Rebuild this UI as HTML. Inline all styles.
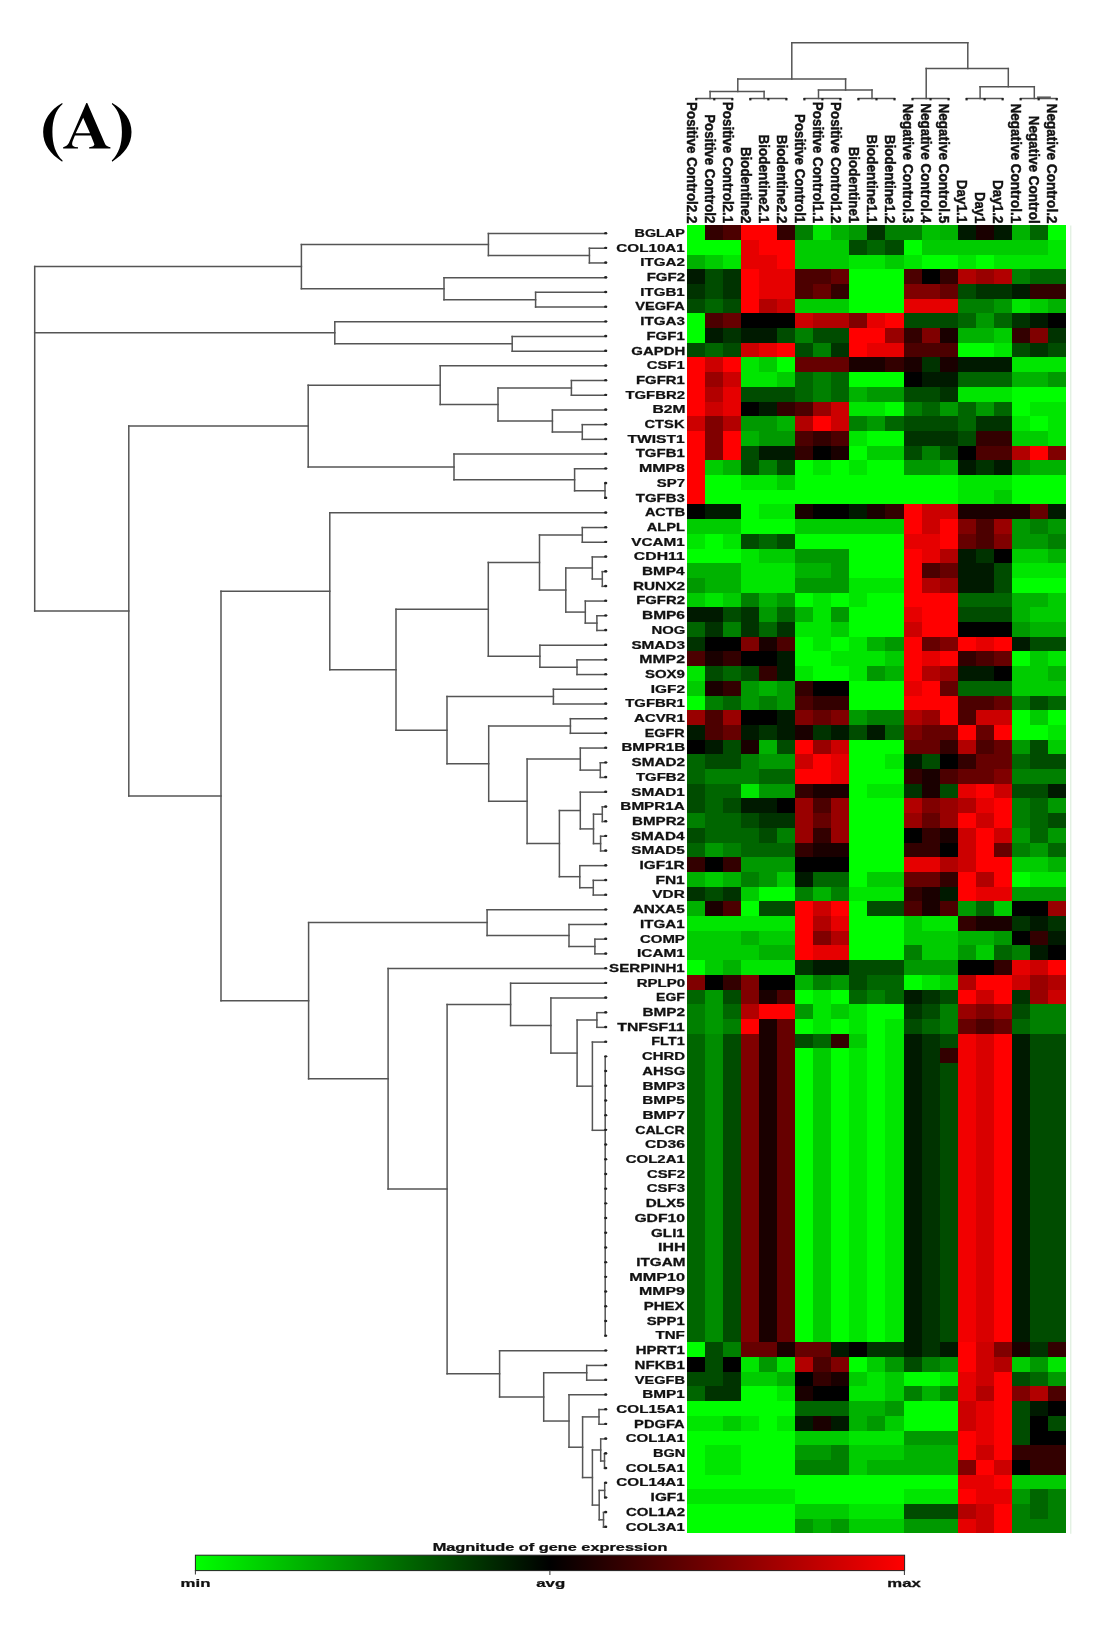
<!DOCTYPE html>
<html><head><meta charset="utf-8"><style>
html,body{margin:0;padding:0;background:#fff;}
body{width:1104px;height:1632px;overflow:hidden;position:relative;}
svg{position:absolute;left:0;top:0;will-change:transform;}
</style></head><body>
<svg width="1104" height="1632" viewBox="0 0 1104 1632">
<rect x="0" y="0" width="1104" height="1632" fill="#ffffff"/>
<g font-family="Liberation Serif" font-weight="bold" fill="#000"></g><path transform="translate(60,98) scale(0.049826)" fill="#000" fill-rule="evenodd" d="M547 98 L905 925 Q930 978 1012 987 L1012 1012 L585 1012 L585 987 Q692 978 690 930 L620 752 L300 752 L255 862 Q228 935 262 962 Q292 986 362 987 L362 1012 L63 1012 L63 987 Q140 975 178 905 L528 98 Z M465 398 L603 705 L316 705 Z"/><path fill="#000" d="M62.2 102.9 C50 110 43.15 120 43.15 132.1 C43.15 144.2 50 154 62.2 161.7 L62.6 160.6 C55.6 154 52.4 144.5 52.4 132.1 C52.4 119.7 55.6 110.2 62.6 104.0 Z"/><path fill="#000" d="M112.2 102.9 C124.5 110 131.5 120 131.5 132.1 C131.5 144.2 124.5 154 112.2 161.7 L111.8 160.6 C118.7 154 121.9 144.5 121.9 132.1 C121.9 119.7 118.7 110.2 111.8 104.0 Z"/>
<g shape-rendering="crispEdges"><rect x="687.25" y="225.10" width="18.62" height="15.30" fill="rgb(0,255,0)"/>
<rect x="705.27" y="225.10" width="18.62" height="15.30" fill="rgb(51,0,0)"/>
<rect x="723.29" y="225.10" width="18.62" height="15.30" fill="rgb(76,0,0)"/>
<rect x="741.31" y="225.10" width="18.62" height="15.30" fill="rgb(255,0,0)"/>
<rect x="759.34" y="225.10" width="18.62" height="15.30" fill="rgb(255,0,0)"/>
<rect x="777.36" y="225.10" width="18.62" height="15.30" fill="rgb(51,0,0)"/>
<rect x="795.38" y="225.10" width="18.62" height="15.30" fill="rgb(0,128,0)"/>
<rect x="813.40" y="225.10" width="18.62" height="15.30" fill="rgb(0,230,0)"/>
<rect x="831.42" y="225.10" width="18.62" height="15.30" fill="rgb(0,178,0)"/>
<rect x="849.44" y="225.10" width="18.62" height="15.30" fill="rgb(0,153,0)"/>
<rect x="867.46" y="225.10" width="18.62" height="15.30" fill="rgb(0,51,0)"/>
<rect x="885.49" y="225.10" width="18.62" height="15.30" fill="rgb(0,128,0)"/>
<rect x="903.51" y="225.10" width="18.62" height="15.30" fill="rgb(0,128,0)"/>
<rect x="921.53" y="225.10" width="18.62" height="15.30" fill="rgb(0,191,0)"/>
<rect x="939.55" y="225.10" width="18.62" height="15.30" fill="rgb(0,178,0)"/>
<rect x="957.57" y="225.10" width="18.62" height="15.30" fill="rgb(0,26,0)"/>
<rect x="975.59" y="225.10" width="18.62" height="15.30" fill="rgb(26,0,0)"/>
<rect x="993.61" y="225.10" width="18.62" height="15.30" fill="rgb(0,26,0)"/>
<rect x="1011.64" y="225.10" width="18.62" height="15.30" fill="rgb(0,178,0)"/>
<rect x="1029.66" y="225.10" width="18.62" height="15.30" fill="rgb(0,102,0)"/>
<rect x="1047.68" y="225.10" width="18.02" height="15.30" fill="rgb(0,255,0)"/>
<rect x="687.25" y="239.80" width="18.62" height="15.30" fill="rgb(0,255,0)"/>
<rect x="705.27" y="239.80" width="18.62" height="15.30" fill="rgb(0,255,0)"/>
<rect x="723.29" y="239.80" width="18.62" height="15.30" fill="rgb(0,255,0)"/>
<rect x="741.31" y="239.80" width="18.62" height="15.30" fill="rgb(230,0,0)"/>
<rect x="759.34" y="239.80" width="18.62" height="15.30" fill="rgb(255,0,0)"/>
<rect x="777.36" y="239.80" width="18.62" height="15.30" fill="rgb(255,0,0)"/>
<rect x="795.38" y="239.80" width="18.62" height="15.30" fill="rgb(0,204,0)"/>
<rect x="813.40" y="239.80" width="18.62" height="15.30" fill="rgb(0,204,0)"/>
<rect x="831.42" y="239.80" width="18.62" height="15.30" fill="rgb(0,204,0)"/>
<rect x="849.44" y="239.80" width="18.62" height="15.30" fill="rgb(0,76,0)"/>
<rect x="867.46" y="239.80" width="18.62" height="15.30" fill="rgb(0,102,0)"/>
<rect x="885.49" y="239.80" width="18.62" height="15.30" fill="rgb(0,76,0)"/>
<rect x="903.51" y="239.80" width="18.62" height="15.30" fill="rgb(0,255,0)"/>
<rect x="921.53" y="239.80" width="18.62" height="15.30" fill="rgb(0,204,0)"/>
<rect x="939.55" y="239.80" width="18.62" height="15.30" fill="rgb(0,204,0)"/>
<rect x="957.57" y="239.80" width="18.62" height="15.30" fill="rgb(0,204,0)"/>
<rect x="975.59" y="239.80" width="18.62" height="15.30" fill="rgb(0,204,0)"/>
<rect x="993.61" y="239.80" width="18.62" height="15.30" fill="rgb(0,204,0)"/>
<rect x="1011.64" y="239.80" width="18.62" height="15.30" fill="rgb(0,204,0)"/>
<rect x="1029.66" y="239.80" width="18.62" height="15.30" fill="rgb(0,204,0)"/>
<rect x="1047.68" y="239.80" width="18.02" height="15.30" fill="rgb(0,230,0)"/>
<rect x="687.25" y="254.50" width="18.62" height="15.30" fill="rgb(0,178,0)"/>
<rect x="705.27" y="254.50" width="18.62" height="15.30" fill="rgb(0,204,0)"/>
<rect x="723.29" y="254.50" width="18.62" height="15.30" fill="rgb(0,230,0)"/>
<rect x="741.31" y="254.50" width="18.62" height="15.30" fill="rgb(230,0,0)"/>
<rect x="759.34" y="254.50" width="18.62" height="15.30" fill="rgb(230,0,0)"/>
<rect x="777.36" y="254.50" width="18.62" height="15.30" fill="rgb(255,0,0)"/>
<rect x="795.38" y="254.50" width="18.62" height="15.30" fill="rgb(0,204,0)"/>
<rect x="813.40" y="254.50" width="18.62" height="15.30" fill="rgb(0,204,0)"/>
<rect x="831.42" y="254.50" width="18.62" height="15.30" fill="rgb(0,204,0)"/>
<rect x="849.44" y="254.50" width="18.62" height="15.30" fill="rgb(0,230,0)"/>
<rect x="867.46" y="254.50" width="18.62" height="15.30" fill="rgb(0,230,0)"/>
<rect x="885.49" y="254.50" width="18.62" height="15.30" fill="rgb(0,204,0)"/>
<rect x="903.51" y="254.50" width="18.62" height="15.30" fill="rgb(0,230,0)"/>
<rect x="921.53" y="254.50" width="18.62" height="15.30" fill="rgb(0,255,0)"/>
<rect x="939.55" y="254.50" width="18.62" height="15.30" fill="rgb(0,255,0)"/>
<rect x="957.57" y="254.50" width="18.62" height="15.30" fill="rgb(0,230,0)"/>
<rect x="975.59" y="254.50" width="18.62" height="15.30" fill="rgb(0,255,0)"/>
<rect x="993.61" y="254.50" width="18.62" height="15.30" fill="rgb(0,230,0)"/>
<rect x="1011.64" y="254.50" width="18.62" height="15.30" fill="rgb(0,230,0)"/>
<rect x="1029.66" y="254.50" width="18.62" height="15.30" fill="rgb(0,230,0)"/>
<rect x="1047.68" y="254.50" width="18.02" height="15.30" fill="rgb(0,230,0)"/>
<rect x="687.25" y="269.20" width="18.62" height="15.30" fill="rgb(0,26,0)"/>
<rect x="705.27" y="269.20" width="18.62" height="15.30" fill="rgb(0,76,0)"/>
<rect x="723.29" y="269.20" width="18.62" height="15.30" fill="rgb(0,51,0)"/>
<rect x="741.31" y="269.20" width="18.62" height="15.30" fill="rgb(255,0,0)"/>
<rect x="759.34" y="269.20" width="18.62" height="15.30" fill="rgb(230,0,0)"/>
<rect x="777.36" y="269.20" width="18.62" height="15.30" fill="rgb(230,0,0)"/>
<rect x="795.38" y="269.20" width="18.62" height="15.30" fill="rgb(76,0,0)"/>
<rect x="813.40" y="269.20" width="18.62" height="15.30" fill="rgb(76,0,0)"/>
<rect x="831.42" y="269.20" width="18.62" height="15.30" fill="rgb(102,0,0)"/>
<rect x="849.44" y="269.20" width="18.62" height="15.30" fill="rgb(0,255,0)"/>
<rect x="867.46" y="269.20" width="18.62" height="15.30" fill="rgb(0,255,0)"/>
<rect x="885.49" y="269.20" width="18.62" height="15.30" fill="rgb(0,255,0)"/>
<rect x="903.51" y="269.20" width="18.62" height="15.30" fill="rgb(76,0,0)"/>
<rect x="921.53" y="269.20" width="18.62" height="15.30" fill="rgb(0,0,0)"/>
<rect x="939.55" y="269.20" width="18.62" height="15.30" fill="rgb(51,0,0)"/>
<rect x="957.57" y="269.20" width="18.62" height="15.30" fill="rgb(178,0,0)"/>
<rect x="975.59" y="269.20" width="18.62" height="15.30" fill="rgb(153,0,0)"/>
<rect x="993.61" y="269.20" width="18.62" height="15.30" fill="rgb(178,0,0)"/>
<rect x="1011.64" y="269.20" width="18.62" height="15.30" fill="rgb(0,128,0)"/>
<rect x="1029.66" y="269.20" width="18.62" height="15.30" fill="rgb(0,102,0)"/>
<rect x="1047.68" y="269.20" width="18.02" height="15.30" fill="rgb(0,102,0)"/>
<rect x="687.25" y="283.90" width="18.62" height="15.30" fill="rgb(0,51,0)"/>
<rect x="705.27" y="283.90" width="18.62" height="15.30" fill="rgb(0,76,0)"/>
<rect x="723.29" y="283.90" width="18.62" height="15.30" fill="rgb(0,51,0)"/>
<rect x="741.31" y="283.90" width="18.62" height="15.30" fill="rgb(255,0,0)"/>
<rect x="759.34" y="283.90" width="18.62" height="15.30" fill="rgb(230,0,0)"/>
<rect x="777.36" y="283.90" width="18.62" height="15.30" fill="rgb(230,0,0)"/>
<rect x="795.38" y="283.90" width="18.62" height="15.30" fill="rgb(76,0,0)"/>
<rect x="813.40" y="283.90" width="18.62" height="15.30" fill="rgb(102,0,0)"/>
<rect x="831.42" y="283.90" width="18.62" height="15.30" fill="rgb(51,0,0)"/>
<rect x="849.44" y="283.90" width="18.62" height="15.30" fill="rgb(0,255,0)"/>
<rect x="867.46" y="283.90" width="18.62" height="15.30" fill="rgb(0,255,0)"/>
<rect x="885.49" y="283.90" width="18.62" height="15.30" fill="rgb(0,255,0)"/>
<rect x="903.51" y="283.90" width="18.62" height="15.30" fill="rgb(128,0,0)"/>
<rect x="921.53" y="283.90" width="18.62" height="15.30" fill="rgb(128,0,0)"/>
<rect x="939.55" y="283.90" width="18.62" height="15.30" fill="rgb(102,0,0)"/>
<rect x="957.57" y="283.90" width="18.62" height="15.30" fill="rgb(0,76,0)"/>
<rect x="975.59" y="283.90" width="18.62" height="15.30" fill="rgb(0,51,0)"/>
<rect x="993.61" y="283.90" width="18.62" height="15.30" fill="rgb(0,51,0)"/>
<rect x="1011.64" y="283.90" width="18.62" height="15.30" fill="rgb(0,26,0)"/>
<rect x="1029.66" y="283.90" width="18.62" height="15.30" fill="rgb(51,0,0)"/>
<rect x="1047.68" y="283.90" width="18.02" height="15.30" fill="rgb(51,0,0)"/>
<rect x="687.25" y="298.60" width="18.62" height="15.30" fill="rgb(0,76,0)"/>
<rect x="705.27" y="298.60" width="18.62" height="15.30" fill="rgb(0,102,0)"/>
<rect x="723.29" y="298.60" width="18.62" height="15.30" fill="rgb(0,76,0)"/>
<rect x="741.31" y="298.60" width="18.62" height="15.30" fill="rgb(255,0,0)"/>
<rect x="759.34" y="298.60" width="18.62" height="15.30" fill="rgb(178,0,0)"/>
<rect x="777.36" y="298.60" width="18.62" height="15.30" fill="rgb(204,0,0)"/>
<rect x="795.38" y="298.60" width="18.62" height="15.30" fill="rgb(0,204,0)"/>
<rect x="813.40" y="298.60" width="18.62" height="15.30" fill="rgb(0,204,0)"/>
<rect x="831.42" y="298.60" width="18.62" height="15.30" fill="rgb(0,204,0)"/>
<rect x="849.44" y="298.60" width="18.62" height="15.30" fill="rgb(0,255,0)"/>
<rect x="867.46" y="298.60" width="18.62" height="15.30" fill="rgb(0,255,0)"/>
<rect x="885.49" y="298.60" width="18.62" height="15.30" fill="rgb(0,255,0)"/>
<rect x="903.51" y="298.60" width="18.62" height="15.30" fill="rgb(230,0,0)"/>
<rect x="921.53" y="298.60" width="18.62" height="15.30" fill="rgb(230,0,0)"/>
<rect x="939.55" y="298.60" width="18.62" height="15.30" fill="rgb(230,0,0)"/>
<rect x="957.57" y="298.60" width="18.62" height="15.30" fill="rgb(0,128,0)"/>
<rect x="975.59" y="298.60" width="18.62" height="15.30" fill="rgb(0,128,0)"/>
<rect x="993.61" y="298.60" width="18.62" height="15.30" fill="rgb(0,153,0)"/>
<rect x="1011.64" y="298.60" width="18.62" height="15.30" fill="rgb(0,230,0)"/>
<rect x="1029.66" y="298.60" width="18.62" height="15.30" fill="rgb(0,204,0)"/>
<rect x="1047.68" y="298.60" width="18.02" height="15.30" fill="rgb(0,178,0)"/>
<rect x="687.25" y="313.30" width="18.62" height="15.30" fill="rgb(0,255,0)"/>
<rect x="705.27" y="313.30" width="18.62" height="15.30" fill="rgb(76,0,0)"/>
<rect x="723.29" y="313.30" width="18.62" height="15.30" fill="rgb(102,0,0)"/>
<rect x="741.31" y="313.30" width="18.62" height="15.30" fill="rgb(0,0,0)"/>
<rect x="759.34" y="313.30" width="18.62" height="15.30" fill="rgb(0,0,0)"/>
<rect x="777.36" y="313.30" width="18.62" height="15.30" fill="rgb(0,0,0)"/>
<rect x="795.38" y="313.30" width="18.62" height="15.30" fill="rgb(204,0,0)"/>
<rect x="813.40" y="313.30" width="18.62" height="15.30" fill="rgb(178,0,0)"/>
<rect x="831.42" y="313.30" width="18.62" height="15.30" fill="rgb(178,0,0)"/>
<rect x="849.44" y="313.30" width="18.62" height="15.30" fill="rgb(128,0,0)"/>
<rect x="867.46" y="313.30" width="18.62" height="15.30" fill="rgb(230,0,0)"/>
<rect x="885.49" y="313.30" width="18.62" height="15.30" fill="rgb(255,0,0)"/>
<rect x="903.51" y="313.30" width="18.62" height="15.30" fill="rgb(0,76,0)"/>
<rect x="921.53" y="313.30" width="18.62" height="15.30" fill="rgb(0,76,0)"/>
<rect x="939.55" y="313.30" width="18.62" height="15.30" fill="rgb(0,76,0)"/>
<rect x="957.57" y="313.30" width="18.62" height="15.30" fill="rgb(0,102,0)"/>
<rect x="975.59" y="313.30" width="18.62" height="15.30" fill="rgb(0,153,0)"/>
<rect x="993.61" y="313.30" width="18.62" height="15.30" fill="rgb(0,102,0)"/>
<rect x="1011.64" y="313.30" width="18.62" height="15.30" fill="rgb(0,51,0)"/>
<rect x="1029.66" y="313.30" width="18.62" height="15.30" fill="rgb(0,26,0)"/>
<rect x="1047.68" y="313.30" width="18.02" height="15.30" fill="rgb(0,0,0)"/>
<rect x="687.25" y="328.00" width="18.62" height="15.30" fill="rgb(0,255,0)"/>
<rect x="705.27" y="328.00" width="18.62" height="15.30" fill="rgb(0,26,0)"/>
<rect x="723.29" y="328.00" width="18.62" height="15.30" fill="rgb(0,51,0)"/>
<rect x="741.31" y="328.00" width="18.62" height="15.30" fill="rgb(0,26,0)"/>
<rect x="759.34" y="328.00" width="18.62" height="15.30" fill="rgb(0,26,0)"/>
<rect x="777.36" y="328.00" width="18.62" height="15.30" fill="rgb(0,76,0)"/>
<rect x="795.38" y="328.00" width="18.62" height="15.30" fill="rgb(0,128,0)"/>
<rect x="813.40" y="328.00" width="18.62" height="15.30" fill="rgb(0,76,0)"/>
<rect x="831.42" y="328.00" width="18.62" height="15.30" fill="rgb(0,76,0)"/>
<rect x="849.44" y="328.00" width="18.62" height="15.30" fill="rgb(255,0,0)"/>
<rect x="867.46" y="328.00" width="18.62" height="15.30" fill="rgb(255,0,0)"/>
<rect x="885.49" y="328.00" width="18.62" height="15.30" fill="rgb(153,0,0)"/>
<rect x="903.51" y="328.00" width="18.62" height="15.30" fill="rgb(51,0,0)"/>
<rect x="921.53" y="328.00" width="18.62" height="15.30" fill="rgb(128,0,0)"/>
<rect x="939.55" y="328.00" width="18.62" height="15.30" fill="rgb(26,0,0)"/>
<rect x="957.57" y="328.00" width="18.62" height="15.30" fill="rgb(0,178,0)"/>
<rect x="975.59" y="328.00" width="18.62" height="15.30" fill="rgb(0,178,0)"/>
<rect x="993.61" y="328.00" width="18.62" height="15.30" fill="rgb(0,204,0)"/>
<rect x="1011.64" y="328.00" width="18.62" height="15.30" fill="rgb(51,0,0)"/>
<rect x="1029.66" y="328.00" width="18.62" height="15.30" fill="rgb(128,0,0)"/>
<rect x="1047.68" y="328.00" width="18.02" height="15.30" fill="rgb(0,51,0)"/>
<rect x="687.25" y="342.70" width="18.62" height="15.30" fill="rgb(0,76,0)"/>
<rect x="705.27" y="342.70" width="18.62" height="15.30" fill="rgb(0,102,0)"/>
<rect x="723.29" y="342.70" width="18.62" height="15.30" fill="rgb(0,76,0)"/>
<rect x="741.31" y="342.70" width="18.62" height="15.30" fill="rgb(204,0,0)"/>
<rect x="759.34" y="342.70" width="18.62" height="15.30" fill="rgb(230,0,0)"/>
<rect x="777.36" y="342.70" width="18.62" height="15.30" fill="rgb(255,0,0)"/>
<rect x="795.38" y="342.70" width="18.62" height="15.30" fill="rgb(0,76,0)"/>
<rect x="813.40" y="342.70" width="18.62" height="15.30" fill="rgb(0,128,0)"/>
<rect x="831.42" y="342.70" width="18.62" height="15.30" fill="rgb(0,51,0)"/>
<rect x="849.44" y="342.70" width="18.62" height="15.30" fill="rgb(255,0,0)"/>
<rect x="867.46" y="342.70" width="18.62" height="15.30" fill="rgb(230,0,0)"/>
<rect x="885.49" y="342.70" width="18.62" height="15.30" fill="rgb(230,0,0)"/>
<rect x="903.51" y="342.70" width="18.62" height="15.30" fill="rgb(76,0,0)"/>
<rect x="921.53" y="342.70" width="18.62" height="15.30" fill="rgb(76,0,0)"/>
<rect x="939.55" y="342.70" width="18.62" height="15.30" fill="rgb(76,0,0)"/>
<rect x="957.57" y="342.70" width="18.62" height="15.30" fill="rgb(0,255,0)"/>
<rect x="975.59" y="342.70" width="18.62" height="15.30" fill="rgb(0,255,0)"/>
<rect x="993.61" y="342.70" width="18.62" height="15.30" fill="rgb(0,230,0)"/>
<rect x="1011.64" y="342.70" width="18.62" height="15.30" fill="rgb(0,76,0)"/>
<rect x="1029.66" y="342.70" width="18.62" height="15.30" fill="rgb(0,51,0)"/>
<rect x="1047.68" y="342.70" width="18.02" height="15.30" fill="rgb(0,76,0)"/>
<rect x="687.25" y="357.40" width="18.62" height="15.30" fill="rgb(255,0,0)"/>
<rect x="705.27" y="357.40" width="18.62" height="15.30" fill="rgb(204,0,0)"/>
<rect x="723.29" y="357.40" width="18.62" height="15.30" fill="rgb(255,0,0)"/>
<rect x="741.31" y="357.40" width="18.62" height="15.30" fill="rgb(0,230,0)"/>
<rect x="759.34" y="357.40" width="18.62" height="15.30" fill="rgb(0,204,0)"/>
<rect x="777.36" y="357.40" width="18.62" height="15.30" fill="rgb(0,255,0)"/>
<rect x="795.38" y="357.40" width="18.62" height="15.30" fill="rgb(102,0,0)"/>
<rect x="813.40" y="357.40" width="18.62" height="15.30" fill="rgb(102,0,0)"/>
<rect x="831.42" y="357.40" width="18.62" height="15.30" fill="rgb(102,0,0)"/>
<rect x="849.44" y="357.40" width="18.62" height="15.30" fill="rgb(26,0,0)"/>
<rect x="867.46" y="357.40" width="18.62" height="15.30" fill="rgb(26,0,0)"/>
<rect x="885.49" y="357.40" width="18.62" height="15.30" fill="rgb(51,0,0)"/>
<rect x="903.51" y="357.40" width="18.62" height="15.30" fill="rgb(26,0,0)"/>
<rect x="921.53" y="357.40" width="18.62" height="15.30" fill="rgb(0,51,0)"/>
<rect x="939.55" y="357.40" width="18.62" height="15.30" fill="rgb(26,0,0)"/>
<rect x="957.57" y="357.40" width="18.62" height="15.30" fill="rgb(0,26,0)"/>
<rect x="975.59" y="357.40" width="18.62" height="15.30" fill="rgb(0,26,0)"/>
<rect x="993.61" y="357.40" width="18.62" height="15.30" fill="rgb(0,26,0)"/>
<rect x="1011.64" y="357.40" width="18.62" height="15.30" fill="rgb(0,230,0)"/>
<rect x="1029.66" y="357.40" width="18.62" height="15.30" fill="rgb(0,230,0)"/>
<rect x="1047.68" y="357.40" width="18.02" height="15.30" fill="rgb(0,230,0)"/>
<rect x="687.25" y="372.10" width="18.62" height="15.30" fill="rgb(255,0,0)"/>
<rect x="705.27" y="372.10" width="18.62" height="15.30" fill="rgb(153,0,0)"/>
<rect x="723.29" y="372.10" width="18.62" height="15.30" fill="rgb(204,0,0)"/>
<rect x="741.31" y="372.10" width="18.62" height="15.30" fill="rgb(0,230,0)"/>
<rect x="759.34" y="372.10" width="18.62" height="15.30" fill="rgb(0,230,0)"/>
<rect x="777.36" y="372.10" width="18.62" height="15.30" fill="rgb(0,204,0)"/>
<rect x="795.38" y="372.10" width="18.62" height="15.30" fill="rgb(0,102,0)"/>
<rect x="813.40" y="372.10" width="18.62" height="15.30" fill="rgb(0,128,0)"/>
<rect x="831.42" y="372.10" width="18.62" height="15.30" fill="rgb(0,102,0)"/>
<rect x="849.44" y="372.10" width="18.62" height="15.30" fill="rgb(0,255,0)"/>
<rect x="867.46" y="372.10" width="18.62" height="15.30" fill="rgb(0,255,0)"/>
<rect x="885.49" y="372.10" width="18.62" height="15.30" fill="rgb(0,255,0)"/>
<rect x="903.51" y="372.10" width="18.62" height="15.30" fill="rgb(0,0,0)"/>
<rect x="921.53" y="372.10" width="18.62" height="15.30" fill="rgb(0,26,0)"/>
<rect x="939.55" y="372.10" width="18.62" height="15.30" fill="rgb(0,26,0)"/>
<rect x="957.57" y="372.10" width="18.62" height="15.30" fill="rgb(0,102,0)"/>
<rect x="975.59" y="372.10" width="18.62" height="15.30" fill="rgb(0,102,0)"/>
<rect x="993.61" y="372.10" width="18.62" height="15.30" fill="rgb(0,102,0)"/>
<rect x="1011.64" y="372.10" width="18.62" height="15.30" fill="rgb(0,178,0)"/>
<rect x="1029.66" y="372.10" width="18.62" height="15.30" fill="rgb(0,178,0)"/>
<rect x="1047.68" y="372.10" width="18.02" height="15.30" fill="rgb(0,153,0)"/>
<rect x="687.25" y="386.80" width="18.62" height="15.30" fill="rgb(255,0,0)"/>
<rect x="705.27" y="386.80" width="18.62" height="15.30" fill="rgb(178,0,0)"/>
<rect x="723.29" y="386.80" width="18.62" height="15.30" fill="rgb(230,0,0)"/>
<rect x="741.31" y="386.80" width="18.62" height="15.30" fill="rgb(0,76,0)"/>
<rect x="759.34" y="386.80" width="18.62" height="15.30" fill="rgb(0,76,0)"/>
<rect x="777.36" y="386.80" width="18.62" height="15.30" fill="rgb(0,76,0)"/>
<rect x="795.38" y="386.80" width="18.62" height="15.30" fill="rgb(0,102,0)"/>
<rect x="813.40" y="386.80" width="18.62" height="15.30" fill="rgb(0,128,0)"/>
<rect x="831.42" y="386.80" width="18.62" height="15.30" fill="rgb(0,102,0)"/>
<rect x="849.44" y="386.80" width="18.62" height="15.30" fill="rgb(0,178,0)"/>
<rect x="867.46" y="386.80" width="18.62" height="15.30" fill="rgb(0,153,0)"/>
<rect x="885.49" y="386.80" width="18.62" height="15.30" fill="rgb(0,153,0)"/>
<rect x="903.51" y="386.80" width="18.62" height="15.30" fill="rgb(0,76,0)"/>
<rect x="921.53" y="386.80" width="18.62" height="15.30" fill="rgb(0,76,0)"/>
<rect x="939.55" y="386.80" width="18.62" height="15.30" fill="rgb(0,51,0)"/>
<rect x="957.57" y="386.80" width="18.62" height="15.30" fill="rgb(0,230,0)"/>
<rect x="975.59" y="386.80" width="18.62" height="15.30" fill="rgb(0,230,0)"/>
<rect x="993.61" y="386.80" width="18.62" height="15.30" fill="rgb(0,230,0)"/>
<rect x="1011.64" y="386.80" width="18.62" height="15.30" fill="rgb(0,255,0)"/>
<rect x="1029.66" y="386.80" width="18.62" height="15.30" fill="rgb(0,255,0)"/>
<rect x="1047.68" y="386.80" width="18.02" height="15.30" fill="rgb(0,255,0)"/>
<rect x="687.25" y="401.50" width="18.62" height="15.30" fill="rgb(255,0,0)"/>
<rect x="705.27" y="401.50" width="18.62" height="15.30" fill="rgb(204,0,0)"/>
<rect x="723.29" y="401.50" width="18.62" height="15.30" fill="rgb(230,0,0)"/>
<rect x="741.31" y="401.50" width="18.62" height="15.30" fill="rgb(0,0,0)"/>
<rect x="759.34" y="401.50" width="18.62" height="15.30" fill="rgb(0,26,0)"/>
<rect x="777.36" y="401.50" width="18.62" height="15.30" fill="rgb(51,0,0)"/>
<rect x="795.38" y="401.50" width="18.62" height="15.30" fill="rgb(76,0,0)"/>
<rect x="813.40" y="401.50" width="18.62" height="15.30" fill="rgb(153,0,0)"/>
<rect x="831.42" y="401.50" width="18.62" height="15.30" fill="rgb(204,0,0)"/>
<rect x="849.44" y="401.50" width="18.62" height="15.30" fill="rgb(0,230,0)"/>
<rect x="867.46" y="401.50" width="18.62" height="15.30" fill="rgb(0,230,0)"/>
<rect x="885.49" y="401.50" width="18.62" height="15.30" fill="rgb(0,255,0)"/>
<rect x="903.51" y="401.50" width="18.62" height="15.30" fill="rgb(0,128,0)"/>
<rect x="921.53" y="401.50" width="18.62" height="15.30" fill="rgb(0,102,0)"/>
<rect x="939.55" y="401.50" width="18.62" height="15.30" fill="rgb(0,153,0)"/>
<rect x="957.57" y="401.50" width="18.62" height="15.30" fill="rgb(0,102,0)"/>
<rect x="975.59" y="401.50" width="18.62" height="15.30" fill="rgb(0,153,0)"/>
<rect x="993.61" y="401.50" width="18.62" height="15.30" fill="rgb(0,102,0)"/>
<rect x="1011.64" y="401.50" width="18.62" height="15.30" fill="rgb(0,255,0)"/>
<rect x="1029.66" y="401.50" width="18.62" height="15.30" fill="rgb(0,230,0)"/>
<rect x="1047.68" y="401.50" width="18.02" height="15.30" fill="rgb(0,230,0)"/>
<rect x="687.25" y="416.20" width="18.62" height="15.30" fill="rgb(204,0,0)"/>
<rect x="705.27" y="416.20" width="18.62" height="15.30" fill="rgb(128,0,0)"/>
<rect x="723.29" y="416.20" width="18.62" height="15.30" fill="rgb(178,0,0)"/>
<rect x="741.31" y="416.20" width="18.62" height="15.30" fill="rgb(0,153,0)"/>
<rect x="759.34" y="416.20" width="18.62" height="15.30" fill="rgb(0,153,0)"/>
<rect x="777.36" y="416.20" width="18.62" height="15.30" fill="rgb(0,178,0)"/>
<rect x="795.38" y="416.20" width="18.62" height="15.30" fill="rgb(178,0,0)"/>
<rect x="813.40" y="416.20" width="18.62" height="15.30" fill="rgb(255,0,0)"/>
<rect x="831.42" y="416.20" width="18.62" height="15.30" fill="rgb(204,0,0)"/>
<rect x="849.44" y="416.20" width="18.62" height="15.30" fill="rgb(0,128,0)"/>
<rect x="867.46" y="416.20" width="18.62" height="15.30" fill="rgb(0,153,0)"/>
<rect x="885.49" y="416.20" width="18.62" height="15.30" fill="rgb(0,102,0)"/>
<rect x="903.51" y="416.20" width="18.62" height="15.30" fill="rgb(0,76,0)"/>
<rect x="921.53" y="416.20" width="18.62" height="15.30" fill="rgb(0,76,0)"/>
<rect x="939.55" y="416.20" width="18.62" height="15.30" fill="rgb(0,76,0)"/>
<rect x="957.57" y="416.20" width="18.62" height="15.30" fill="rgb(0,102,0)"/>
<rect x="975.59" y="416.20" width="18.62" height="15.30" fill="rgb(0,51,0)"/>
<rect x="993.61" y="416.20" width="18.62" height="15.30" fill="rgb(0,51,0)"/>
<rect x="1011.64" y="416.20" width="18.62" height="15.30" fill="rgb(0,230,0)"/>
<rect x="1029.66" y="416.20" width="18.62" height="15.30" fill="rgb(0,255,0)"/>
<rect x="1047.68" y="416.20" width="18.02" height="15.30" fill="rgb(0,230,0)"/>
<rect x="687.25" y="430.90" width="18.62" height="15.30" fill="rgb(255,0,0)"/>
<rect x="705.27" y="430.90" width="18.62" height="15.30" fill="rgb(128,0,0)"/>
<rect x="723.29" y="430.90" width="18.62" height="15.30" fill="rgb(255,0,0)"/>
<rect x="741.31" y="430.90" width="18.62" height="15.30" fill="rgb(0,178,0)"/>
<rect x="759.34" y="430.90" width="18.62" height="15.30" fill="rgb(0,153,0)"/>
<rect x="777.36" y="430.90" width="18.62" height="15.30" fill="rgb(0,153,0)"/>
<rect x="795.38" y="430.90" width="18.62" height="15.30" fill="rgb(76,0,0)"/>
<rect x="813.40" y="430.90" width="18.62" height="15.30" fill="rgb(51,0,0)"/>
<rect x="831.42" y="430.90" width="18.62" height="15.30" fill="rgb(76,0,0)"/>
<rect x="849.44" y="430.90" width="18.62" height="15.30" fill="rgb(0,230,0)"/>
<rect x="867.46" y="430.90" width="18.62" height="15.30" fill="rgb(0,255,0)"/>
<rect x="885.49" y="430.90" width="18.62" height="15.30" fill="rgb(0,255,0)"/>
<rect x="903.51" y="430.90" width="18.62" height="15.30" fill="rgb(0,51,0)"/>
<rect x="921.53" y="430.90" width="18.62" height="15.30" fill="rgb(0,51,0)"/>
<rect x="939.55" y="430.90" width="18.62" height="15.30" fill="rgb(0,51,0)"/>
<rect x="957.57" y="430.90" width="18.62" height="15.30" fill="rgb(0,76,0)"/>
<rect x="975.59" y="430.90" width="18.62" height="15.30" fill="rgb(51,0,0)"/>
<rect x="993.61" y="430.90" width="18.62" height="15.30" fill="rgb(51,0,0)"/>
<rect x="1011.64" y="430.90" width="18.62" height="15.30" fill="rgb(0,204,0)"/>
<rect x="1029.66" y="430.90" width="18.62" height="15.30" fill="rgb(0,204,0)"/>
<rect x="1047.68" y="430.90" width="18.02" height="15.30" fill="rgb(0,230,0)"/>
<rect x="687.25" y="445.60" width="18.62" height="15.30" fill="rgb(255,0,0)"/>
<rect x="705.27" y="445.60" width="18.62" height="15.30" fill="rgb(128,0,0)"/>
<rect x="723.29" y="445.60" width="18.62" height="15.30" fill="rgb(255,0,0)"/>
<rect x="741.31" y="445.60" width="18.62" height="15.30" fill="rgb(0,76,0)"/>
<rect x="759.34" y="445.60" width="18.62" height="15.30" fill="rgb(0,26,0)"/>
<rect x="777.36" y="445.60" width="18.62" height="15.30" fill="rgb(0,26,0)"/>
<rect x="795.38" y="445.60" width="18.62" height="15.30" fill="rgb(51,0,0)"/>
<rect x="813.40" y="445.60" width="18.62" height="15.30" fill="rgb(0,0,0)"/>
<rect x="831.42" y="445.60" width="18.62" height="15.30" fill="rgb(26,0,0)"/>
<rect x="849.44" y="445.60" width="18.62" height="15.30" fill="rgb(0,255,0)"/>
<rect x="867.46" y="445.60" width="18.62" height="15.30" fill="rgb(0,204,0)"/>
<rect x="885.49" y="445.60" width="18.62" height="15.30" fill="rgb(0,204,0)"/>
<rect x="903.51" y="445.60" width="18.62" height="15.30" fill="rgb(0,76,0)"/>
<rect x="921.53" y="445.60" width="18.62" height="15.30" fill="rgb(0,128,0)"/>
<rect x="939.55" y="445.60" width="18.62" height="15.30" fill="rgb(0,76,0)"/>
<rect x="957.57" y="445.60" width="18.62" height="15.30" fill="rgb(0,0,0)"/>
<rect x="975.59" y="445.60" width="18.62" height="15.30" fill="rgb(76,0,0)"/>
<rect x="993.61" y="445.60" width="18.62" height="15.30" fill="rgb(76,0,0)"/>
<rect x="1011.64" y="445.60" width="18.62" height="15.30" fill="rgb(178,0,0)"/>
<rect x="1029.66" y="445.60" width="18.62" height="15.30" fill="rgb(255,0,0)"/>
<rect x="1047.68" y="445.60" width="18.02" height="15.30" fill="rgb(128,0,0)"/>
<rect x="687.25" y="460.30" width="18.62" height="15.30" fill="rgb(255,0,0)"/>
<rect x="705.27" y="460.30" width="18.62" height="15.30" fill="rgb(0,204,0)"/>
<rect x="723.29" y="460.30" width="18.62" height="15.30" fill="rgb(0,178,0)"/>
<rect x="741.31" y="460.30" width="18.62" height="15.30" fill="rgb(0,76,0)"/>
<rect x="759.34" y="460.30" width="18.62" height="15.30" fill="rgb(0,128,0)"/>
<rect x="777.36" y="460.30" width="18.62" height="15.30" fill="rgb(0,76,0)"/>
<rect x="795.38" y="460.30" width="18.62" height="15.30" fill="rgb(0,255,0)"/>
<rect x="813.40" y="460.30" width="18.62" height="15.30" fill="rgb(0,230,0)"/>
<rect x="831.42" y="460.30" width="18.62" height="15.30" fill="rgb(0,255,0)"/>
<rect x="849.44" y="460.30" width="18.62" height="15.30" fill="rgb(0,230,0)"/>
<rect x="867.46" y="460.30" width="18.62" height="15.30" fill="rgb(0,255,0)"/>
<rect x="885.49" y="460.30" width="18.62" height="15.30" fill="rgb(0,255,0)"/>
<rect x="903.51" y="460.30" width="18.62" height="15.30" fill="rgb(0,153,0)"/>
<rect x="921.53" y="460.30" width="18.62" height="15.30" fill="rgb(0,153,0)"/>
<rect x="939.55" y="460.30" width="18.62" height="15.30" fill="rgb(0,178,0)"/>
<rect x="957.57" y="460.30" width="18.62" height="15.30" fill="rgb(0,26,0)"/>
<rect x="975.59" y="460.30" width="18.62" height="15.30" fill="rgb(0,51,0)"/>
<rect x="993.61" y="460.30" width="18.62" height="15.30" fill="rgb(0,26,0)"/>
<rect x="1011.64" y="460.30" width="18.62" height="15.30" fill="rgb(0,153,0)"/>
<rect x="1029.66" y="460.30" width="18.62" height="15.30" fill="rgb(0,178,0)"/>
<rect x="1047.68" y="460.30" width="18.02" height="15.30" fill="rgb(0,178,0)"/>
<rect x="687.25" y="475.00" width="18.62" height="15.30" fill="rgb(255,0,0)"/>
<rect x="705.27" y="475.00" width="18.62" height="15.30" fill="rgb(0,255,0)"/>
<rect x="723.29" y="475.00" width="18.62" height="15.30" fill="rgb(0,255,0)"/>
<rect x="741.31" y="475.00" width="18.62" height="15.30" fill="rgb(0,230,0)"/>
<rect x="759.34" y="475.00" width="18.62" height="15.30" fill="rgb(0,230,0)"/>
<rect x="777.36" y="475.00" width="18.62" height="15.30" fill="rgb(0,204,0)"/>
<rect x="795.38" y="475.00" width="18.62" height="15.30" fill="rgb(0,255,0)"/>
<rect x="813.40" y="475.00" width="18.62" height="15.30" fill="rgb(0,255,0)"/>
<rect x="831.42" y="475.00" width="18.62" height="15.30" fill="rgb(0,255,0)"/>
<rect x="849.44" y="475.00" width="18.62" height="15.30" fill="rgb(0,255,0)"/>
<rect x="867.46" y="475.00" width="18.62" height="15.30" fill="rgb(0,255,0)"/>
<rect x="885.49" y="475.00" width="18.62" height="15.30" fill="rgb(0,255,0)"/>
<rect x="903.51" y="475.00" width="18.62" height="15.30" fill="rgb(0,255,0)"/>
<rect x="921.53" y="475.00" width="18.62" height="15.30" fill="rgb(0,255,0)"/>
<rect x="939.55" y="475.00" width="18.62" height="15.30" fill="rgb(0,255,0)"/>
<rect x="957.57" y="475.00" width="18.62" height="15.30" fill="rgb(0,230,0)"/>
<rect x="975.59" y="475.00" width="18.62" height="15.30" fill="rgb(0,230,0)"/>
<rect x="993.61" y="475.00" width="18.62" height="15.30" fill="rgb(0,230,0)"/>
<rect x="1011.64" y="475.00" width="18.62" height="15.30" fill="rgb(0,255,0)"/>
<rect x="1029.66" y="475.00" width="18.62" height="15.30" fill="rgb(0,255,0)"/>
<rect x="1047.68" y="475.00" width="18.02" height="15.30" fill="rgb(0,255,0)"/>
<rect x="687.25" y="489.70" width="18.62" height="15.30" fill="rgb(255,0,0)"/>
<rect x="705.27" y="489.70" width="18.62" height="15.30" fill="rgb(0,255,0)"/>
<rect x="723.29" y="489.70" width="18.62" height="15.30" fill="rgb(0,255,0)"/>
<rect x="741.31" y="489.70" width="18.62" height="15.30" fill="rgb(0,255,0)"/>
<rect x="759.34" y="489.70" width="18.62" height="15.30" fill="rgb(0,255,0)"/>
<rect x="777.36" y="489.70" width="18.62" height="15.30" fill="rgb(0,255,0)"/>
<rect x="795.38" y="489.70" width="18.62" height="15.30" fill="rgb(0,255,0)"/>
<rect x="813.40" y="489.70" width="18.62" height="15.30" fill="rgb(0,255,0)"/>
<rect x="831.42" y="489.70" width="18.62" height="15.30" fill="rgb(0,255,0)"/>
<rect x="849.44" y="489.70" width="18.62" height="15.30" fill="rgb(0,255,0)"/>
<rect x="867.46" y="489.70" width="18.62" height="15.30" fill="rgb(0,255,0)"/>
<rect x="885.49" y="489.70" width="18.62" height="15.30" fill="rgb(0,255,0)"/>
<rect x="903.51" y="489.70" width="18.62" height="15.30" fill="rgb(0,255,0)"/>
<rect x="921.53" y="489.70" width="18.62" height="15.30" fill="rgb(0,255,0)"/>
<rect x="939.55" y="489.70" width="18.62" height="15.30" fill="rgb(0,255,0)"/>
<rect x="957.57" y="489.70" width="18.62" height="15.30" fill="rgb(0,230,0)"/>
<rect x="975.59" y="489.70" width="18.62" height="15.30" fill="rgb(0,230,0)"/>
<rect x="993.61" y="489.70" width="18.62" height="15.30" fill="rgb(0,204,0)"/>
<rect x="1011.64" y="489.70" width="18.62" height="15.30" fill="rgb(0,255,0)"/>
<rect x="1029.66" y="489.70" width="18.62" height="15.30" fill="rgb(0,255,0)"/>
<rect x="1047.68" y="489.70" width="18.02" height="15.30" fill="rgb(0,255,0)"/>
<rect x="687.25" y="504.40" width="18.62" height="15.30" fill="rgb(0,0,0)"/>
<rect x="705.27" y="504.40" width="18.62" height="15.30" fill="rgb(0,26,0)"/>
<rect x="723.29" y="504.40" width="18.62" height="15.30" fill="rgb(0,26,0)"/>
<rect x="741.31" y="504.40" width="18.62" height="15.30" fill="rgb(0,255,0)"/>
<rect x="759.34" y="504.40" width="18.62" height="15.30" fill="rgb(0,230,0)"/>
<rect x="777.36" y="504.40" width="18.62" height="15.30" fill="rgb(0,230,0)"/>
<rect x="795.38" y="504.40" width="18.62" height="15.30" fill="rgb(26,0,0)"/>
<rect x="813.40" y="504.40" width="18.62" height="15.30" fill="rgb(0,0,0)"/>
<rect x="831.42" y="504.40" width="18.62" height="15.30" fill="rgb(0,0,0)"/>
<rect x="849.44" y="504.40" width="18.62" height="15.30" fill="rgb(0,26,0)"/>
<rect x="867.46" y="504.40" width="18.62" height="15.30" fill="rgb(26,0,0)"/>
<rect x="885.49" y="504.40" width="18.62" height="15.30" fill="rgb(51,0,0)"/>
<rect x="903.51" y="504.40" width="18.62" height="15.30" fill="rgb(255,0,0)"/>
<rect x="921.53" y="504.40" width="18.62" height="15.30" fill="rgb(204,0,0)"/>
<rect x="939.55" y="504.40" width="18.62" height="15.30" fill="rgb(204,0,0)"/>
<rect x="957.57" y="504.40" width="18.62" height="15.30" fill="rgb(26,0,0)"/>
<rect x="975.59" y="504.40" width="18.62" height="15.30" fill="rgb(26,0,0)"/>
<rect x="993.61" y="504.40" width="18.62" height="15.30" fill="rgb(26,0,0)"/>
<rect x="1011.64" y="504.40" width="18.62" height="15.30" fill="rgb(26,0,0)"/>
<rect x="1029.66" y="504.40" width="18.62" height="15.30" fill="rgb(102,0,0)"/>
<rect x="1047.68" y="504.40" width="18.02" height="15.30" fill="rgb(0,26,0)"/>
<rect x="687.25" y="519.10" width="18.62" height="15.30" fill="rgb(0,204,0)"/>
<rect x="705.27" y="519.10" width="18.62" height="15.30" fill="rgb(0,204,0)"/>
<rect x="723.29" y="519.10" width="18.62" height="15.30" fill="rgb(0,204,0)"/>
<rect x="741.31" y="519.10" width="18.62" height="15.30" fill="rgb(0,255,0)"/>
<rect x="759.34" y="519.10" width="18.62" height="15.30" fill="rgb(0,255,0)"/>
<rect x="777.36" y="519.10" width="18.62" height="15.30" fill="rgb(0,255,0)"/>
<rect x="795.38" y="519.10" width="18.62" height="15.30" fill="rgb(0,204,0)"/>
<rect x="813.40" y="519.10" width="18.62" height="15.30" fill="rgb(0,204,0)"/>
<rect x="831.42" y="519.10" width="18.62" height="15.30" fill="rgb(0,204,0)"/>
<rect x="849.44" y="519.10" width="18.62" height="15.30" fill="rgb(0,204,0)"/>
<rect x="867.46" y="519.10" width="18.62" height="15.30" fill="rgb(0,204,0)"/>
<rect x="885.49" y="519.10" width="18.62" height="15.30" fill="rgb(0,204,0)"/>
<rect x="903.51" y="519.10" width="18.62" height="15.30" fill="rgb(255,0,0)"/>
<rect x="921.53" y="519.10" width="18.62" height="15.30" fill="rgb(204,0,0)"/>
<rect x="939.55" y="519.10" width="18.62" height="15.30" fill="rgb(255,0,0)"/>
<rect x="957.57" y="519.10" width="18.62" height="15.30" fill="rgb(128,0,0)"/>
<rect x="975.59" y="519.10" width="18.62" height="15.30" fill="rgb(76,0,0)"/>
<rect x="993.61" y="519.10" width="18.62" height="15.30" fill="rgb(153,0,0)"/>
<rect x="1011.64" y="519.10" width="18.62" height="15.30" fill="rgb(0,153,0)"/>
<rect x="1029.66" y="519.10" width="18.62" height="15.30" fill="rgb(0,128,0)"/>
<rect x="1047.68" y="519.10" width="18.02" height="15.30" fill="rgb(0,153,0)"/>
<rect x="687.25" y="533.80" width="18.62" height="15.30" fill="rgb(0,230,0)"/>
<rect x="705.27" y="533.80" width="18.62" height="15.30" fill="rgb(0,255,0)"/>
<rect x="723.29" y="533.80" width="18.62" height="15.30" fill="rgb(0,230,0)"/>
<rect x="741.31" y="533.80" width="18.62" height="15.30" fill="rgb(0,76,0)"/>
<rect x="759.34" y="533.80" width="18.62" height="15.30" fill="rgb(0,102,0)"/>
<rect x="777.36" y="533.80" width="18.62" height="15.30" fill="rgb(0,76,0)"/>
<rect x="795.38" y="533.80" width="18.62" height="15.30" fill="rgb(0,255,0)"/>
<rect x="813.40" y="533.80" width="18.62" height="15.30" fill="rgb(0,255,0)"/>
<rect x="831.42" y="533.80" width="18.62" height="15.30" fill="rgb(0,255,0)"/>
<rect x="849.44" y="533.80" width="18.62" height="15.30" fill="rgb(0,255,0)"/>
<rect x="867.46" y="533.80" width="18.62" height="15.30" fill="rgb(0,255,0)"/>
<rect x="885.49" y="533.80" width="18.62" height="15.30" fill="rgb(0,255,0)"/>
<rect x="903.51" y="533.80" width="18.62" height="15.30" fill="rgb(230,0,0)"/>
<rect x="921.53" y="533.80" width="18.62" height="15.30" fill="rgb(230,0,0)"/>
<rect x="939.55" y="533.80" width="18.62" height="15.30" fill="rgb(255,0,0)"/>
<rect x="957.57" y="533.80" width="18.62" height="15.30" fill="rgb(102,0,0)"/>
<rect x="975.59" y="533.80" width="18.62" height="15.30" fill="rgb(76,0,0)"/>
<rect x="993.61" y="533.80" width="18.62" height="15.30" fill="rgb(128,0,0)"/>
<rect x="1011.64" y="533.80" width="18.62" height="15.30" fill="rgb(0,153,0)"/>
<rect x="1029.66" y="533.80" width="18.62" height="15.30" fill="rgb(0,153,0)"/>
<rect x="1047.68" y="533.80" width="18.02" height="15.30" fill="rgb(0,128,0)"/>
<rect x="687.25" y="548.50" width="18.62" height="15.30" fill="rgb(0,255,0)"/>
<rect x="705.27" y="548.50" width="18.62" height="15.30" fill="rgb(0,255,0)"/>
<rect x="723.29" y="548.50" width="18.62" height="15.30" fill="rgb(0,255,0)"/>
<rect x="741.31" y="548.50" width="18.62" height="15.30" fill="rgb(0,230,0)"/>
<rect x="759.34" y="548.50" width="18.62" height="15.30" fill="rgb(0,204,0)"/>
<rect x="777.36" y="548.50" width="18.62" height="15.30" fill="rgb(0,204,0)"/>
<rect x="795.38" y="548.50" width="18.62" height="15.30" fill="rgb(0,153,0)"/>
<rect x="813.40" y="548.50" width="18.62" height="15.30" fill="rgb(0,153,0)"/>
<rect x="831.42" y="548.50" width="18.62" height="15.30" fill="rgb(0,153,0)"/>
<rect x="849.44" y="548.50" width="18.62" height="15.30" fill="rgb(0,255,0)"/>
<rect x="867.46" y="548.50" width="18.62" height="15.30" fill="rgb(0,255,0)"/>
<rect x="885.49" y="548.50" width="18.62" height="15.30" fill="rgb(0,255,0)"/>
<rect x="903.51" y="548.50" width="18.62" height="15.30" fill="rgb(255,0,0)"/>
<rect x="921.53" y="548.50" width="18.62" height="15.30" fill="rgb(230,0,0)"/>
<rect x="939.55" y="548.50" width="18.62" height="15.30" fill="rgb(178,0,0)"/>
<rect x="957.57" y="548.50" width="18.62" height="15.30" fill="rgb(0,26,0)"/>
<rect x="975.59" y="548.50" width="18.62" height="15.30" fill="rgb(0,51,0)"/>
<rect x="993.61" y="548.50" width="18.62" height="15.30" fill="rgb(0,0,0)"/>
<rect x="1011.64" y="548.50" width="18.62" height="15.30" fill="rgb(0,204,0)"/>
<rect x="1029.66" y="548.50" width="18.62" height="15.30" fill="rgb(0,204,0)"/>
<rect x="1047.68" y="548.50" width="18.02" height="15.30" fill="rgb(0,178,0)"/>
<rect x="687.25" y="563.20" width="18.62" height="15.30" fill="rgb(0,178,0)"/>
<rect x="705.27" y="563.20" width="18.62" height="15.30" fill="rgb(0,178,0)"/>
<rect x="723.29" y="563.20" width="18.62" height="15.30" fill="rgb(0,178,0)"/>
<rect x="741.31" y="563.20" width="18.62" height="15.30" fill="rgb(0,230,0)"/>
<rect x="759.34" y="563.20" width="18.62" height="15.30" fill="rgb(0,230,0)"/>
<rect x="777.36" y="563.20" width="18.62" height="15.30" fill="rgb(0,230,0)"/>
<rect x="795.38" y="563.20" width="18.62" height="15.30" fill="rgb(0,178,0)"/>
<rect x="813.40" y="563.20" width="18.62" height="15.30" fill="rgb(0,178,0)"/>
<rect x="831.42" y="563.20" width="18.62" height="15.30" fill="rgb(0,153,0)"/>
<rect x="849.44" y="563.20" width="18.62" height="15.30" fill="rgb(0,255,0)"/>
<rect x="867.46" y="563.20" width="18.62" height="15.30" fill="rgb(0,255,0)"/>
<rect x="885.49" y="563.20" width="18.62" height="15.30" fill="rgb(0,255,0)"/>
<rect x="903.51" y="563.20" width="18.62" height="15.30" fill="rgb(255,0,0)"/>
<rect x="921.53" y="563.20" width="18.62" height="15.30" fill="rgb(76,0,0)"/>
<rect x="939.55" y="563.20" width="18.62" height="15.30" fill="rgb(102,0,0)"/>
<rect x="957.57" y="563.20" width="18.62" height="15.30" fill="rgb(0,26,0)"/>
<rect x="975.59" y="563.20" width="18.62" height="15.30" fill="rgb(0,26,0)"/>
<rect x="993.61" y="563.20" width="18.62" height="15.30" fill="rgb(0,76,0)"/>
<rect x="1011.64" y="563.20" width="18.62" height="15.30" fill="rgb(0,230,0)"/>
<rect x="1029.66" y="563.20" width="18.62" height="15.30" fill="rgb(0,230,0)"/>
<rect x="1047.68" y="563.20" width="18.02" height="15.30" fill="rgb(0,230,0)"/>
<rect x="687.25" y="577.90" width="18.62" height="15.30" fill="rgb(0,153,0)"/>
<rect x="705.27" y="577.90" width="18.62" height="15.30" fill="rgb(0,178,0)"/>
<rect x="723.29" y="577.90" width="18.62" height="15.30" fill="rgb(0,178,0)"/>
<rect x="741.31" y="577.90" width="18.62" height="15.30" fill="rgb(0,230,0)"/>
<rect x="759.34" y="577.90" width="18.62" height="15.30" fill="rgb(0,230,0)"/>
<rect x="777.36" y="577.90" width="18.62" height="15.30" fill="rgb(0,230,0)"/>
<rect x="795.38" y="577.90" width="18.62" height="15.30" fill="rgb(0,153,0)"/>
<rect x="813.40" y="577.90" width="18.62" height="15.30" fill="rgb(0,153,0)"/>
<rect x="831.42" y="577.90" width="18.62" height="15.30" fill="rgb(0,153,0)"/>
<rect x="849.44" y="577.90" width="18.62" height="15.30" fill="rgb(0,230,0)"/>
<rect x="867.46" y="577.90" width="18.62" height="15.30" fill="rgb(0,230,0)"/>
<rect x="885.49" y="577.90" width="18.62" height="15.30" fill="rgb(0,230,0)"/>
<rect x="903.51" y="577.90" width="18.62" height="15.30" fill="rgb(255,0,0)"/>
<rect x="921.53" y="577.90" width="18.62" height="15.30" fill="rgb(178,0,0)"/>
<rect x="939.55" y="577.90" width="18.62" height="15.30" fill="rgb(153,0,0)"/>
<rect x="957.57" y="577.90" width="18.62" height="15.30" fill="rgb(0,26,0)"/>
<rect x="975.59" y="577.90" width="18.62" height="15.30" fill="rgb(0,26,0)"/>
<rect x="993.61" y="577.90" width="18.62" height="15.30" fill="rgb(0,76,0)"/>
<rect x="1011.64" y="577.90" width="18.62" height="15.30" fill="rgb(0,255,0)"/>
<rect x="1029.66" y="577.90" width="18.62" height="15.30" fill="rgb(0,255,0)"/>
<rect x="1047.68" y="577.90" width="18.02" height="15.30" fill="rgb(0,255,0)"/>
<rect x="687.25" y="592.60" width="18.62" height="15.30" fill="rgb(0,204,0)"/>
<rect x="705.27" y="592.60" width="18.62" height="15.30" fill="rgb(0,230,0)"/>
<rect x="723.29" y="592.60" width="18.62" height="15.30" fill="rgb(0,204,0)"/>
<rect x="741.31" y="592.60" width="18.62" height="15.30" fill="rgb(0,128,0)"/>
<rect x="759.34" y="592.60" width="18.62" height="15.30" fill="rgb(0,178,0)"/>
<rect x="777.36" y="592.60" width="18.62" height="15.30" fill="rgb(0,153,0)"/>
<rect x="795.38" y="592.60" width="18.62" height="15.30" fill="rgb(0,255,0)"/>
<rect x="813.40" y="592.60" width="18.62" height="15.30" fill="rgb(0,230,0)"/>
<rect x="831.42" y="592.60" width="18.62" height="15.30" fill="rgb(0,255,0)"/>
<rect x="849.44" y="592.60" width="18.62" height="15.30" fill="rgb(0,230,0)"/>
<rect x="867.46" y="592.60" width="18.62" height="15.30" fill="rgb(0,255,0)"/>
<rect x="885.49" y="592.60" width="18.62" height="15.30" fill="rgb(0,255,0)"/>
<rect x="903.51" y="592.60" width="18.62" height="15.30" fill="rgb(255,0,0)"/>
<rect x="921.53" y="592.60" width="18.62" height="15.30" fill="rgb(255,0,0)"/>
<rect x="939.55" y="592.60" width="18.62" height="15.30" fill="rgb(255,0,0)"/>
<rect x="957.57" y="592.60" width="18.62" height="15.30" fill="rgb(0,102,0)"/>
<rect x="975.59" y="592.60" width="18.62" height="15.30" fill="rgb(0,102,0)"/>
<rect x="993.61" y="592.60" width="18.62" height="15.30" fill="rgb(0,102,0)"/>
<rect x="1011.64" y="592.60" width="18.62" height="15.30" fill="rgb(0,178,0)"/>
<rect x="1029.66" y="592.60" width="18.62" height="15.30" fill="rgb(0,178,0)"/>
<rect x="1047.68" y="592.60" width="18.02" height="15.30" fill="rgb(0,204,0)"/>
<rect x="687.25" y="607.30" width="18.62" height="15.30" fill="rgb(0,26,0)"/>
<rect x="705.27" y="607.30" width="18.62" height="15.30" fill="rgb(0,26,0)"/>
<rect x="723.29" y="607.30" width="18.62" height="15.30" fill="rgb(0,76,0)"/>
<rect x="741.31" y="607.30" width="18.62" height="15.30" fill="rgb(0,51,0)"/>
<rect x="759.34" y="607.30" width="18.62" height="15.30" fill="rgb(0,153,0)"/>
<rect x="777.36" y="607.30" width="18.62" height="15.30" fill="rgb(0,102,0)"/>
<rect x="795.38" y="607.30" width="18.62" height="15.30" fill="rgb(0,178,0)"/>
<rect x="813.40" y="607.30" width="18.62" height="15.30" fill="rgb(0,230,0)"/>
<rect x="831.42" y="607.30" width="18.62" height="15.30" fill="rgb(0,153,0)"/>
<rect x="849.44" y="607.30" width="18.62" height="15.30" fill="rgb(0,255,0)"/>
<rect x="867.46" y="607.30" width="18.62" height="15.30" fill="rgb(0,255,0)"/>
<rect x="885.49" y="607.30" width="18.62" height="15.30" fill="rgb(0,255,0)"/>
<rect x="903.51" y="607.30" width="18.62" height="15.30" fill="rgb(230,0,0)"/>
<rect x="921.53" y="607.30" width="18.62" height="15.30" fill="rgb(255,0,0)"/>
<rect x="939.55" y="607.30" width="18.62" height="15.30" fill="rgb(255,0,0)"/>
<rect x="957.57" y="607.30" width="18.62" height="15.30" fill="rgb(0,76,0)"/>
<rect x="975.59" y="607.30" width="18.62" height="15.30" fill="rgb(0,76,0)"/>
<rect x="993.61" y="607.30" width="18.62" height="15.30" fill="rgb(0,76,0)"/>
<rect x="1011.64" y="607.30" width="18.62" height="15.30" fill="rgb(0,178,0)"/>
<rect x="1029.66" y="607.30" width="18.62" height="15.30" fill="rgb(0,204,0)"/>
<rect x="1047.68" y="607.30" width="18.02" height="15.30" fill="rgb(0,204,0)"/>
<rect x="687.25" y="622.00" width="18.62" height="15.30" fill="rgb(0,102,0)"/>
<rect x="705.27" y="622.00" width="18.62" height="15.30" fill="rgb(0,51,0)"/>
<rect x="723.29" y="622.00" width="18.62" height="15.30" fill="rgb(0,128,0)"/>
<rect x="741.31" y="622.00" width="18.62" height="15.30" fill="rgb(0,51,0)"/>
<rect x="759.34" y="622.00" width="18.62" height="15.30" fill="rgb(0,102,0)"/>
<rect x="777.36" y="622.00" width="18.62" height="15.30" fill="rgb(0,51,0)"/>
<rect x="795.38" y="622.00" width="18.62" height="15.30" fill="rgb(0,230,0)"/>
<rect x="813.40" y="622.00" width="18.62" height="15.30" fill="rgb(0,230,0)"/>
<rect x="831.42" y="622.00" width="18.62" height="15.30" fill="rgb(0,204,0)"/>
<rect x="849.44" y="622.00" width="18.62" height="15.30" fill="rgb(0,255,0)"/>
<rect x="867.46" y="622.00" width="18.62" height="15.30" fill="rgb(0,255,0)"/>
<rect x="885.49" y="622.00" width="18.62" height="15.30" fill="rgb(0,255,0)"/>
<rect x="903.51" y="622.00" width="18.62" height="15.30" fill="rgb(204,0,0)"/>
<rect x="921.53" y="622.00" width="18.62" height="15.30" fill="rgb(255,0,0)"/>
<rect x="939.55" y="622.00" width="18.62" height="15.30" fill="rgb(255,0,0)"/>
<rect x="957.57" y="622.00" width="18.62" height="15.30" fill="rgb(0,0,0)"/>
<rect x="975.59" y="622.00" width="18.62" height="15.30" fill="rgb(0,0,0)"/>
<rect x="993.61" y="622.00" width="18.62" height="15.30" fill="rgb(0,0,0)"/>
<rect x="1011.64" y="622.00" width="18.62" height="15.30" fill="rgb(0,153,0)"/>
<rect x="1029.66" y="622.00" width="18.62" height="15.30" fill="rgb(0,178,0)"/>
<rect x="1047.68" y="622.00" width="18.02" height="15.30" fill="rgb(0,178,0)"/>
<rect x="687.25" y="636.70" width="18.62" height="15.30" fill="rgb(0,51,0)"/>
<rect x="705.27" y="636.70" width="18.62" height="15.30" fill="rgb(0,0,0)"/>
<rect x="723.29" y="636.70" width="18.62" height="15.30" fill="rgb(0,0,0)"/>
<rect x="741.31" y="636.70" width="18.62" height="15.30" fill="rgb(128,0,0)"/>
<rect x="759.34" y="636.70" width="18.62" height="15.30" fill="rgb(26,0,0)"/>
<rect x="777.36" y="636.70" width="18.62" height="15.30" fill="rgb(76,0,0)"/>
<rect x="795.38" y="636.70" width="18.62" height="15.30" fill="rgb(0,255,0)"/>
<rect x="813.40" y="636.70" width="18.62" height="15.30" fill="rgb(0,230,0)"/>
<rect x="831.42" y="636.70" width="18.62" height="15.30" fill="rgb(0,255,0)"/>
<rect x="849.44" y="636.70" width="18.62" height="15.30" fill="rgb(0,230,0)"/>
<rect x="867.46" y="636.70" width="18.62" height="15.30" fill="rgb(0,178,0)"/>
<rect x="885.49" y="636.70" width="18.62" height="15.30" fill="rgb(0,153,0)"/>
<rect x="903.51" y="636.70" width="18.62" height="15.30" fill="rgb(255,0,0)"/>
<rect x="921.53" y="636.70" width="18.62" height="15.30" fill="rgb(102,0,0)"/>
<rect x="939.55" y="636.70" width="18.62" height="15.30" fill="rgb(128,0,0)"/>
<rect x="957.57" y="636.70" width="18.62" height="15.30" fill="rgb(255,0,0)"/>
<rect x="975.59" y="636.70" width="18.62" height="15.30" fill="rgb(230,0,0)"/>
<rect x="993.61" y="636.70" width="18.62" height="15.30" fill="rgb(255,0,0)"/>
<rect x="1011.64" y="636.70" width="18.62" height="15.30" fill="rgb(0,26,0)"/>
<rect x="1029.66" y="636.70" width="18.62" height="15.30" fill="rgb(0,76,0)"/>
<rect x="1047.68" y="636.70" width="18.02" height="15.30" fill="rgb(0,76,0)"/>
<rect x="687.25" y="651.40" width="18.62" height="15.30" fill="rgb(76,0,0)"/>
<rect x="705.27" y="651.40" width="18.62" height="15.30" fill="rgb(26,0,0)"/>
<rect x="723.29" y="651.40" width="18.62" height="15.30" fill="rgb(51,0,0)"/>
<rect x="741.31" y="651.40" width="18.62" height="15.30" fill="rgb(0,0,0)"/>
<rect x="759.34" y="651.40" width="18.62" height="15.30" fill="rgb(0,0,0)"/>
<rect x="777.36" y="651.40" width="18.62" height="15.30" fill="rgb(0,26,0)"/>
<rect x="795.38" y="651.40" width="18.62" height="15.30" fill="rgb(0,255,0)"/>
<rect x="813.40" y="651.40" width="18.62" height="15.30" fill="rgb(0,255,0)"/>
<rect x="831.42" y="651.40" width="18.62" height="15.30" fill="rgb(0,230,0)"/>
<rect x="849.44" y="651.40" width="18.62" height="15.30" fill="rgb(0,230,0)"/>
<rect x="867.46" y="651.40" width="18.62" height="15.30" fill="rgb(0,230,0)"/>
<rect x="885.49" y="651.40" width="18.62" height="15.30" fill="rgb(0,204,0)"/>
<rect x="903.51" y="651.40" width="18.62" height="15.30" fill="rgb(255,0,0)"/>
<rect x="921.53" y="651.40" width="18.62" height="15.30" fill="rgb(230,0,0)"/>
<rect x="939.55" y="651.40" width="18.62" height="15.30" fill="rgb(255,0,0)"/>
<rect x="957.57" y="651.40" width="18.62" height="15.30" fill="rgb(51,0,0)"/>
<rect x="975.59" y="651.40" width="18.62" height="15.30" fill="rgb(76,0,0)"/>
<rect x="993.61" y="651.40" width="18.62" height="15.30" fill="rgb(102,0,0)"/>
<rect x="1011.64" y="651.40" width="18.62" height="15.30" fill="rgb(0,255,0)"/>
<rect x="1029.66" y="651.40" width="18.62" height="15.30" fill="rgb(0,204,0)"/>
<rect x="1047.68" y="651.40" width="18.02" height="15.30" fill="rgb(0,230,0)"/>
<rect x="687.25" y="666.10" width="18.62" height="15.30" fill="rgb(0,230,0)"/>
<rect x="705.27" y="666.10" width="18.62" height="15.30" fill="rgb(0,76,0)"/>
<rect x="723.29" y="666.10" width="18.62" height="15.30" fill="rgb(0,102,0)"/>
<rect x="741.31" y="666.10" width="18.62" height="15.30" fill="rgb(0,76,0)"/>
<rect x="759.34" y="666.10" width="18.62" height="15.30" fill="rgb(51,0,0)"/>
<rect x="777.36" y="666.10" width="18.62" height="15.30" fill="rgb(0,26,0)"/>
<rect x="795.38" y="666.10" width="18.62" height="15.30" fill="rgb(0,230,0)"/>
<rect x="813.40" y="666.10" width="18.62" height="15.30" fill="rgb(0,255,0)"/>
<rect x="831.42" y="666.10" width="18.62" height="15.30" fill="rgb(0,255,0)"/>
<rect x="849.44" y="666.10" width="18.62" height="15.30" fill="rgb(0,230,0)"/>
<rect x="867.46" y="666.10" width="18.62" height="15.30" fill="rgb(0,153,0)"/>
<rect x="885.49" y="666.10" width="18.62" height="15.30" fill="rgb(0,178,0)"/>
<rect x="903.51" y="666.10" width="18.62" height="15.30" fill="rgb(255,0,0)"/>
<rect x="921.53" y="666.10" width="18.62" height="15.30" fill="rgb(178,0,0)"/>
<rect x="939.55" y="666.10" width="18.62" height="15.30" fill="rgb(153,0,0)"/>
<rect x="957.57" y="666.10" width="18.62" height="15.30" fill="rgb(0,26,0)"/>
<rect x="975.59" y="666.10" width="18.62" height="15.30" fill="rgb(0,26,0)"/>
<rect x="993.61" y="666.10" width="18.62" height="15.30" fill="rgb(0,0,0)"/>
<rect x="1011.64" y="666.10" width="18.62" height="15.30" fill="rgb(0,204,0)"/>
<rect x="1029.66" y="666.10" width="18.62" height="15.30" fill="rgb(0,204,0)"/>
<rect x="1047.68" y="666.10" width="18.02" height="15.30" fill="rgb(0,178,0)"/>
<rect x="687.25" y="680.80" width="18.62" height="15.30" fill="rgb(0,204,0)"/>
<rect x="705.27" y="680.80" width="18.62" height="15.30" fill="rgb(26,0,0)"/>
<rect x="723.29" y="680.80" width="18.62" height="15.30" fill="rgb(51,0,0)"/>
<rect x="741.31" y="680.80" width="18.62" height="15.30" fill="rgb(0,153,0)"/>
<rect x="759.34" y="680.80" width="18.62" height="15.30" fill="rgb(0,178,0)"/>
<rect x="777.36" y="680.80" width="18.62" height="15.30" fill="rgb(0,153,0)"/>
<rect x="795.38" y="680.80" width="18.62" height="15.30" fill="rgb(51,0,0)"/>
<rect x="813.40" y="680.80" width="18.62" height="15.30" fill="rgb(0,0,0)"/>
<rect x="831.42" y="680.80" width="18.62" height="15.30" fill="rgb(0,0,0)"/>
<rect x="849.44" y="680.80" width="18.62" height="15.30" fill="rgb(0,255,0)"/>
<rect x="867.46" y="680.80" width="18.62" height="15.30" fill="rgb(0,255,0)"/>
<rect x="885.49" y="680.80" width="18.62" height="15.30" fill="rgb(0,255,0)"/>
<rect x="903.51" y="680.80" width="18.62" height="15.30" fill="rgb(230,0,0)"/>
<rect x="921.53" y="680.80" width="18.62" height="15.30" fill="rgb(255,0,0)"/>
<rect x="939.55" y="680.80" width="18.62" height="15.30" fill="rgb(102,0,0)"/>
<rect x="957.57" y="680.80" width="18.62" height="15.30" fill="rgb(0,102,0)"/>
<rect x="975.59" y="680.80" width="18.62" height="15.30" fill="rgb(0,102,0)"/>
<rect x="993.61" y="680.80" width="18.62" height="15.30" fill="rgb(0,102,0)"/>
<rect x="1011.64" y="680.80" width="18.62" height="15.30" fill="rgb(0,204,0)"/>
<rect x="1029.66" y="680.80" width="18.62" height="15.30" fill="rgb(0,204,0)"/>
<rect x="1047.68" y="680.80" width="18.02" height="15.30" fill="rgb(0,204,0)"/>
<rect x="687.25" y="695.50" width="18.62" height="15.30" fill="rgb(0,255,0)"/>
<rect x="705.27" y="695.50" width="18.62" height="15.30" fill="rgb(0,128,0)"/>
<rect x="723.29" y="695.50" width="18.62" height="15.30" fill="rgb(0,102,0)"/>
<rect x="741.31" y="695.50" width="18.62" height="15.30" fill="rgb(0,153,0)"/>
<rect x="759.34" y="695.50" width="18.62" height="15.30" fill="rgb(0,128,0)"/>
<rect x="777.36" y="695.50" width="18.62" height="15.30" fill="rgb(0,153,0)"/>
<rect x="795.38" y="695.50" width="18.62" height="15.30" fill="rgb(76,0,0)"/>
<rect x="813.40" y="695.50" width="18.62" height="15.30" fill="rgb(51,0,0)"/>
<rect x="831.42" y="695.50" width="18.62" height="15.30" fill="rgb(51,0,0)"/>
<rect x="849.44" y="695.50" width="18.62" height="15.30" fill="rgb(0,255,0)"/>
<rect x="867.46" y="695.50" width="18.62" height="15.30" fill="rgb(0,255,0)"/>
<rect x="885.49" y="695.50" width="18.62" height="15.30" fill="rgb(0,255,0)"/>
<rect x="903.51" y="695.50" width="18.62" height="15.30" fill="rgb(255,0,0)"/>
<rect x="921.53" y="695.50" width="18.62" height="15.30" fill="rgb(255,0,0)"/>
<rect x="939.55" y="695.50" width="18.62" height="15.30" fill="rgb(255,0,0)"/>
<rect x="957.57" y="695.50" width="18.62" height="15.30" fill="rgb(76,0,0)"/>
<rect x="975.59" y="695.50" width="18.62" height="15.30" fill="rgb(76,0,0)"/>
<rect x="993.61" y="695.50" width="18.62" height="15.30" fill="rgb(102,0,0)"/>
<rect x="1011.64" y="695.50" width="18.62" height="15.30" fill="rgb(0,128,0)"/>
<rect x="1029.66" y="695.50" width="18.62" height="15.30" fill="rgb(0,76,0)"/>
<rect x="1047.68" y="695.50" width="18.02" height="15.30" fill="rgb(0,102,0)"/>
<rect x="687.25" y="710.20" width="18.62" height="15.30" fill="rgb(153,0,0)"/>
<rect x="705.27" y="710.20" width="18.62" height="15.30" fill="rgb(76,0,0)"/>
<rect x="723.29" y="710.20" width="18.62" height="15.30" fill="rgb(153,0,0)"/>
<rect x="741.31" y="710.20" width="18.62" height="15.30" fill="rgb(0,0,0)"/>
<rect x="759.34" y="710.20" width="18.62" height="15.30" fill="rgb(0,0,0)"/>
<rect x="777.36" y="710.20" width="18.62" height="15.30" fill="rgb(0,26,0)"/>
<rect x="795.38" y="710.20" width="18.62" height="15.30" fill="rgb(128,0,0)"/>
<rect x="813.40" y="710.20" width="18.62" height="15.30" fill="rgb(102,0,0)"/>
<rect x="831.42" y="710.20" width="18.62" height="15.30" fill="rgb(128,0,0)"/>
<rect x="849.44" y="710.20" width="18.62" height="15.30" fill="rgb(0,153,0)"/>
<rect x="867.46" y="710.20" width="18.62" height="15.30" fill="rgb(0,128,0)"/>
<rect x="885.49" y="710.20" width="18.62" height="15.30" fill="rgb(0,128,0)"/>
<rect x="903.51" y="710.20" width="18.62" height="15.30" fill="rgb(178,0,0)"/>
<rect x="921.53" y="710.20" width="18.62" height="15.30" fill="rgb(153,0,0)"/>
<rect x="939.55" y="710.20" width="18.62" height="15.30" fill="rgb(255,0,0)"/>
<rect x="957.57" y="710.20" width="18.62" height="15.30" fill="rgb(76,0,0)"/>
<rect x="975.59" y="710.20" width="18.62" height="15.30" fill="rgb(204,0,0)"/>
<rect x="993.61" y="710.20" width="18.62" height="15.30" fill="rgb(204,0,0)"/>
<rect x="1011.64" y="710.20" width="18.62" height="15.30" fill="rgb(0,255,0)"/>
<rect x="1029.66" y="710.20" width="18.62" height="15.30" fill="rgb(0,204,0)"/>
<rect x="1047.68" y="710.20" width="18.02" height="15.30" fill="rgb(0,255,0)"/>
<rect x="687.25" y="724.90" width="18.62" height="15.30" fill="rgb(0,26,0)"/>
<rect x="705.27" y="724.90" width="18.62" height="15.30" fill="rgb(76,0,0)"/>
<rect x="723.29" y="724.90" width="18.62" height="15.30" fill="rgb(102,0,0)"/>
<rect x="741.31" y="724.90" width="18.62" height="15.30" fill="rgb(0,26,0)"/>
<rect x="759.34" y="724.90" width="18.62" height="15.30" fill="rgb(0,51,0)"/>
<rect x="777.36" y="724.90" width="18.62" height="15.30" fill="rgb(0,26,0)"/>
<rect x="795.38" y="724.90" width="18.62" height="15.30" fill="rgb(26,0,0)"/>
<rect x="813.40" y="724.90" width="18.62" height="15.30" fill="rgb(0,51,0)"/>
<rect x="831.42" y="724.90" width="18.62" height="15.30" fill="rgb(0,26,0)"/>
<rect x="849.44" y="724.90" width="18.62" height="15.30" fill="rgb(0,76,0)"/>
<rect x="867.46" y="724.90" width="18.62" height="15.30" fill="rgb(0,26,0)"/>
<rect x="885.49" y="724.90" width="18.62" height="15.30" fill="rgb(0,102,0)"/>
<rect x="903.51" y="724.90" width="18.62" height="15.30" fill="rgb(128,0,0)"/>
<rect x="921.53" y="724.90" width="18.62" height="15.30" fill="rgb(102,0,0)"/>
<rect x="939.55" y="724.90" width="18.62" height="15.30" fill="rgb(102,0,0)"/>
<rect x="957.57" y="724.90" width="18.62" height="15.30" fill="rgb(255,0,0)"/>
<rect x="975.59" y="724.90" width="18.62" height="15.30" fill="rgb(102,0,0)"/>
<rect x="993.61" y="724.90" width="18.62" height="15.30" fill="rgb(255,0,0)"/>
<rect x="1011.64" y="724.90" width="18.62" height="15.30" fill="rgb(0,255,0)"/>
<rect x="1029.66" y="724.90" width="18.62" height="15.30" fill="rgb(0,255,0)"/>
<rect x="1047.68" y="724.90" width="18.02" height="15.30" fill="rgb(0,230,0)"/>
<rect x="687.25" y="739.60" width="18.62" height="15.30" fill="rgb(0,0,0)"/>
<rect x="705.27" y="739.60" width="18.62" height="15.30" fill="rgb(0,26,0)"/>
<rect x="723.29" y="739.60" width="18.62" height="15.30" fill="rgb(0,76,0)"/>
<rect x="741.31" y="739.60" width="18.62" height="15.30" fill="rgb(26,0,0)"/>
<rect x="759.34" y="739.60" width="18.62" height="15.30" fill="rgb(0,178,0)"/>
<rect x="777.36" y="739.60" width="18.62" height="15.30" fill="rgb(0,76,0)"/>
<rect x="795.38" y="739.60" width="18.62" height="15.30" fill="rgb(255,0,0)"/>
<rect x="813.40" y="739.60" width="18.62" height="15.30" fill="rgb(153,0,0)"/>
<rect x="831.42" y="739.60" width="18.62" height="15.30" fill="rgb(204,0,0)"/>
<rect x="849.44" y="739.60" width="18.62" height="15.30" fill="rgb(0,255,0)"/>
<rect x="867.46" y="739.60" width="18.62" height="15.30" fill="rgb(0,255,0)"/>
<rect x="885.49" y="739.60" width="18.62" height="15.30" fill="rgb(0,255,0)"/>
<rect x="903.51" y="739.60" width="18.62" height="15.30" fill="rgb(102,0,0)"/>
<rect x="921.53" y="739.60" width="18.62" height="15.30" fill="rgb(102,0,0)"/>
<rect x="939.55" y="739.60" width="18.62" height="15.30" fill="rgb(51,0,0)"/>
<rect x="957.57" y="739.60" width="18.62" height="15.30" fill="rgb(178,0,0)"/>
<rect x="975.59" y="739.60" width="18.62" height="15.30" fill="rgb(76,0,0)"/>
<rect x="993.61" y="739.60" width="18.62" height="15.30" fill="rgb(102,0,0)"/>
<rect x="1011.64" y="739.60" width="18.62" height="15.30" fill="rgb(0,153,0)"/>
<rect x="1029.66" y="739.60" width="18.62" height="15.30" fill="rgb(0,76,0)"/>
<rect x="1047.68" y="739.60" width="18.02" height="15.30" fill="rgb(0,204,0)"/>
<rect x="687.25" y="754.30" width="18.62" height="15.30" fill="rgb(0,102,0)"/>
<rect x="705.27" y="754.30" width="18.62" height="15.30" fill="rgb(0,76,0)"/>
<rect x="723.29" y="754.30" width="18.62" height="15.30" fill="rgb(0,76,0)"/>
<rect x="741.31" y="754.30" width="18.62" height="15.30" fill="rgb(0,128,0)"/>
<rect x="759.34" y="754.30" width="18.62" height="15.30" fill="rgb(0,153,0)"/>
<rect x="777.36" y="754.30" width="18.62" height="15.30" fill="rgb(0,153,0)"/>
<rect x="795.38" y="754.30" width="18.62" height="15.30" fill="rgb(204,0,0)"/>
<rect x="813.40" y="754.30" width="18.62" height="15.30" fill="rgb(255,0,0)"/>
<rect x="831.42" y="754.30" width="18.62" height="15.30" fill="rgb(230,0,0)"/>
<rect x="849.44" y="754.30" width="18.62" height="15.30" fill="rgb(0,255,0)"/>
<rect x="867.46" y="754.30" width="18.62" height="15.30" fill="rgb(0,255,0)"/>
<rect x="885.49" y="754.30" width="18.62" height="15.30" fill="rgb(0,230,0)"/>
<rect x="903.51" y="754.30" width="18.62" height="15.30" fill="rgb(0,26,0)"/>
<rect x="921.53" y="754.30" width="18.62" height="15.30" fill="rgb(0,76,0)"/>
<rect x="939.55" y="754.30" width="18.62" height="15.30" fill="rgb(0,0,0)"/>
<rect x="957.57" y="754.30" width="18.62" height="15.30" fill="rgb(51,0,0)"/>
<rect x="975.59" y="754.30" width="18.62" height="15.30" fill="rgb(102,0,0)"/>
<rect x="993.61" y="754.30" width="18.62" height="15.30" fill="rgb(102,0,0)"/>
<rect x="1011.64" y="754.30" width="18.62" height="15.30" fill="rgb(0,102,0)"/>
<rect x="1029.66" y="754.30" width="18.62" height="15.30" fill="rgb(0,76,0)"/>
<rect x="1047.68" y="754.30" width="18.02" height="15.30" fill="rgb(0,76,0)"/>
<rect x="687.25" y="769.00" width="18.62" height="15.30" fill="rgb(0,102,0)"/>
<rect x="705.27" y="769.00" width="18.62" height="15.30" fill="rgb(0,128,0)"/>
<rect x="723.29" y="769.00" width="18.62" height="15.30" fill="rgb(0,128,0)"/>
<rect x="741.31" y="769.00" width="18.62" height="15.30" fill="rgb(0,128,0)"/>
<rect x="759.34" y="769.00" width="18.62" height="15.30" fill="rgb(0,102,0)"/>
<rect x="777.36" y="769.00" width="18.62" height="15.30" fill="rgb(0,102,0)"/>
<rect x="795.38" y="769.00" width="18.62" height="15.30" fill="rgb(255,0,0)"/>
<rect x="813.40" y="769.00" width="18.62" height="15.30" fill="rgb(255,0,0)"/>
<rect x="831.42" y="769.00" width="18.62" height="15.30" fill="rgb(230,0,0)"/>
<rect x="849.44" y="769.00" width="18.62" height="15.30" fill="rgb(0,255,0)"/>
<rect x="867.46" y="769.00" width="18.62" height="15.30" fill="rgb(0,255,0)"/>
<rect x="885.49" y="769.00" width="18.62" height="15.30" fill="rgb(0,255,0)"/>
<rect x="903.51" y="769.00" width="18.62" height="15.30" fill="rgb(51,0,0)"/>
<rect x="921.53" y="769.00" width="18.62" height="15.30" fill="rgb(26,0,0)"/>
<rect x="939.55" y="769.00" width="18.62" height="15.30" fill="rgb(76,0,0)"/>
<rect x="957.57" y="769.00" width="18.62" height="15.30" fill="rgb(102,0,0)"/>
<rect x="975.59" y="769.00" width="18.62" height="15.30" fill="rgb(102,0,0)"/>
<rect x="993.61" y="769.00" width="18.62" height="15.30" fill="rgb(128,0,0)"/>
<rect x="1011.64" y="769.00" width="18.62" height="15.30" fill="rgb(0,128,0)"/>
<rect x="1029.66" y="769.00" width="18.62" height="15.30" fill="rgb(0,128,0)"/>
<rect x="1047.68" y="769.00" width="18.02" height="15.30" fill="rgb(0,128,0)"/>
<rect x="687.25" y="783.70" width="18.62" height="15.30" fill="rgb(0,76,0)"/>
<rect x="705.27" y="783.70" width="18.62" height="15.30" fill="rgb(0,102,0)"/>
<rect x="723.29" y="783.70" width="18.62" height="15.30" fill="rgb(0,102,0)"/>
<rect x="741.31" y="783.70" width="18.62" height="15.30" fill="rgb(0,230,0)"/>
<rect x="759.34" y="783.70" width="18.62" height="15.30" fill="rgb(0,153,0)"/>
<rect x="777.36" y="783.70" width="18.62" height="15.30" fill="rgb(0,153,0)"/>
<rect x="795.38" y="783.70" width="18.62" height="15.30" fill="rgb(51,0,0)"/>
<rect x="813.40" y="783.70" width="18.62" height="15.30" fill="rgb(26,0,0)"/>
<rect x="831.42" y="783.70" width="18.62" height="15.30" fill="rgb(26,0,0)"/>
<rect x="849.44" y="783.70" width="18.62" height="15.30" fill="rgb(0,255,0)"/>
<rect x="867.46" y="783.70" width="18.62" height="15.30" fill="rgb(0,230,0)"/>
<rect x="885.49" y="783.70" width="18.62" height="15.30" fill="rgb(0,230,0)"/>
<rect x="903.51" y="783.70" width="18.62" height="15.30" fill="rgb(0,51,0)"/>
<rect x="921.53" y="783.70" width="18.62" height="15.30" fill="rgb(26,0,0)"/>
<rect x="939.55" y="783.70" width="18.62" height="15.30" fill="rgb(0,76,0)"/>
<rect x="957.57" y="783.70" width="18.62" height="15.30" fill="rgb(230,0,0)"/>
<rect x="975.59" y="783.70" width="18.62" height="15.30" fill="rgb(255,0,0)"/>
<rect x="993.61" y="783.70" width="18.62" height="15.30" fill="rgb(204,0,0)"/>
<rect x="1011.64" y="783.70" width="18.62" height="15.30" fill="rgb(0,76,0)"/>
<rect x="1029.66" y="783.70" width="18.62" height="15.30" fill="rgb(0,76,0)"/>
<rect x="1047.68" y="783.70" width="18.02" height="15.30" fill="rgb(0,26,0)"/>
<rect x="687.25" y="798.40" width="18.62" height="15.30" fill="rgb(0,76,0)"/>
<rect x="705.27" y="798.40" width="18.62" height="15.30" fill="rgb(0,102,0)"/>
<rect x="723.29" y="798.40" width="18.62" height="15.30" fill="rgb(0,76,0)"/>
<rect x="741.31" y="798.40" width="18.62" height="15.30" fill="rgb(0,26,0)"/>
<rect x="759.34" y="798.40" width="18.62" height="15.30" fill="rgb(0,26,0)"/>
<rect x="777.36" y="798.40" width="18.62" height="15.30" fill="rgb(0,0,0)"/>
<rect x="795.38" y="798.40" width="18.62" height="15.30" fill="rgb(153,0,0)"/>
<rect x="813.40" y="798.40" width="18.62" height="15.30" fill="rgb(76,0,0)"/>
<rect x="831.42" y="798.40" width="18.62" height="15.30" fill="rgb(153,0,0)"/>
<rect x="849.44" y="798.40" width="18.62" height="15.30" fill="rgb(0,255,0)"/>
<rect x="867.46" y="798.40" width="18.62" height="15.30" fill="rgb(0,255,0)"/>
<rect x="885.49" y="798.40" width="18.62" height="15.30" fill="rgb(0,255,0)"/>
<rect x="903.51" y="798.40" width="18.62" height="15.30" fill="rgb(178,0,0)"/>
<rect x="921.53" y="798.40" width="18.62" height="15.30" fill="rgb(128,0,0)"/>
<rect x="939.55" y="798.40" width="18.62" height="15.30" fill="rgb(153,0,0)"/>
<rect x="957.57" y="798.40" width="18.62" height="15.30" fill="rgb(178,0,0)"/>
<rect x="975.59" y="798.40" width="18.62" height="15.30" fill="rgb(230,0,0)"/>
<rect x="993.61" y="798.40" width="18.62" height="15.30" fill="rgb(255,0,0)"/>
<rect x="1011.64" y="798.40" width="18.62" height="15.30" fill="rgb(0,128,0)"/>
<rect x="1029.66" y="798.40" width="18.62" height="15.30" fill="rgb(0,102,0)"/>
<rect x="1047.68" y="798.40" width="18.02" height="15.30" fill="rgb(0,153,0)"/>
<rect x="687.25" y="813.10" width="18.62" height="15.30" fill="rgb(0,128,0)"/>
<rect x="705.27" y="813.10" width="18.62" height="15.30" fill="rgb(0,102,0)"/>
<rect x="723.29" y="813.10" width="18.62" height="15.30" fill="rgb(0,102,0)"/>
<rect x="741.31" y="813.10" width="18.62" height="15.30" fill="rgb(0,76,0)"/>
<rect x="759.34" y="813.10" width="18.62" height="15.30" fill="rgb(0,51,0)"/>
<rect x="777.36" y="813.10" width="18.62" height="15.30" fill="rgb(0,51,0)"/>
<rect x="795.38" y="813.10" width="18.62" height="15.30" fill="rgb(153,0,0)"/>
<rect x="813.40" y="813.10" width="18.62" height="15.30" fill="rgb(102,0,0)"/>
<rect x="831.42" y="813.10" width="18.62" height="15.30" fill="rgb(153,0,0)"/>
<rect x="849.44" y="813.10" width="18.62" height="15.30" fill="rgb(0,255,0)"/>
<rect x="867.46" y="813.10" width="18.62" height="15.30" fill="rgb(0,255,0)"/>
<rect x="885.49" y="813.10" width="18.62" height="15.30" fill="rgb(0,255,0)"/>
<rect x="903.51" y="813.10" width="18.62" height="15.30" fill="rgb(153,0,0)"/>
<rect x="921.53" y="813.10" width="18.62" height="15.30" fill="rgb(102,0,0)"/>
<rect x="939.55" y="813.10" width="18.62" height="15.30" fill="rgb(153,0,0)"/>
<rect x="957.57" y="813.10" width="18.62" height="15.30" fill="rgb(255,0,0)"/>
<rect x="975.59" y="813.10" width="18.62" height="15.30" fill="rgb(204,0,0)"/>
<rect x="993.61" y="813.10" width="18.62" height="15.30" fill="rgb(255,0,0)"/>
<rect x="1011.64" y="813.10" width="18.62" height="15.30" fill="rgb(0,128,0)"/>
<rect x="1029.66" y="813.10" width="18.62" height="15.30" fill="rgb(0,102,0)"/>
<rect x="1047.68" y="813.10" width="18.02" height="15.30" fill="rgb(0,76,0)"/>
<rect x="687.25" y="827.80" width="18.62" height="15.30" fill="rgb(0,76,0)"/>
<rect x="705.27" y="827.80" width="18.62" height="15.30" fill="rgb(0,102,0)"/>
<rect x="723.29" y="827.80" width="18.62" height="15.30" fill="rgb(0,102,0)"/>
<rect x="741.31" y="827.80" width="18.62" height="15.30" fill="rgb(0,102,0)"/>
<rect x="759.34" y="827.80" width="18.62" height="15.30" fill="rgb(0,76,0)"/>
<rect x="777.36" y="827.80" width="18.62" height="15.30" fill="rgb(0,128,0)"/>
<rect x="795.38" y="827.80" width="18.62" height="15.30" fill="rgb(153,0,0)"/>
<rect x="813.40" y="827.80" width="18.62" height="15.30" fill="rgb(51,0,0)"/>
<rect x="831.42" y="827.80" width="18.62" height="15.30" fill="rgb(153,0,0)"/>
<rect x="849.44" y="827.80" width="18.62" height="15.30" fill="rgb(0,255,0)"/>
<rect x="867.46" y="827.80" width="18.62" height="15.30" fill="rgb(0,255,0)"/>
<rect x="885.49" y="827.80" width="18.62" height="15.30" fill="rgb(0,255,0)"/>
<rect x="903.51" y="827.80" width="18.62" height="15.30" fill="rgb(0,0,0)"/>
<rect x="921.53" y="827.80" width="18.62" height="15.30" fill="rgb(51,0,0)"/>
<rect x="939.55" y="827.80" width="18.62" height="15.30" fill="rgb(26,0,0)"/>
<rect x="957.57" y="827.80" width="18.62" height="15.30" fill="rgb(204,0,0)"/>
<rect x="975.59" y="827.80" width="18.62" height="15.30" fill="rgb(255,0,0)"/>
<rect x="993.61" y="827.80" width="18.62" height="15.30" fill="rgb(204,0,0)"/>
<rect x="1011.64" y="827.80" width="18.62" height="15.30" fill="rgb(0,153,0)"/>
<rect x="1029.66" y="827.80" width="18.62" height="15.30" fill="rgb(0,102,0)"/>
<rect x="1047.68" y="827.80" width="18.02" height="15.30" fill="rgb(0,153,0)"/>
<rect x="687.25" y="842.50" width="18.62" height="15.30" fill="rgb(0,102,0)"/>
<rect x="705.27" y="842.50" width="18.62" height="15.30" fill="rgb(0,153,0)"/>
<rect x="723.29" y="842.50" width="18.62" height="15.30" fill="rgb(0,128,0)"/>
<rect x="741.31" y="842.50" width="18.62" height="15.30" fill="rgb(0,102,0)"/>
<rect x="759.34" y="842.50" width="18.62" height="15.30" fill="rgb(0,102,0)"/>
<rect x="777.36" y="842.50" width="18.62" height="15.30" fill="rgb(0,102,0)"/>
<rect x="795.38" y="842.50" width="18.62" height="15.30" fill="rgb(51,0,0)"/>
<rect x="813.40" y="842.50" width="18.62" height="15.30" fill="rgb(26,0,0)"/>
<rect x="831.42" y="842.50" width="18.62" height="15.30" fill="rgb(26,0,0)"/>
<rect x="849.44" y="842.50" width="18.62" height="15.30" fill="rgb(0,255,0)"/>
<rect x="867.46" y="842.50" width="18.62" height="15.30" fill="rgb(0,255,0)"/>
<rect x="885.49" y="842.50" width="18.62" height="15.30" fill="rgb(0,255,0)"/>
<rect x="903.51" y="842.50" width="18.62" height="15.30" fill="rgb(51,0,0)"/>
<rect x="921.53" y="842.50" width="18.62" height="15.30" fill="rgb(51,0,0)"/>
<rect x="939.55" y="842.50" width="18.62" height="15.30" fill="rgb(0,0,0)"/>
<rect x="957.57" y="842.50" width="18.62" height="15.30" fill="rgb(204,0,0)"/>
<rect x="975.59" y="842.50" width="18.62" height="15.30" fill="rgb(255,0,0)"/>
<rect x="993.61" y="842.50" width="18.62" height="15.30" fill="rgb(102,0,0)"/>
<rect x="1011.64" y="842.50" width="18.62" height="15.30" fill="rgb(0,128,0)"/>
<rect x="1029.66" y="842.50" width="18.62" height="15.30" fill="rgb(0,153,0)"/>
<rect x="1047.68" y="842.50" width="18.02" height="15.30" fill="rgb(0,102,0)"/>
<rect x="687.25" y="857.20" width="18.62" height="15.30" fill="rgb(51,0,0)"/>
<rect x="705.27" y="857.20" width="18.62" height="15.30" fill="rgb(0,0,0)"/>
<rect x="723.29" y="857.20" width="18.62" height="15.30" fill="rgb(51,0,0)"/>
<rect x="741.31" y="857.20" width="18.62" height="15.30" fill="rgb(0,153,0)"/>
<rect x="759.34" y="857.20" width="18.62" height="15.30" fill="rgb(0,153,0)"/>
<rect x="777.36" y="857.20" width="18.62" height="15.30" fill="rgb(0,153,0)"/>
<rect x="795.38" y="857.20" width="18.62" height="15.30" fill="rgb(0,0,0)"/>
<rect x="813.40" y="857.20" width="18.62" height="15.30" fill="rgb(0,0,0)"/>
<rect x="831.42" y="857.20" width="18.62" height="15.30" fill="rgb(0,0,0)"/>
<rect x="849.44" y="857.20" width="18.62" height="15.30" fill="rgb(0,255,0)"/>
<rect x="867.46" y="857.20" width="18.62" height="15.30" fill="rgb(0,255,0)"/>
<rect x="885.49" y="857.20" width="18.62" height="15.30" fill="rgb(0,255,0)"/>
<rect x="903.51" y="857.20" width="18.62" height="15.30" fill="rgb(230,0,0)"/>
<rect x="921.53" y="857.20" width="18.62" height="15.30" fill="rgb(230,0,0)"/>
<rect x="939.55" y="857.20" width="18.62" height="15.30" fill="rgb(178,0,0)"/>
<rect x="957.57" y="857.20" width="18.62" height="15.30" fill="rgb(204,0,0)"/>
<rect x="975.59" y="857.20" width="18.62" height="15.30" fill="rgb(255,0,0)"/>
<rect x="993.61" y="857.20" width="18.62" height="15.30" fill="rgb(255,0,0)"/>
<rect x="1011.64" y="857.20" width="18.62" height="15.30" fill="rgb(0,204,0)"/>
<rect x="1029.66" y="857.20" width="18.62" height="15.30" fill="rgb(0,204,0)"/>
<rect x="1047.68" y="857.20" width="18.02" height="15.30" fill="rgb(0,178,0)"/>
<rect x="687.25" y="871.90" width="18.62" height="15.30" fill="rgb(0,178,0)"/>
<rect x="705.27" y="871.90" width="18.62" height="15.30" fill="rgb(0,204,0)"/>
<rect x="723.29" y="871.90" width="18.62" height="15.30" fill="rgb(0,178,0)"/>
<rect x="741.31" y="871.90" width="18.62" height="15.30" fill="rgb(0,128,0)"/>
<rect x="759.34" y="871.90" width="18.62" height="15.30" fill="rgb(0,153,0)"/>
<rect x="777.36" y="871.90" width="18.62" height="15.30" fill="rgb(0,204,0)"/>
<rect x="795.38" y="871.90" width="18.62" height="15.30" fill="rgb(0,26,0)"/>
<rect x="813.40" y="871.90" width="18.62" height="15.30" fill="rgb(0,102,0)"/>
<rect x="831.42" y="871.90" width="18.62" height="15.30" fill="rgb(0,102,0)"/>
<rect x="849.44" y="871.90" width="18.62" height="15.30" fill="rgb(0,255,0)"/>
<rect x="867.46" y="871.90" width="18.62" height="15.30" fill="rgb(0,204,0)"/>
<rect x="885.49" y="871.90" width="18.62" height="15.30" fill="rgb(0,204,0)"/>
<rect x="903.51" y="871.90" width="18.62" height="15.30" fill="rgb(102,0,0)"/>
<rect x="921.53" y="871.90" width="18.62" height="15.30" fill="rgb(102,0,0)"/>
<rect x="939.55" y="871.90" width="18.62" height="15.30" fill="rgb(51,0,0)"/>
<rect x="957.57" y="871.90" width="18.62" height="15.30" fill="rgb(255,0,0)"/>
<rect x="975.59" y="871.90" width="18.62" height="15.30" fill="rgb(178,0,0)"/>
<rect x="993.61" y="871.90" width="18.62" height="15.30" fill="rgb(255,0,0)"/>
<rect x="1011.64" y="871.90" width="18.62" height="15.30" fill="rgb(0,255,0)"/>
<rect x="1029.66" y="871.90" width="18.62" height="15.30" fill="rgb(0,230,0)"/>
<rect x="1047.68" y="871.90" width="18.02" height="15.30" fill="rgb(0,230,0)"/>
<rect x="687.25" y="886.60" width="18.62" height="15.30" fill="rgb(0,51,0)"/>
<rect x="705.27" y="886.60" width="18.62" height="15.30" fill="rgb(0,76,0)"/>
<rect x="723.29" y="886.60" width="18.62" height="15.30" fill="rgb(0,51,0)"/>
<rect x="741.31" y="886.60" width="18.62" height="15.30" fill="rgb(0,204,0)"/>
<rect x="759.34" y="886.60" width="18.62" height="15.30" fill="rgb(0,255,0)"/>
<rect x="777.36" y="886.60" width="18.62" height="15.30" fill="rgb(0,255,0)"/>
<rect x="795.38" y="886.60" width="18.62" height="15.30" fill="rgb(0,128,0)"/>
<rect x="813.40" y="886.60" width="18.62" height="15.30" fill="rgb(0,178,0)"/>
<rect x="831.42" y="886.60" width="18.62" height="15.30" fill="rgb(0,128,0)"/>
<rect x="849.44" y="886.60" width="18.62" height="15.30" fill="rgb(0,230,0)"/>
<rect x="867.46" y="886.60" width="18.62" height="15.30" fill="rgb(0,230,0)"/>
<rect x="885.49" y="886.60" width="18.62" height="15.30" fill="rgb(0,230,0)"/>
<rect x="903.51" y="886.60" width="18.62" height="15.30" fill="rgb(51,0,0)"/>
<rect x="921.53" y="886.60" width="18.62" height="15.30" fill="rgb(26,0,0)"/>
<rect x="939.55" y="886.60" width="18.62" height="15.30" fill="rgb(0,26,0)"/>
<rect x="957.57" y="886.60" width="18.62" height="15.30" fill="rgb(255,0,0)"/>
<rect x="975.59" y="886.60" width="18.62" height="15.30" fill="rgb(230,0,0)"/>
<rect x="993.61" y="886.60" width="18.62" height="15.30" fill="rgb(230,0,0)"/>
<rect x="1011.64" y="886.60" width="18.62" height="15.30" fill="rgb(0,153,0)"/>
<rect x="1029.66" y="886.60" width="18.62" height="15.30" fill="rgb(0,153,0)"/>
<rect x="1047.68" y="886.60" width="18.02" height="15.30" fill="rgb(0,153,0)"/>
<rect x="687.25" y="901.30" width="18.62" height="15.30" fill="rgb(0,178,0)"/>
<rect x="705.27" y="901.30" width="18.62" height="15.30" fill="rgb(26,0,0)"/>
<rect x="723.29" y="901.30" width="18.62" height="15.30" fill="rgb(76,0,0)"/>
<rect x="741.31" y="901.30" width="18.62" height="15.30" fill="rgb(0,255,0)"/>
<rect x="759.34" y="901.30" width="18.62" height="15.30" fill="rgb(0,76,0)"/>
<rect x="777.36" y="901.30" width="18.62" height="15.30" fill="rgb(0,76,0)"/>
<rect x="795.38" y="901.30" width="18.62" height="15.30" fill="rgb(255,0,0)"/>
<rect x="813.40" y="901.30" width="18.62" height="15.30" fill="rgb(204,0,0)"/>
<rect x="831.42" y="901.30" width="18.62" height="15.30" fill="rgb(255,0,0)"/>
<rect x="849.44" y="901.30" width="18.62" height="15.30" fill="rgb(0,255,0)"/>
<rect x="867.46" y="901.30" width="18.62" height="15.30" fill="rgb(0,76,0)"/>
<rect x="885.49" y="901.30" width="18.62" height="15.30" fill="rgb(0,76,0)"/>
<rect x="903.51" y="901.30" width="18.62" height="15.30" fill="rgb(76,0,0)"/>
<rect x="921.53" y="901.30" width="18.62" height="15.30" fill="rgb(26,0,0)"/>
<rect x="939.55" y="901.30" width="18.62" height="15.30" fill="rgb(76,0,0)"/>
<rect x="957.57" y="901.30" width="18.62" height="15.30" fill="rgb(0,153,0)"/>
<rect x="975.59" y="901.30" width="18.62" height="15.30" fill="rgb(0,102,0)"/>
<rect x="993.61" y="901.30" width="18.62" height="15.30" fill="rgb(0,204,0)"/>
<rect x="1011.64" y="901.30" width="18.62" height="15.30" fill="rgb(0,0,0)"/>
<rect x="1029.66" y="901.30" width="18.62" height="15.30" fill="rgb(0,0,0)"/>
<rect x="1047.68" y="901.30" width="18.02" height="15.30" fill="rgb(153,0,0)"/>
<rect x="687.25" y="916.00" width="18.62" height="15.30" fill="rgb(0,230,0)"/>
<rect x="705.27" y="916.00" width="18.62" height="15.30" fill="rgb(0,230,0)"/>
<rect x="723.29" y="916.00" width="18.62" height="15.30" fill="rgb(0,230,0)"/>
<rect x="741.31" y="916.00" width="18.62" height="15.30" fill="rgb(0,230,0)"/>
<rect x="759.34" y="916.00" width="18.62" height="15.30" fill="rgb(0,230,0)"/>
<rect x="777.36" y="916.00" width="18.62" height="15.30" fill="rgb(0,230,0)"/>
<rect x="795.38" y="916.00" width="18.62" height="15.30" fill="rgb(255,0,0)"/>
<rect x="813.40" y="916.00" width="18.62" height="15.30" fill="rgb(178,0,0)"/>
<rect x="831.42" y="916.00" width="18.62" height="15.30" fill="rgb(230,0,0)"/>
<rect x="849.44" y="916.00" width="18.62" height="15.30" fill="rgb(0,255,0)"/>
<rect x="867.46" y="916.00" width="18.62" height="15.30" fill="rgb(0,255,0)"/>
<rect x="885.49" y="916.00" width="18.62" height="15.30" fill="rgb(0,255,0)"/>
<rect x="903.51" y="916.00" width="18.62" height="15.30" fill="rgb(0,204,0)"/>
<rect x="921.53" y="916.00" width="18.62" height="15.30" fill="rgb(0,230,0)"/>
<rect x="939.55" y="916.00" width="18.62" height="15.30" fill="rgb(0,230,0)"/>
<rect x="957.57" y="916.00" width="18.62" height="15.30" fill="rgb(51,0,0)"/>
<rect x="975.59" y="916.00" width="18.62" height="15.30" fill="rgb(26,0,0)"/>
<rect x="993.61" y="916.00" width="18.62" height="15.30" fill="rgb(26,0,0)"/>
<rect x="1011.64" y="916.00" width="18.62" height="15.30" fill="rgb(0,51,0)"/>
<rect x="1029.66" y="916.00" width="18.62" height="15.30" fill="rgb(0,26,0)"/>
<rect x="1047.68" y="916.00" width="18.02" height="15.30" fill="rgb(0,51,0)"/>
<rect x="687.25" y="930.70" width="18.62" height="15.30" fill="rgb(0,204,0)"/>
<rect x="705.27" y="930.70" width="18.62" height="15.30" fill="rgb(0,204,0)"/>
<rect x="723.29" y="930.70" width="18.62" height="15.30" fill="rgb(0,204,0)"/>
<rect x="741.31" y="930.70" width="18.62" height="15.30" fill="rgb(0,178,0)"/>
<rect x="759.34" y="930.70" width="18.62" height="15.30" fill="rgb(0,204,0)"/>
<rect x="777.36" y="930.70" width="18.62" height="15.30" fill="rgb(0,204,0)"/>
<rect x="795.38" y="930.70" width="18.62" height="15.30" fill="rgb(255,0,0)"/>
<rect x="813.40" y="930.70" width="18.62" height="15.30" fill="rgb(128,0,0)"/>
<rect x="831.42" y="930.70" width="18.62" height="15.30" fill="rgb(178,0,0)"/>
<rect x="849.44" y="930.70" width="18.62" height="15.30" fill="rgb(0,255,0)"/>
<rect x="867.46" y="930.70" width="18.62" height="15.30" fill="rgb(0,255,0)"/>
<rect x="885.49" y="930.70" width="18.62" height="15.30" fill="rgb(0,255,0)"/>
<rect x="903.51" y="930.70" width="18.62" height="15.30" fill="rgb(0,204,0)"/>
<rect x="921.53" y="930.70" width="18.62" height="15.30" fill="rgb(0,204,0)"/>
<rect x="939.55" y="930.70" width="18.62" height="15.30" fill="rgb(0,204,0)"/>
<rect x="957.57" y="930.70" width="18.62" height="15.30" fill="rgb(0,178,0)"/>
<rect x="975.59" y="930.70" width="18.62" height="15.30" fill="rgb(0,178,0)"/>
<rect x="993.61" y="930.70" width="18.62" height="15.30" fill="rgb(0,153,0)"/>
<rect x="1011.64" y="930.70" width="18.62" height="15.30" fill="rgb(0,0,0)"/>
<rect x="1029.66" y="930.70" width="18.62" height="15.30" fill="rgb(51,0,0)"/>
<rect x="1047.68" y="930.70" width="18.02" height="15.30" fill="rgb(0,26,0)"/>
<rect x="687.25" y="945.40" width="18.62" height="15.30" fill="rgb(0,204,0)"/>
<rect x="705.27" y="945.40" width="18.62" height="15.30" fill="rgb(0,204,0)"/>
<rect x="723.29" y="945.40" width="18.62" height="15.30" fill="rgb(0,204,0)"/>
<rect x="741.31" y="945.40" width="18.62" height="15.30" fill="rgb(0,204,0)"/>
<rect x="759.34" y="945.40" width="18.62" height="15.30" fill="rgb(0,178,0)"/>
<rect x="777.36" y="945.40" width="18.62" height="15.30" fill="rgb(0,178,0)"/>
<rect x="795.38" y="945.40" width="18.62" height="15.30" fill="rgb(255,0,0)"/>
<rect x="813.40" y="945.40" width="18.62" height="15.30" fill="rgb(230,0,0)"/>
<rect x="831.42" y="945.40" width="18.62" height="15.30" fill="rgb(230,0,0)"/>
<rect x="849.44" y="945.40" width="18.62" height="15.30" fill="rgb(0,255,0)"/>
<rect x="867.46" y="945.40" width="18.62" height="15.30" fill="rgb(0,255,0)"/>
<rect x="885.49" y="945.40" width="18.62" height="15.30" fill="rgb(0,255,0)"/>
<rect x="903.51" y="945.40" width="18.62" height="15.30" fill="rgb(0,128,0)"/>
<rect x="921.53" y="945.40" width="18.62" height="15.30" fill="rgb(0,204,0)"/>
<rect x="939.55" y="945.40" width="18.62" height="15.30" fill="rgb(0,204,0)"/>
<rect x="957.57" y="945.40" width="18.62" height="15.30" fill="rgb(0,153,0)"/>
<rect x="975.59" y="945.40" width="18.62" height="15.30" fill="rgb(0,204,0)"/>
<rect x="993.61" y="945.40" width="18.62" height="15.30" fill="rgb(0,102,0)"/>
<rect x="1011.64" y="945.40" width="18.62" height="15.30" fill="rgb(0,128,0)"/>
<rect x="1029.66" y="945.40" width="18.62" height="15.30" fill="rgb(0,26,0)"/>
<rect x="1047.68" y="945.40" width="18.02" height="15.30" fill="rgb(0,0,0)"/>
<rect x="687.25" y="960.10" width="18.62" height="15.30" fill="rgb(0,255,0)"/>
<rect x="705.27" y="960.10" width="18.62" height="15.30" fill="rgb(0,204,0)"/>
<rect x="723.29" y="960.10" width="18.62" height="15.30" fill="rgb(0,178,0)"/>
<rect x="741.31" y="960.10" width="18.62" height="15.30" fill="rgb(0,230,0)"/>
<rect x="759.34" y="960.10" width="18.62" height="15.30" fill="rgb(0,230,0)"/>
<rect x="777.36" y="960.10" width="18.62" height="15.30" fill="rgb(0,230,0)"/>
<rect x="795.38" y="960.10" width="18.62" height="15.30" fill="rgb(0,51,0)"/>
<rect x="813.40" y="960.10" width="18.62" height="15.30" fill="rgb(0,26,0)"/>
<rect x="831.42" y="960.10" width="18.62" height="15.30" fill="rgb(0,26,0)"/>
<rect x="849.44" y="960.10" width="18.62" height="15.30" fill="rgb(0,76,0)"/>
<rect x="867.46" y="960.10" width="18.62" height="15.30" fill="rgb(0,76,0)"/>
<rect x="885.49" y="960.10" width="18.62" height="15.30" fill="rgb(0,76,0)"/>
<rect x="903.51" y="960.10" width="18.62" height="15.30" fill="rgb(0,153,0)"/>
<rect x="921.53" y="960.10" width="18.62" height="15.30" fill="rgb(0,153,0)"/>
<rect x="939.55" y="960.10" width="18.62" height="15.30" fill="rgb(0,153,0)"/>
<rect x="957.57" y="960.10" width="18.62" height="15.30" fill="rgb(0,0,0)"/>
<rect x="975.59" y="960.10" width="18.62" height="15.30" fill="rgb(0,0,0)"/>
<rect x="993.61" y="960.10" width="18.62" height="15.30" fill="rgb(51,0,0)"/>
<rect x="1011.64" y="960.10" width="18.62" height="15.30" fill="rgb(230,0,0)"/>
<rect x="1029.66" y="960.10" width="18.62" height="15.30" fill="rgb(204,0,0)"/>
<rect x="1047.68" y="960.10" width="18.02" height="15.30" fill="rgb(255,0,0)"/>
<rect x="687.25" y="974.80" width="18.62" height="15.30" fill="rgb(128,0,0)"/>
<rect x="705.27" y="974.80" width="18.62" height="15.30" fill="rgb(0,0,0)"/>
<rect x="723.29" y="974.80" width="18.62" height="15.30" fill="rgb(51,0,0)"/>
<rect x="741.31" y="974.80" width="18.62" height="15.30" fill="rgb(128,0,0)"/>
<rect x="759.34" y="974.80" width="18.62" height="15.30" fill="rgb(0,0,0)"/>
<rect x="777.36" y="974.80" width="18.62" height="15.30" fill="rgb(0,0,0)"/>
<rect x="795.38" y="974.80" width="18.62" height="15.30" fill="rgb(0,178,0)"/>
<rect x="813.40" y="974.80" width="18.62" height="15.30" fill="rgb(0,128,0)"/>
<rect x="831.42" y="974.80" width="18.62" height="15.30" fill="rgb(0,153,0)"/>
<rect x="849.44" y="974.80" width="18.62" height="15.30" fill="rgb(0,76,0)"/>
<rect x="867.46" y="974.80" width="18.62" height="15.30" fill="rgb(0,102,0)"/>
<rect x="885.49" y="974.80" width="18.62" height="15.30" fill="rgb(0,102,0)"/>
<rect x="903.51" y="974.80" width="18.62" height="15.30" fill="rgb(0,255,0)"/>
<rect x="921.53" y="974.80" width="18.62" height="15.30" fill="rgb(0,230,0)"/>
<rect x="939.55" y="974.80" width="18.62" height="15.30" fill="rgb(0,204,0)"/>
<rect x="957.57" y="974.80" width="18.62" height="15.30" fill="rgb(178,0,0)"/>
<rect x="975.59" y="974.80" width="18.62" height="15.30" fill="rgb(255,0,0)"/>
<rect x="993.61" y="974.80" width="18.62" height="15.30" fill="rgb(255,0,0)"/>
<rect x="1011.64" y="974.80" width="18.62" height="15.30" fill="rgb(204,0,0)"/>
<rect x="1029.66" y="974.80" width="18.62" height="15.30" fill="rgb(153,0,0)"/>
<rect x="1047.68" y="974.80" width="18.02" height="15.30" fill="rgb(178,0,0)"/>
<rect x="687.25" y="989.50" width="18.62" height="15.30" fill="rgb(0,102,0)"/>
<rect x="705.27" y="989.50" width="18.62" height="15.30" fill="rgb(0,153,0)"/>
<rect x="723.29" y="989.50" width="18.62" height="15.30" fill="rgb(0,76,0)"/>
<rect x="741.31" y="989.50" width="18.62" height="15.30" fill="rgb(128,0,0)"/>
<rect x="759.34" y="989.50" width="18.62" height="15.30" fill="rgb(26,0,0)"/>
<rect x="777.36" y="989.50" width="18.62" height="15.30" fill="rgb(76,0,0)"/>
<rect x="795.38" y="989.50" width="18.62" height="15.30" fill="rgb(0,255,0)"/>
<rect x="813.40" y="989.50" width="18.62" height="15.30" fill="rgb(0,230,0)"/>
<rect x="831.42" y="989.50" width="18.62" height="15.30" fill="rgb(0,255,0)"/>
<rect x="849.44" y="989.50" width="18.62" height="15.30" fill="rgb(0,102,0)"/>
<rect x="867.46" y="989.50" width="18.62" height="15.30" fill="rgb(0,128,0)"/>
<rect x="885.49" y="989.50" width="18.62" height="15.30" fill="rgb(0,102,0)"/>
<rect x="903.51" y="989.50" width="18.62" height="15.30" fill="rgb(0,26,0)"/>
<rect x="921.53" y="989.50" width="18.62" height="15.30" fill="rgb(0,51,0)"/>
<rect x="939.55" y="989.50" width="18.62" height="15.30" fill="rgb(0,76,0)"/>
<rect x="957.57" y="989.50" width="18.62" height="15.30" fill="rgb(255,0,0)"/>
<rect x="975.59" y="989.50" width="18.62" height="15.30" fill="rgb(204,0,0)"/>
<rect x="993.61" y="989.50" width="18.62" height="15.30" fill="rgb(255,0,0)"/>
<rect x="1011.64" y="989.50" width="18.62" height="15.30" fill="rgb(0,51,0)"/>
<rect x="1029.66" y="989.50" width="18.62" height="15.30" fill="rgb(153,0,0)"/>
<rect x="1047.68" y="989.50" width="18.02" height="15.30" fill="rgb(204,0,0)"/>
<rect x="687.25" y="1004.20" width="18.62" height="15.30" fill="rgb(0,128,0)"/>
<rect x="705.27" y="1004.20" width="18.62" height="15.30" fill="rgb(0,153,0)"/>
<rect x="723.29" y="1004.20" width="18.62" height="15.30" fill="rgb(0,102,0)"/>
<rect x="741.31" y="1004.20" width="18.62" height="15.30" fill="rgb(178,0,0)"/>
<rect x="759.34" y="1004.20" width="18.62" height="15.30" fill="rgb(255,0,0)"/>
<rect x="777.36" y="1004.20" width="18.62" height="15.30" fill="rgb(255,0,0)"/>
<rect x="795.38" y="1004.20" width="18.62" height="15.30" fill="rgb(0,153,0)"/>
<rect x="813.40" y="1004.20" width="18.62" height="15.30" fill="rgb(0,230,0)"/>
<rect x="831.42" y="1004.20" width="18.62" height="15.30" fill="rgb(0,204,0)"/>
<rect x="849.44" y="1004.20" width="18.62" height="15.30" fill="rgb(0,230,0)"/>
<rect x="867.46" y="1004.20" width="18.62" height="15.30" fill="rgb(0,255,0)"/>
<rect x="885.49" y="1004.20" width="18.62" height="15.30" fill="rgb(0,255,0)"/>
<rect x="903.51" y="1004.20" width="18.62" height="15.30" fill="rgb(0,51,0)"/>
<rect x="921.53" y="1004.20" width="18.62" height="15.30" fill="rgb(0,76,0)"/>
<rect x="939.55" y="1004.20" width="18.62" height="15.30" fill="rgb(0,128,0)"/>
<rect x="957.57" y="1004.20" width="18.62" height="15.30" fill="rgb(153,0,0)"/>
<rect x="975.59" y="1004.20" width="18.62" height="15.30" fill="rgb(128,0,0)"/>
<rect x="993.61" y="1004.20" width="18.62" height="15.30" fill="rgb(153,0,0)"/>
<rect x="1011.64" y="1004.20" width="18.62" height="15.30" fill="rgb(0,76,0)"/>
<rect x="1029.66" y="1004.20" width="18.62" height="15.30" fill="rgb(0,128,0)"/>
<rect x="1047.68" y="1004.20" width="18.02" height="15.30" fill="rgb(0,128,0)"/>
<rect x="687.25" y="1018.90" width="18.62" height="15.30" fill="rgb(0,128,0)"/>
<rect x="705.27" y="1018.90" width="18.62" height="15.30" fill="rgb(0,153,0)"/>
<rect x="723.29" y="1018.90" width="18.62" height="15.30" fill="rgb(0,128,0)"/>
<rect x="741.31" y="1018.90" width="18.62" height="15.30" fill="rgb(255,0,0)"/>
<rect x="759.34" y="1018.90" width="18.62" height="15.30" fill="rgb(26,0,0)"/>
<rect x="777.36" y="1018.90" width="18.62" height="15.30" fill="rgb(102,0,0)"/>
<rect x="795.38" y="1018.90" width="18.62" height="15.30" fill="rgb(0,255,0)"/>
<rect x="813.40" y="1018.90" width="18.62" height="15.30" fill="rgb(0,230,0)"/>
<rect x="831.42" y="1018.90" width="18.62" height="15.30" fill="rgb(0,255,0)"/>
<rect x="849.44" y="1018.90" width="18.62" height="15.30" fill="rgb(0,230,0)"/>
<rect x="867.46" y="1018.90" width="18.62" height="15.30" fill="rgb(0,255,0)"/>
<rect x="885.49" y="1018.90" width="18.62" height="15.30" fill="rgb(0,230,0)"/>
<rect x="903.51" y="1018.90" width="18.62" height="15.30" fill="rgb(0,76,0)"/>
<rect x="921.53" y="1018.90" width="18.62" height="15.30" fill="rgb(0,102,0)"/>
<rect x="939.55" y="1018.90" width="18.62" height="15.30" fill="rgb(0,128,0)"/>
<rect x="957.57" y="1018.90" width="18.62" height="15.30" fill="rgb(102,0,0)"/>
<rect x="975.59" y="1018.90" width="18.62" height="15.30" fill="rgb(76,0,0)"/>
<rect x="993.61" y="1018.90" width="18.62" height="15.30" fill="rgb(102,0,0)"/>
<rect x="1011.64" y="1018.90" width="18.62" height="15.30" fill="rgb(0,102,0)"/>
<rect x="1029.66" y="1018.90" width="18.62" height="15.30" fill="rgb(0,128,0)"/>
<rect x="1047.68" y="1018.90" width="18.02" height="15.30" fill="rgb(0,128,0)"/>
<rect x="687.25" y="1033.60" width="18.62" height="15.30" fill="rgb(0,102,0)"/>
<rect x="705.27" y="1033.60" width="18.62" height="15.30" fill="rgb(0,140,0)"/>
<rect x="723.29" y="1033.60" width="18.62" height="15.30" fill="rgb(0,76,0)"/>
<rect x="741.31" y="1033.60" width="18.62" height="15.30" fill="rgb(128,0,0)"/>
<rect x="759.34" y="1033.60" width="18.62" height="15.30" fill="rgb(26,0,0)"/>
<rect x="777.36" y="1033.60" width="18.62" height="15.30" fill="rgb(102,0,0)"/>
<rect x="795.38" y="1033.60" width="18.62" height="15.30" fill="rgb(0,76,0)"/>
<rect x="813.40" y="1033.60" width="18.62" height="15.30" fill="rgb(0,102,0)"/>
<rect x="831.42" y="1033.60" width="18.62" height="15.30" fill="rgb(51,0,0)"/>
<rect x="849.44" y="1033.60" width="18.62" height="15.30" fill="rgb(0,204,0)"/>
<rect x="867.46" y="1033.60" width="18.62" height="15.30" fill="rgb(0,255,0)"/>
<rect x="885.49" y="1033.60" width="18.62" height="15.30" fill="rgb(0,230,0)"/>
<rect x="903.51" y="1033.60" width="18.62" height="15.30" fill="rgb(0,26,0)"/>
<rect x="921.53" y="1033.60" width="18.62" height="15.30" fill="rgb(0,51,0)"/>
<rect x="939.55" y="1033.60" width="18.62" height="15.30" fill="rgb(0,76,0)"/>
<rect x="957.57" y="1033.60" width="18.62" height="15.30" fill="rgb(242,0,0)"/>
<rect x="975.59" y="1033.60" width="18.62" height="15.30" fill="rgb(217,0,0)"/>
<rect x="993.61" y="1033.60" width="18.62" height="15.30" fill="rgb(255,0,0)"/>
<rect x="1011.64" y="1033.60" width="18.62" height="15.30" fill="rgb(0,26,0)"/>
<rect x="1029.66" y="1033.60" width="18.62" height="15.30" fill="rgb(0,76,0)"/>
<rect x="1047.68" y="1033.60" width="18.02" height="15.30" fill="rgb(0,76,0)"/>
<rect x="687.25" y="1048.30" width="18.62" height="15.30" fill="rgb(0,102,0)"/>
<rect x="705.27" y="1048.30" width="18.62" height="15.30" fill="rgb(0,140,0)"/>
<rect x="723.29" y="1048.30" width="18.62" height="15.30" fill="rgb(0,76,0)"/>
<rect x="741.31" y="1048.30" width="18.62" height="15.30" fill="rgb(128,0,0)"/>
<rect x="759.34" y="1048.30" width="18.62" height="15.30" fill="rgb(26,0,0)"/>
<rect x="777.36" y="1048.30" width="18.62" height="15.30" fill="rgb(102,0,0)"/>
<rect x="795.38" y="1048.30" width="18.62" height="15.30" fill="rgb(0,255,0)"/>
<rect x="813.40" y="1048.30" width="18.62" height="15.30" fill="rgb(0,204,0)"/>
<rect x="831.42" y="1048.30" width="18.62" height="15.30" fill="rgb(0,255,0)"/>
<rect x="849.44" y="1048.30" width="18.62" height="15.30" fill="rgb(0,230,0)"/>
<rect x="867.46" y="1048.30" width="18.62" height="15.30" fill="rgb(0,255,0)"/>
<rect x="885.49" y="1048.30" width="18.62" height="15.30" fill="rgb(0,230,0)"/>
<rect x="903.51" y="1048.30" width="18.62" height="15.30" fill="rgb(0,26,0)"/>
<rect x="921.53" y="1048.30" width="18.62" height="15.30" fill="rgb(0,51,0)"/>
<rect x="939.55" y="1048.30" width="18.62" height="15.30" fill="rgb(51,0,0)"/>
<rect x="957.57" y="1048.30" width="18.62" height="15.30" fill="rgb(242,0,0)"/>
<rect x="975.59" y="1048.30" width="18.62" height="15.30" fill="rgb(217,0,0)"/>
<rect x="993.61" y="1048.30" width="18.62" height="15.30" fill="rgb(255,0,0)"/>
<rect x="1011.64" y="1048.30" width="18.62" height="15.30" fill="rgb(0,26,0)"/>
<rect x="1029.66" y="1048.30" width="18.62" height="15.30" fill="rgb(0,76,0)"/>
<rect x="1047.68" y="1048.30" width="18.02" height="15.30" fill="rgb(0,76,0)"/>
<rect x="687.25" y="1063.00" width="18.62" height="15.30" fill="rgb(0,102,0)"/>
<rect x="705.27" y="1063.00" width="18.62" height="15.30" fill="rgb(0,140,0)"/>
<rect x="723.29" y="1063.00" width="18.62" height="15.30" fill="rgb(0,76,0)"/>
<rect x="741.31" y="1063.00" width="18.62" height="15.30" fill="rgb(128,0,0)"/>
<rect x="759.34" y="1063.00" width="18.62" height="15.30" fill="rgb(26,0,0)"/>
<rect x="777.36" y="1063.00" width="18.62" height="15.30" fill="rgb(102,0,0)"/>
<rect x="795.38" y="1063.00" width="18.62" height="15.30" fill="rgb(0,255,0)"/>
<rect x="813.40" y="1063.00" width="18.62" height="15.30" fill="rgb(0,204,0)"/>
<rect x="831.42" y="1063.00" width="18.62" height="15.30" fill="rgb(0,255,0)"/>
<rect x="849.44" y="1063.00" width="18.62" height="15.30" fill="rgb(0,230,0)"/>
<rect x="867.46" y="1063.00" width="18.62" height="15.30" fill="rgb(0,255,0)"/>
<rect x="885.49" y="1063.00" width="18.62" height="15.30" fill="rgb(0,230,0)"/>
<rect x="903.51" y="1063.00" width="18.62" height="15.30" fill="rgb(0,26,0)"/>
<rect x="921.53" y="1063.00" width="18.62" height="15.30" fill="rgb(0,51,0)"/>
<rect x="939.55" y="1063.00" width="18.62" height="15.30" fill="rgb(0,76,0)"/>
<rect x="957.57" y="1063.00" width="18.62" height="15.30" fill="rgb(242,0,0)"/>
<rect x="975.59" y="1063.00" width="18.62" height="15.30" fill="rgb(217,0,0)"/>
<rect x="993.61" y="1063.00" width="18.62" height="15.30" fill="rgb(255,0,0)"/>
<rect x="1011.64" y="1063.00" width="18.62" height="15.30" fill="rgb(0,26,0)"/>
<rect x="1029.66" y="1063.00" width="18.62" height="15.30" fill="rgb(0,76,0)"/>
<rect x="1047.68" y="1063.00" width="18.02" height="15.30" fill="rgb(0,76,0)"/>
<rect x="687.25" y="1077.70" width="18.62" height="15.30" fill="rgb(0,102,0)"/>
<rect x="705.27" y="1077.70" width="18.62" height="15.30" fill="rgb(0,140,0)"/>
<rect x="723.29" y="1077.70" width="18.62" height="15.30" fill="rgb(0,76,0)"/>
<rect x="741.31" y="1077.70" width="18.62" height="15.30" fill="rgb(128,0,0)"/>
<rect x="759.34" y="1077.70" width="18.62" height="15.30" fill="rgb(26,0,0)"/>
<rect x="777.36" y="1077.70" width="18.62" height="15.30" fill="rgb(102,0,0)"/>
<rect x="795.38" y="1077.70" width="18.62" height="15.30" fill="rgb(0,255,0)"/>
<rect x="813.40" y="1077.70" width="18.62" height="15.30" fill="rgb(0,204,0)"/>
<rect x="831.42" y="1077.70" width="18.62" height="15.30" fill="rgb(0,255,0)"/>
<rect x="849.44" y="1077.70" width="18.62" height="15.30" fill="rgb(0,230,0)"/>
<rect x="867.46" y="1077.70" width="18.62" height="15.30" fill="rgb(0,255,0)"/>
<rect x="885.49" y="1077.70" width="18.62" height="15.30" fill="rgb(0,230,0)"/>
<rect x="903.51" y="1077.70" width="18.62" height="15.30" fill="rgb(0,26,0)"/>
<rect x="921.53" y="1077.70" width="18.62" height="15.30" fill="rgb(0,51,0)"/>
<rect x="939.55" y="1077.70" width="18.62" height="15.30" fill="rgb(0,76,0)"/>
<rect x="957.57" y="1077.70" width="18.62" height="15.30" fill="rgb(242,0,0)"/>
<rect x="975.59" y="1077.70" width="18.62" height="15.30" fill="rgb(217,0,0)"/>
<rect x="993.61" y="1077.70" width="18.62" height="15.30" fill="rgb(255,0,0)"/>
<rect x="1011.64" y="1077.70" width="18.62" height="15.30" fill="rgb(0,26,0)"/>
<rect x="1029.66" y="1077.70" width="18.62" height="15.30" fill="rgb(0,76,0)"/>
<rect x="1047.68" y="1077.70" width="18.02" height="15.30" fill="rgb(0,76,0)"/>
<rect x="687.25" y="1092.40" width="18.62" height="15.30" fill="rgb(0,102,0)"/>
<rect x="705.27" y="1092.40" width="18.62" height="15.30" fill="rgb(0,140,0)"/>
<rect x="723.29" y="1092.40" width="18.62" height="15.30" fill="rgb(0,76,0)"/>
<rect x="741.31" y="1092.40" width="18.62" height="15.30" fill="rgb(128,0,0)"/>
<rect x="759.34" y="1092.40" width="18.62" height="15.30" fill="rgb(26,0,0)"/>
<rect x="777.36" y="1092.40" width="18.62" height="15.30" fill="rgb(102,0,0)"/>
<rect x="795.38" y="1092.40" width="18.62" height="15.30" fill="rgb(0,255,0)"/>
<rect x="813.40" y="1092.40" width="18.62" height="15.30" fill="rgb(0,204,0)"/>
<rect x="831.42" y="1092.40" width="18.62" height="15.30" fill="rgb(0,255,0)"/>
<rect x="849.44" y="1092.40" width="18.62" height="15.30" fill="rgb(0,230,0)"/>
<rect x="867.46" y="1092.40" width="18.62" height="15.30" fill="rgb(0,255,0)"/>
<rect x="885.49" y="1092.40" width="18.62" height="15.30" fill="rgb(0,230,0)"/>
<rect x="903.51" y="1092.40" width="18.62" height="15.30" fill="rgb(0,26,0)"/>
<rect x="921.53" y="1092.40" width="18.62" height="15.30" fill="rgb(0,51,0)"/>
<rect x="939.55" y="1092.40" width="18.62" height="15.30" fill="rgb(0,76,0)"/>
<rect x="957.57" y="1092.40" width="18.62" height="15.30" fill="rgb(242,0,0)"/>
<rect x="975.59" y="1092.40" width="18.62" height="15.30" fill="rgb(217,0,0)"/>
<rect x="993.61" y="1092.40" width="18.62" height="15.30" fill="rgb(255,0,0)"/>
<rect x="1011.64" y="1092.40" width="18.62" height="15.30" fill="rgb(0,26,0)"/>
<rect x="1029.66" y="1092.40" width="18.62" height="15.30" fill="rgb(0,76,0)"/>
<rect x="1047.68" y="1092.40" width="18.02" height="15.30" fill="rgb(0,76,0)"/>
<rect x="687.25" y="1107.10" width="18.62" height="15.30" fill="rgb(0,102,0)"/>
<rect x="705.27" y="1107.10" width="18.62" height="15.30" fill="rgb(0,140,0)"/>
<rect x="723.29" y="1107.10" width="18.62" height="15.30" fill="rgb(0,76,0)"/>
<rect x="741.31" y="1107.10" width="18.62" height="15.30" fill="rgb(128,0,0)"/>
<rect x="759.34" y="1107.10" width="18.62" height="15.30" fill="rgb(26,0,0)"/>
<rect x="777.36" y="1107.10" width="18.62" height="15.30" fill="rgb(102,0,0)"/>
<rect x="795.38" y="1107.10" width="18.62" height="15.30" fill="rgb(0,255,0)"/>
<rect x="813.40" y="1107.10" width="18.62" height="15.30" fill="rgb(0,204,0)"/>
<rect x="831.42" y="1107.10" width="18.62" height="15.30" fill="rgb(0,255,0)"/>
<rect x="849.44" y="1107.10" width="18.62" height="15.30" fill="rgb(0,230,0)"/>
<rect x="867.46" y="1107.10" width="18.62" height="15.30" fill="rgb(0,255,0)"/>
<rect x="885.49" y="1107.10" width="18.62" height="15.30" fill="rgb(0,230,0)"/>
<rect x="903.51" y="1107.10" width="18.62" height="15.30" fill="rgb(0,26,0)"/>
<rect x="921.53" y="1107.10" width="18.62" height="15.30" fill="rgb(0,51,0)"/>
<rect x="939.55" y="1107.10" width="18.62" height="15.30" fill="rgb(0,76,0)"/>
<rect x="957.57" y="1107.10" width="18.62" height="15.30" fill="rgb(242,0,0)"/>
<rect x="975.59" y="1107.10" width="18.62" height="15.30" fill="rgb(217,0,0)"/>
<rect x="993.61" y="1107.10" width="18.62" height="15.30" fill="rgb(255,0,0)"/>
<rect x="1011.64" y="1107.10" width="18.62" height="15.30" fill="rgb(0,26,0)"/>
<rect x="1029.66" y="1107.10" width="18.62" height="15.30" fill="rgb(0,76,0)"/>
<rect x="1047.68" y="1107.10" width="18.02" height="15.30" fill="rgb(0,76,0)"/>
<rect x="687.25" y="1121.80" width="18.62" height="15.30" fill="rgb(0,102,0)"/>
<rect x="705.27" y="1121.80" width="18.62" height="15.30" fill="rgb(0,140,0)"/>
<rect x="723.29" y="1121.80" width="18.62" height="15.30" fill="rgb(0,76,0)"/>
<rect x="741.31" y="1121.80" width="18.62" height="15.30" fill="rgb(128,0,0)"/>
<rect x="759.34" y="1121.80" width="18.62" height="15.30" fill="rgb(26,0,0)"/>
<rect x="777.36" y="1121.80" width="18.62" height="15.30" fill="rgb(102,0,0)"/>
<rect x="795.38" y="1121.80" width="18.62" height="15.30" fill="rgb(0,255,0)"/>
<rect x="813.40" y="1121.80" width="18.62" height="15.30" fill="rgb(0,204,0)"/>
<rect x="831.42" y="1121.80" width="18.62" height="15.30" fill="rgb(0,255,0)"/>
<rect x="849.44" y="1121.80" width="18.62" height="15.30" fill="rgb(0,230,0)"/>
<rect x="867.46" y="1121.80" width="18.62" height="15.30" fill="rgb(0,255,0)"/>
<rect x="885.49" y="1121.80" width="18.62" height="15.30" fill="rgb(0,230,0)"/>
<rect x="903.51" y="1121.80" width="18.62" height="15.30" fill="rgb(0,26,0)"/>
<rect x="921.53" y="1121.80" width="18.62" height="15.30" fill="rgb(0,51,0)"/>
<rect x="939.55" y="1121.80" width="18.62" height="15.30" fill="rgb(0,76,0)"/>
<rect x="957.57" y="1121.80" width="18.62" height="15.30" fill="rgb(242,0,0)"/>
<rect x="975.59" y="1121.80" width="18.62" height="15.30" fill="rgb(217,0,0)"/>
<rect x="993.61" y="1121.80" width="18.62" height="15.30" fill="rgb(255,0,0)"/>
<rect x="1011.64" y="1121.80" width="18.62" height="15.30" fill="rgb(0,26,0)"/>
<rect x="1029.66" y="1121.80" width="18.62" height="15.30" fill="rgb(0,76,0)"/>
<rect x="1047.68" y="1121.80" width="18.02" height="15.30" fill="rgb(0,76,0)"/>
<rect x="687.25" y="1136.50" width="18.62" height="15.30" fill="rgb(0,102,0)"/>
<rect x="705.27" y="1136.50" width="18.62" height="15.30" fill="rgb(0,140,0)"/>
<rect x="723.29" y="1136.50" width="18.62" height="15.30" fill="rgb(0,76,0)"/>
<rect x="741.31" y="1136.50" width="18.62" height="15.30" fill="rgb(128,0,0)"/>
<rect x="759.34" y="1136.50" width="18.62" height="15.30" fill="rgb(26,0,0)"/>
<rect x="777.36" y="1136.50" width="18.62" height="15.30" fill="rgb(102,0,0)"/>
<rect x="795.38" y="1136.50" width="18.62" height="15.30" fill="rgb(0,255,0)"/>
<rect x="813.40" y="1136.50" width="18.62" height="15.30" fill="rgb(0,204,0)"/>
<rect x="831.42" y="1136.50" width="18.62" height="15.30" fill="rgb(0,255,0)"/>
<rect x="849.44" y="1136.50" width="18.62" height="15.30" fill="rgb(0,230,0)"/>
<rect x="867.46" y="1136.50" width="18.62" height="15.30" fill="rgb(0,255,0)"/>
<rect x="885.49" y="1136.50" width="18.62" height="15.30" fill="rgb(0,230,0)"/>
<rect x="903.51" y="1136.50" width="18.62" height="15.30" fill="rgb(0,26,0)"/>
<rect x="921.53" y="1136.50" width="18.62" height="15.30" fill="rgb(0,51,0)"/>
<rect x="939.55" y="1136.50" width="18.62" height="15.30" fill="rgb(0,76,0)"/>
<rect x="957.57" y="1136.50" width="18.62" height="15.30" fill="rgb(242,0,0)"/>
<rect x="975.59" y="1136.50" width="18.62" height="15.30" fill="rgb(217,0,0)"/>
<rect x="993.61" y="1136.50" width="18.62" height="15.30" fill="rgb(255,0,0)"/>
<rect x="1011.64" y="1136.50" width="18.62" height="15.30" fill="rgb(0,26,0)"/>
<rect x="1029.66" y="1136.50" width="18.62" height="15.30" fill="rgb(0,76,0)"/>
<rect x="1047.68" y="1136.50" width="18.02" height="15.30" fill="rgb(0,76,0)"/>
<rect x="687.25" y="1151.20" width="18.62" height="15.30" fill="rgb(0,102,0)"/>
<rect x="705.27" y="1151.20" width="18.62" height="15.30" fill="rgb(0,140,0)"/>
<rect x="723.29" y="1151.20" width="18.62" height="15.30" fill="rgb(0,76,0)"/>
<rect x="741.31" y="1151.20" width="18.62" height="15.30" fill="rgb(128,0,0)"/>
<rect x="759.34" y="1151.20" width="18.62" height="15.30" fill="rgb(26,0,0)"/>
<rect x="777.36" y="1151.20" width="18.62" height="15.30" fill="rgb(102,0,0)"/>
<rect x="795.38" y="1151.20" width="18.62" height="15.30" fill="rgb(0,255,0)"/>
<rect x="813.40" y="1151.20" width="18.62" height="15.30" fill="rgb(0,204,0)"/>
<rect x="831.42" y="1151.20" width="18.62" height="15.30" fill="rgb(0,255,0)"/>
<rect x="849.44" y="1151.20" width="18.62" height="15.30" fill="rgb(0,230,0)"/>
<rect x="867.46" y="1151.20" width="18.62" height="15.30" fill="rgb(0,255,0)"/>
<rect x="885.49" y="1151.20" width="18.62" height="15.30" fill="rgb(0,230,0)"/>
<rect x="903.51" y="1151.20" width="18.62" height="15.30" fill="rgb(0,26,0)"/>
<rect x="921.53" y="1151.20" width="18.62" height="15.30" fill="rgb(0,51,0)"/>
<rect x="939.55" y="1151.20" width="18.62" height="15.30" fill="rgb(0,76,0)"/>
<rect x="957.57" y="1151.20" width="18.62" height="15.30" fill="rgb(242,0,0)"/>
<rect x="975.59" y="1151.20" width="18.62" height="15.30" fill="rgb(217,0,0)"/>
<rect x="993.61" y="1151.20" width="18.62" height="15.30" fill="rgb(255,0,0)"/>
<rect x="1011.64" y="1151.20" width="18.62" height="15.30" fill="rgb(0,26,0)"/>
<rect x="1029.66" y="1151.20" width="18.62" height="15.30" fill="rgb(0,76,0)"/>
<rect x="1047.68" y="1151.20" width="18.02" height="15.30" fill="rgb(0,76,0)"/>
<rect x="687.25" y="1165.90" width="18.62" height="15.30" fill="rgb(0,102,0)"/>
<rect x="705.27" y="1165.90" width="18.62" height="15.30" fill="rgb(0,140,0)"/>
<rect x="723.29" y="1165.90" width="18.62" height="15.30" fill="rgb(0,76,0)"/>
<rect x="741.31" y="1165.90" width="18.62" height="15.30" fill="rgb(128,0,0)"/>
<rect x="759.34" y="1165.90" width="18.62" height="15.30" fill="rgb(26,0,0)"/>
<rect x="777.36" y="1165.90" width="18.62" height="15.30" fill="rgb(102,0,0)"/>
<rect x="795.38" y="1165.90" width="18.62" height="15.30" fill="rgb(0,255,0)"/>
<rect x="813.40" y="1165.90" width="18.62" height="15.30" fill="rgb(0,204,0)"/>
<rect x="831.42" y="1165.90" width="18.62" height="15.30" fill="rgb(0,255,0)"/>
<rect x="849.44" y="1165.90" width="18.62" height="15.30" fill="rgb(0,230,0)"/>
<rect x="867.46" y="1165.90" width="18.62" height="15.30" fill="rgb(0,255,0)"/>
<rect x="885.49" y="1165.90" width="18.62" height="15.30" fill="rgb(0,230,0)"/>
<rect x="903.51" y="1165.90" width="18.62" height="15.30" fill="rgb(0,26,0)"/>
<rect x="921.53" y="1165.90" width="18.62" height="15.30" fill="rgb(0,51,0)"/>
<rect x="939.55" y="1165.90" width="18.62" height="15.30" fill="rgb(0,76,0)"/>
<rect x="957.57" y="1165.90" width="18.62" height="15.30" fill="rgb(242,0,0)"/>
<rect x="975.59" y="1165.90" width="18.62" height="15.30" fill="rgb(217,0,0)"/>
<rect x="993.61" y="1165.90" width="18.62" height="15.30" fill="rgb(255,0,0)"/>
<rect x="1011.64" y="1165.90" width="18.62" height="15.30" fill="rgb(0,26,0)"/>
<rect x="1029.66" y="1165.90" width="18.62" height="15.30" fill="rgb(0,76,0)"/>
<rect x="1047.68" y="1165.90" width="18.02" height="15.30" fill="rgb(0,76,0)"/>
<rect x="687.25" y="1180.60" width="18.62" height="15.30" fill="rgb(0,102,0)"/>
<rect x="705.27" y="1180.60" width="18.62" height="15.30" fill="rgb(0,140,0)"/>
<rect x="723.29" y="1180.60" width="18.62" height="15.30" fill="rgb(0,76,0)"/>
<rect x="741.31" y="1180.60" width="18.62" height="15.30" fill="rgb(128,0,0)"/>
<rect x="759.34" y="1180.60" width="18.62" height="15.30" fill="rgb(26,0,0)"/>
<rect x="777.36" y="1180.60" width="18.62" height="15.30" fill="rgb(102,0,0)"/>
<rect x="795.38" y="1180.60" width="18.62" height="15.30" fill="rgb(0,255,0)"/>
<rect x="813.40" y="1180.60" width="18.62" height="15.30" fill="rgb(0,204,0)"/>
<rect x="831.42" y="1180.60" width="18.62" height="15.30" fill="rgb(0,255,0)"/>
<rect x="849.44" y="1180.60" width="18.62" height="15.30" fill="rgb(0,230,0)"/>
<rect x="867.46" y="1180.60" width="18.62" height="15.30" fill="rgb(0,255,0)"/>
<rect x="885.49" y="1180.60" width="18.62" height="15.30" fill="rgb(0,230,0)"/>
<rect x="903.51" y="1180.60" width="18.62" height="15.30" fill="rgb(0,26,0)"/>
<rect x="921.53" y="1180.60" width="18.62" height="15.30" fill="rgb(0,51,0)"/>
<rect x="939.55" y="1180.60" width="18.62" height="15.30" fill="rgb(0,76,0)"/>
<rect x="957.57" y="1180.60" width="18.62" height="15.30" fill="rgb(242,0,0)"/>
<rect x="975.59" y="1180.60" width="18.62" height="15.30" fill="rgb(217,0,0)"/>
<rect x="993.61" y="1180.60" width="18.62" height="15.30" fill="rgb(255,0,0)"/>
<rect x="1011.64" y="1180.60" width="18.62" height="15.30" fill="rgb(0,26,0)"/>
<rect x="1029.66" y="1180.60" width="18.62" height="15.30" fill="rgb(0,76,0)"/>
<rect x="1047.68" y="1180.60" width="18.02" height="15.30" fill="rgb(0,76,0)"/>
<rect x="687.25" y="1195.30" width="18.62" height="15.30" fill="rgb(0,102,0)"/>
<rect x="705.27" y="1195.30" width="18.62" height="15.30" fill="rgb(0,140,0)"/>
<rect x="723.29" y="1195.30" width="18.62" height="15.30" fill="rgb(0,76,0)"/>
<rect x="741.31" y="1195.30" width="18.62" height="15.30" fill="rgb(128,0,0)"/>
<rect x="759.34" y="1195.30" width="18.62" height="15.30" fill="rgb(26,0,0)"/>
<rect x="777.36" y="1195.30" width="18.62" height="15.30" fill="rgb(102,0,0)"/>
<rect x="795.38" y="1195.30" width="18.62" height="15.30" fill="rgb(0,255,0)"/>
<rect x="813.40" y="1195.30" width="18.62" height="15.30" fill="rgb(0,204,0)"/>
<rect x="831.42" y="1195.30" width="18.62" height="15.30" fill="rgb(0,255,0)"/>
<rect x="849.44" y="1195.30" width="18.62" height="15.30" fill="rgb(0,230,0)"/>
<rect x="867.46" y="1195.30" width="18.62" height="15.30" fill="rgb(0,255,0)"/>
<rect x="885.49" y="1195.30" width="18.62" height="15.30" fill="rgb(0,230,0)"/>
<rect x="903.51" y="1195.30" width="18.62" height="15.30" fill="rgb(0,26,0)"/>
<rect x="921.53" y="1195.30" width="18.62" height="15.30" fill="rgb(0,51,0)"/>
<rect x="939.55" y="1195.30" width="18.62" height="15.30" fill="rgb(0,76,0)"/>
<rect x="957.57" y="1195.30" width="18.62" height="15.30" fill="rgb(242,0,0)"/>
<rect x="975.59" y="1195.30" width="18.62" height="15.30" fill="rgb(217,0,0)"/>
<rect x="993.61" y="1195.30" width="18.62" height="15.30" fill="rgb(255,0,0)"/>
<rect x="1011.64" y="1195.30" width="18.62" height="15.30" fill="rgb(0,26,0)"/>
<rect x="1029.66" y="1195.30" width="18.62" height="15.30" fill="rgb(0,76,0)"/>
<rect x="1047.68" y="1195.30" width="18.02" height="15.30" fill="rgb(0,76,0)"/>
<rect x="687.25" y="1210.00" width="18.62" height="15.30" fill="rgb(0,102,0)"/>
<rect x="705.27" y="1210.00" width="18.62" height="15.30" fill="rgb(0,140,0)"/>
<rect x="723.29" y="1210.00" width="18.62" height="15.30" fill="rgb(0,76,0)"/>
<rect x="741.31" y="1210.00" width="18.62" height="15.30" fill="rgb(128,0,0)"/>
<rect x="759.34" y="1210.00" width="18.62" height="15.30" fill="rgb(26,0,0)"/>
<rect x="777.36" y="1210.00" width="18.62" height="15.30" fill="rgb(102,0,0)"/>
<rect x="795.38" y="1210.00" width="18.62" height="15.30" fill="rgb(0,255,0)"/>
<rect x="813.40" y="1210.00" width="18.62" height="15.30" fill="rgb(0,204,0)"/>
<rect x="831.42" y="1210.00" width="18.62" height="15.30" fill="rgb(0,255,0)"/>
<rect x="849.44" y="1210.00" width="18.62" height="15.30" fill="rgb(0,230,0)"/>
<rect x="867.46" y="1210.00" width="18.62" height="15.30" fill="rgb(0,255,0)"/>
<rect x="885.49" y="1210.00" width="18.62" height="15.30" fill="rgb(0,230,0)"/>
<rect x="903.51" y="1210.00" width="18.62" height="15.30" fill="rgb(0,26,0)"/>
<rect x="921.53" y="1210.00" width="18.62" height="15.30" fill="rgb(0,51,0)"/>
<rect x="939.55" y="1210.00" width="18.62" height="15.30" fill="rgb(0,76,0)"/>
<rect x="957.57" y="1210.00" width="18.62" height="15.30" fill="rgb(242,0,0)"/>
<rect x="975.59" y="1210.00" width="18.62" height="15.30" fill="rgb(217,0,0)"/>
<rect x="993.61" y="1210.00" width="18.62" height="15.30" fill="rgb(255,0,0)"/>
<rect x="1011.64" y="1210.00" width="18.62" height="15.30" fill="rgb(0,26,0)"/>
<rect x="1029.66" y="1210.00" width="18.62" height="15.30" fill="rgb(0,76,0)"/>
<rect x="1047.68" y="1210.00" width="18.02" height="15.30" fill="rgb(0,76,0)"/>
<rect x="687.25" y="1224.70" width="18.62" height="15.30" fill="rgb(0,102,0)"/>
<rect x="705.27" y="1224.70" width="18.62" height="15.30" fill="rgb(0,140,0)"/>
<rect x="723.29" y="1224.70" width="18.62" height="15.30" fill="rgb(0,76,0)"/>
<rect x="741.31" y="1224.70" width="18.62" height="15.30" fill="rgb(128,0,0)"/>
<rect x="759.34" y="1224.70" width="18.62" height="15.30" fill="rgb(26,0,0)"/>
<rect x="777.36" y="1224.70" width="18.62" height="15.30" fill="rgb(102,0,0)"/>
<rect x="795.38" y="1224.70" width="18.62" height="15.30" fill="rgb(0,255,0)"/>
<rect x="813.40" y="1224.70" width="18.62" height="15.30" fill="rgb(0,204,0)"/>
<rect x="831.42" y="1224.70" width="18.62" height="15.30" fill="rgb(0,255,0)"/>
<rect x="849.44" y="1224.70" width="18.62" height="15.30" fill="rgb(0,230,0)"/>
<rect x="867.46" y="1224.70" width="18.62" height="15.30" fill="rgb(0,255,0)"/>
<rect x="885.49" y="1224.70" width="18.62" height="15.30" fill="rgb(0,230,0)"/>
<rect x="903.51" y="1224.70" width="18.62" height="15.30" fill="rgb(0,26,0)"/>
<rect x="921.53" y="1224.70" width="18.62" height="15.30" fill="rgb(0,51,0)"/>
<rect x="939.55" y="1224.70" width="18.62" height="15.30" fill="rgb(0,76,0)"/>
<rect x="957.57" y="1224.70" width="18.62" height="15.30" fill="rgb(242,0,0)"/>
<rect x="975.59" y="1224.70" width="18.62" height="15.30" fill="rgb(217,0,0)"/>
<rect x="993.61" y="1224.70" width="18.62" height="15.30" fill="rgb(255,0,0)"/>
<rect x="1011.64" y="1224.70" width="18.62" height="15.30" fill="rgb(0,26,0)"/>
<rect x="1029.66" y="1224.70" width="18.62" height="15.30" fill="rgb(0,76,0)"/>
<rect x="1047.68" y="1224.70" width="18.02" height="15.30" fill="rgb(0,76,0)"/>
<rect x="687.25" y="1239.40" width="18.62" height="15.30" fill="rgb(0,102,0)"/>
<rect x="705.27" y="1239.40" width="18.62" height="15.30" fill="rgb(0,140,0)"/>
<rect x="723.29" y="1239.40" width="18.62" height="15.30" fill="rgb(0,76,0)"/>
<rect x="741.31" y="1239.40" width="18.62" height="15.30" fill="rgb(128,0,0)"/>
<rect x="759.34" y="1239.40" width="18.62" height="15.30" fill="rgb(26,0,0)"/>
<rect x="777.36" y="1239.40" width="18.62" height="15.30" fill="rgb(102,0,0)"/>
<rect x="795.38" y="1239.40" width="18.62" height="15.30" fill="rgb(0,255,0)"/>
<rect x="813.40" y="1239.40" width="18.62" height="15.30" fill="rgb(0,204,0)"/>
<rect x="831.42" y="1239.40" width="18.62" height="15.30" fill="rgb(0,255,0)"/>
<rect x="849.44" y="1239.40" width="18.62" height="15.30" fill="rgb(0,230,0)"/>
<rect x="867.46" y="1239.40" width="18.62" height="15.30" fill="rgb(0,255,0)"/>
<rect x="885.49" y="1239.40" width="18.62" height="15.30" fill="rgb(0,230,0)"/>
<rect x="903.51" y="1239.40" width="18.62" height="15.30" fill="rgb(0,26,0)"/>
<rect x="921.53" y="1239.40" width="18.62" height="15.30" fill="rgb(0,51,0)"/>
<rect x="939.55" y="1239.40" width="18.62" height="15.30" fill="rgb(0,76,0)"/>
<rect x="957.57" y="1239.40" width="18.62" height="15.30" fill="rgb(242,0,0)"/>
<rect x="975.59" y="1239.40" width="18.62" height="15.30" fill="rgb(217,0,0)"/>
<rect x="993.61" y="1239.40" width="18.62" height="15.30" fill="rgb(255,0,0)"/>
<rect x="1011.64" y="1239.40" width="18.62" height="15.30" fill="rgb(0,26,0)"/>
<rect x="1029.66" y="1239.40" width="18.62" height="15.30" fill="rgb(0,76,0)"/>
<rect x="1047.68" y="1239.40" width="18.02" height="15.30" fill="rgb(0,76,0)"/>
<rect x="687.25" y="1254.10" width="18.62" height="15.30" fill="rgb(0,102,0)"/>
<rect x="705.27" y="1254.10" width="18.62" height="15.30" fill="rgb(0,140,0)"/>
<rect x="723.29" y="1254.10" width="18.62" height="15.30" fill="rgb(0,76,0)"/>
<rect x="741.31" y="1254.10" width="18.62" height="15.30" fill="rgb(128,0,0)"/>
<rect x="759.34" y="1254.10" width="18.62" height="15.30" fill="rgb(26,0,0)"/>
<rect x="777.36" y="1254.10" width="18.62" height="15.30" fill="rgb(102,0,0)"/>
<rect x="795.38" y="1254.10" width="18.62" height="15.30" fill="rgb(0,255,0)"/>
<rect x="813.40" y="1254.10" width="18.62" height="15.30" fill="rgb(0,204,0)"/>
<rect x="831.42" y="1254.10" width="18.62" height="15.30" fill="rgb(0,255,0)"/>
<rect x="849.44" y="1254.10" width="18.62" height="15.30" fill="rgb(0,230,0)"/>
<rect x="867.46" y="1254.10" width="18.62" height="15.30" fill="rgb(0,255,0)"/>
<rect x="885.49" y="1254.10" width="18.62" height="15.30" fill="rgb(0,230,0)"/>
<rect x="903.51" y="1254.10" width="18.62" height="15.30" fill="rgb(0,26,0)"/>
<rect x="921.53" y="1254.10" width="18.62" height="15.30" fill="rgb(0,51,0)"/>
<rect x="939.55" y="1254.10" width="18.62" height="15.30" fill="rgb(0,76,0)"/>
<rect x="957.57" y="1254.10" width="18.62" height="15.30" fill="rgb(242,0,0)"/>
<rect x="975.59" y="1254.10" width="18.62" height="15.30" fill="rgb(217,0,0)"/>
<rect x="993.61" y="1254.10" width="18.62" height="15.30" fill="rgb(255,0,0)"/>
<rect x="1011.64" y="1254.10" width="18.62" height="15.30" fill="rgb(0,26,0)"/>
<rect x="1029.66" y="1254.10" width="18.62" height="15.30" fill="rgb(0,76,0)"/>
<rect x="1047.68" y="1254.10" width="18.02" height="15.30" fill="rgb(0,76,0)"/>
<rect x="687.25" y="1268.80" width="18.62" height="15.30" fill="rgb(0,102,0)"/>
<rect x="705.27" y="1268.80" width="18.62" height="15.30" fill="rgb(0,140,0)"/>
<rect x="723.29" y="1268.80" width="18.62" height="15.30" fill="rgb(0,76,0)"/>
<rect x="741.31" y="1268.80" width="18.62" height="15.30" fill="rgb(128,0,0)"/>
<rect x="759.34" y="1268.80" width="18.62" height="15.30" fill="rgb(26,0,0)"/>
<rect x="777.36" y="1268.80" width="18.62" height="15.30" fill="rgb(102,0,0)"/>
<rect x="795.38" y="1268.80" width="18.62" height="15.30" fill="rgb(0,255,0)"/>
<rect x="813.40" y="1268.80" width="18.62" height="15.30" fill="rgb(0,204,0)"/>
<rect x="831.42" y="1268.80" width="18.62" height="15.30" fill="rgb(0,255,0)"/>
<rect x="849.44" y="1268.80" width="18.62" height="15.30" fill="rgb(0,230,0)"/>
<rect x="867.46" y="1268.80" width="18.62" height="15.30" fill="rgb(0,255,0)"/>
<rect x="885.49" y="1268.80" width="18.62" height="15.30" fill="rgb(0,230,0)"/>
<rect x="903.51" y="1268.80" width="18.62" height="15.30" fill="rgb(0,26,0)"/>
<rect x="921.53" y="1268.80" width="18.62" height="15.30" fill="rgb(0,51,0)"/>
<rect x="939.55" y="1268.80" width="18.62" height="15.30" fill="rgb(0,76,0)"/>
<rect x="957.57" y="1268.80" width="18.62" height="15.30" fill="rgb(242,0,0)"/>
<rect x="975.59" y="1268.80" width="18.62" height="15.30" fill="rgb(217,0,0)"/>
<rect x="993.61" y="1268.80" width="18.62" height="15.30" fill="rgb(255,0,0)"/>
<rect x="1011.64" y="1268.80" width="18.62" height="15.30" fill="rgb(0,26,0)"/>
<rect x="1029.66" y="1268.80" width="18.62" height="15.30" fill="rgb(0,76,0)"/>
<rect x="1047.68" y="1268.80" width="18.02" height="15.30" fill="rgb(0,76,0)"/>
<rect x="687.25" y="1283.50" width="18.62" height="15.30" fill="rgb(0,102,0)"/>
<rect x="705.27" y="1283.50" width="18.62" height="15.30" fill="rgb(0,140,0)"/>
<rect x="723.29" y="1283.50" width="18.62" height="15.30" fill="rgb(0,76,0)"/>
<rect x="741.31" y="1283.50" width="18.62" height="15.30" fill="rgb(128,0,0)"/>
<rect x="759.34" y="1283.50" width="18.62" height="15.30" fill="rgb(26,0,0)"/>
<rect x="777.36" y="1283.50" width="18.62" height="15.30" fill="rgb(102,0,0)"/>
<rect x="795.38" y="1283.50" width="18.62" height="15.30" fill="rgb(0,255,0)"/>
<rect x="813.40" y="1283.50" width="18.62" height="15.30" fill="rgb(0,204,0)"/>
<rect x="831.42" y="1283.50" width="18.62" height="15.30" fill="rgb(0,255,0)"/>
<rect x="849.44" y="1283.50" width="18.62" height="15.30" fill="rgb(0,230,0)"/>
<rect x="867.46" y="1283.50" width="18.62" height="15.30" fill="rgb(0,255,0)"/>
<rect x="885.49" y="1283.50" width="18.62" height="15.30" fill="rgb(0,230,0)"/>
<rect x="903.51" y="1283.50" width="18.62" height="15.30" fill="rgb(0,26,0)"/>
<rect x="921.53" y="1283.50" width="18.62" height="15.30" fill="rgb(0,51,0)"/>
<rect x="939.55" y="1283.50" width="18.62" height="15.30" fill="rgb(0,76,0)"/>
<rect x="957.57" y="1283.50" width="18.62" height="15.30" fill="rgb(242,0,0)"/>
<rect x="975.59" y="1283.50" width="18.62" height="15.30" fill="rgb(217,0,0)"/>
<rect x="993.61" y="1283.50" width="18.62" height="15.30" fill="rgb(255,0,0)"/>
<rect x="1011.64" y="1283.50" width="18.62" height="15.30" fill="rgb(0,26,0)"/>
<rect x="1029.66" y="1283.50" width="18.62" height="15.30" fill="rgb(0,76,0)"/>
<rect x="1047.68" y="1283.50" width="18.02" height="15.30" fill="rgb(0,76,0)"/>
<rect x="687.25" y="1298.20" width="18.62" height="15.30" fill="rgb(0,102,0)"/>
<rect x="705.27" y="1298.20" width="18.62" height="15.30" fill="rgb(0,140,0)"/>
<rect x="723.29" y="1298.20" width="18.62" height="15.30" fill="rgb(0,76,0)"/>
<rect x="741.31" y="1298.20" width="18.62" height="15.30" fill="rgb(128,0,0)"/>
<rect x="759.34" y="1298.20" width="18.62" height="15.30" fill="rgb(26,0,0)"/>
<rect x="777.36" y="1298.20" width="18.62" height="15.30" fill="rgb(102,0,0)"/>
<rect x="795.38" y="1298.20" width="18.62" height="15.30" fill="rgb(0,255,0)"/>
<rect x="813.40" y="1298.20" width="18.62" height="15.30" fill="rgb(0,204,0)"/>
<rect x="831.42" y="1298.20" width="18.62" height="15.30" fill="rgb(0,255,0)"/>
<rect x="849.44" y="1298.20" width="18.62" height="15.30" fill="rgb(0,230,0)"/>
<rect x="867.46" y="1298.20" width="18.62" height="15.30" fill="rgb(0,255,0)"/>
<rect x="885.49" y="1298.20" width="18.62" height="15.30" fill="rgb(0,230,0)"/>
<rect x="903.51" y="1298.20" width="18.62" height="15.30" fill="rgb(0,26,0)"/>
<rect x="921.53" y="1298.20" width="18.62" height="15.30" fill="rgb(0,51,0)"/>
<rect x="939.55" y="1298.20" width="18.62" height="15.30" fill="rgb(0,76,0)"/>
<rect x="957.57" y="1298.20" width="18.62" height="15.30" fill="rgb(242,0,0)"/>
<rect x="975.59" y="1298.20" width="18.62" height="15.30" fill="rgb(217,0,0)"/>
<rect x="993.61" y="1298.20" width="18.62" height="15.30" fill="rgb(255,0,0)"/>
<rect x="1011.64" y="1298.20" width="18.62" height="15.30" fill="rgb(0,26,0)"/>
<rect x="1029.66" y="1298.20" width="18.62" height="15.30" fill="rgb(0,76,0)"/>
<rect x="1047.68" y="1298.20" width="18.02" height="15.30" fill="rgb(0,76,0)"/>
<rect x="687.25" y="1312.90" width="18.62" height="15.30" fill="rgb(0,102,0)"/>
<rect x="705.27" y="1312.90" width="18.62" height="15.30" fill="rgb(0,140,0)"/>
<rect x="723.29" y="1312.90" width="18.62" height="15.30" fill="rgb(0,76,0)"/>
<rect x="741.31" y="1312.90" width="18.62" height="15.30" fill="rgb(128,0,0)"/>
<rect x="759.34" y="1312.90" width="18.62" height="15.30" fill="rgb(26,0,0)"/>
<rect x="777.36" y="1312.90" width="18.62" height="15.30" fill="rgb(102,0,0)"/>
<rect x="795.38" y="1312.90" width="18.62" height="15.30" fill="rgb(0,255,0)"/>
<rect x="813.40" y="1312.90" width="18.62" height="15.30" fill="rgb(0,204,0)"/>
<rect x="831.42" y="1312.90" width="18.62" height="15.30" fill="rgb(0,255,0)"/>
<rect x="849.44" y="1312.90" width="18.62" height="15.30" fill="rgb(0,230,0)"/>
<rect x="867.46" y="1312.90" width="18.62" height="15.30" fill="rgb(0,255,0)"/>
<rect x="885.49" y="1312.90" width="18.62" height="15.30" fill="rgb(0,230,0)"/>
<rect x="903.51" y="1312.90" width="18.62" height="15.30" fill="rgb(0,26,0)"/>
<rect x="921.53" y="1312.90" width="18.62" height="15.30" fill="rgb(0,51,0)"/>
<rect x="939.55" y="1312.90" width="18.62" height="15.30" fill="rgb(0,76,0)"/>
<rect x="957.57" y="1312.90" width="18.62" height="15.30" fill="rgb(242,0,0)"/>
<rect x="975.59" y="1312.90" width="18.62" height="15.30" fill="rgb(217,0,0)"/>
<rect x="993.61" y="1312.90" width="18.62" height="15.30" fill="rgb(255,0,0)"/>
<rect x="1011.64" y="1312.90" width="18.62" height="15.30" fill="rgb(0,26,0)"/>
<rect x="1029.66" y="1312.90" width="18.62" height="15.30" fill="rgb(0,76,0)"/>
<rect x="1047.68" y="1312.90" width="18.02" height="15.30" fill="rgb(0,76,0)"/>
<rect x="687.25" y="1327.60" width="18.62" height="15.30" fill="rgb(0,102,0)"/>
<rect x="705.27" y="1327.60" width="18.62" height="15.30" fill="rgb(0,140,0)"/>
<rect x="723.29" y="1327.60" width="18.62" height="15.30" fill="rgb(0,76,0)"/>
<rect x="741.31" y="1327.60" width="18.62" height="15.30" fill="rgb(128,0,0)"/>
<rect x="759.34" y="1327.60" width="18.62" height="15.30" fill="rgb(26,0,0)"/>
<rect x="777.36" y="1327.60" width="18.62" height="15.30" fill="rgb(102,0,0)"/>
<rect x="795.38" y="1327.60" width="18.62" height="15.30" fill="rgb(0,255,0)"/>
<rect x="813.40" y="1327.60" width="18.62" height="15.30" fill="rgb(0,204,0)"/>
<rect x="831.42" y="1327.60" width="18.62" height="15.30" fill="rgb(0,255,0)"/>
<rect x="849.44" y="1327.60" width="18.62" height="15.30" fill="rgb(0,230,0)"/>
<rect x="867.46" y="1327.60" width="18.62" height="15.30" fill="rgb(0,255,0)"/>
<rect x="885.49" y="1327.60" width="18.62" height="15.30" fill="rgb(0,230,0)"/>
<rect x="903.51" y="1327.60" width="18.62" height="15.30" fill="rgb(0,26,0)"/>
<rect x="921.53" y="1327.60" width="18.62" height="15.30" fill="rgb(0,51,0)"/>
<rect x="939.55" y="1327.60" width="18.62" height="15.30" fill="rgb(0,76,0)"/>
<rect x="957.57" y="1327.60" width="18.62" height="15.30" fill="rgb(242,0,0)"/>
<rect x="975.59" y="1327.60" width="18.62" height="15.30" fill="rgb(217,0,0)"/>
<rect x="993.61" y="1327.60" width="18.62" height="15.30" fill="rgb(255,0,0)"/>
<rect x="1011.64" y="1327.60" width="18.62" height="15.30" fill="rgb(0,26,0)"/>
<rect x="1029.66" y="1327.60" width="18.62" height="15.30" fill="rgb(0,76,0)"/>
<rect x="1047.68" y="1327.60" width="18.02" height="15.30" fill="rgb(0,76,0)"/>
<rect x="687.25" y="1342.30" width="18.62" height="15.30" fill="rgb(0,255,0)"/>
<rect x="705.27" y="1342.30" width="18.62" height="15.30" fill="rgb(0,76,0)"/>
<rect x="723.29" y="1342.30" width="18.62" height="15.30" fill="rgb(0,128,0)"/>
<rect x="741.31" y="1342.30" width="18.62" height="15.30" fill="rgb(102,0,0)"/>
<rect x="759.34" y="1342.30" width="18.62" height="15.30" fill="rgb(102,0,0)"/>
<rect x="777.36" y="1342.30" width="18.62" height="15.30" fill="rgb(26,0,0)"/>
<rect x="795.38" y="1342.30" width="18.62" height="15.30" fill="rgb(102,0,0)"/>
<rect x="813.40" y="1342.30" width="18.62" height="15.30" fill="rgb(102,0,0)"/>
<rect x="831.42" y="1342.30" width="18.62" height="15.30" fill="rgb(0,26,0)"/>
<rect x="849.44" y="1342.30" width="18.62" height="15.30" fill="rgb(0,0,0)"/>
<rect x="867.46" y="1342.30" width="18.62" height="15.30" fill="rgb(0,51,0)"/>
<rect x="885.49" y="1342.30" width="18.62" height="15.30" fill="rgb(0,51,0)"/>
<rect x="903.51" y="1342.30" width="18.62" height="15.30" fill="rgb(0,26,0)"/>
<rect x="921.53" y="1342.30" width="18.62" height="15.30" fill="rgb(0,51,0)"/>
<rect x="939.55" y="1342.30" width="18.62" height="15.30" fill="rgb(0,26,0)"/>
<rect x="957.57" y="1342.30" width="18.62" height="15.30" fill="rgb(255,0,0)"/>
<rect x="975.59" y="1342.30" width="18.62" height="15.30" fill="rgb(204,0,0)"/>
<rect x="993.61" y="1342.30" width="18.62" height="15.30" fill="rgb(128,0,0)"/>
<rect x="1011.64" y="1342.30" width="18.62" height="15.30" fill="rgb(26,0,0)"/>
<rect x="1029.66" y="1342.30" width="18.62" height="15.30" fill="rgb(0,51,0)"/>
<rect x="1047.68" y="1342.30" width="18.02" height="15.30" fill="rgb(51,0,0)"/>
<rect x="687.25" y="1357.00" width="18.62" height="15.30" fill="rgb(0,0,0)"/>
<rect x="705.27" y="1357.00" width="18.62" height="15.30" fill="rgb(0,76,0)"/>
<rect x="723.29" y="1357.00" width="18.62" height="15.30" fill="rgb(0,0,0)"/>
<rect x="741.31" y="1357.00" width="18.62" height="15.30" fill="rgb(0,230,0)"/>
<rect x="759.34" y="1357.00" width="18.62" height="15.30" fill="rgb(0,153,0)"/>
<rect x="777.36" y="1357.00" width="18.62" height="15.30" fill="rgb(0,230,0)"/>
<rect x="795.38" y="1357.00" width="18.62" height="15.30" fill="rgb(178,0,0)"/>
<rect x="813.40" y="1357.00" width="18.62" height="15.30" fill="rgb(76,0,0)"/>
<rect x="831.42" y="1357.00" width="18.62" height="15.30" fill="rgb(128,0,0)"/>
<rect x="849.44" y="1357.00" width="18.62" height="15.30" fill="rgb(0,255,0)"/>
<rect x="867.46" y="1357.00" width="18.62" height="15.30" fill="rgb(0,204,0)"/>
<rect x="885.49" y="1357.00" width="18.62" height="15.30" fill="rgb(0,153,0)"/>
<rect x="903.51" y="1357.00" width="18.62" height="15.30" fill="rgb(0,76,0)"/>
<rect x="921.53" y="1357.00" width="18.62" height="15.30" fill="rgb(0,128,0)"/>
<rect x="939.55" y="1357.00" width="18.62" height="15.30" fill="rgb(0,153,0)"/>
<rect x="957.57" y="1357.00" width="18.62" height="15.30" fill="rgb(255,0,0)"/>
<rect x="975.59" y="1357.00" width="18.62" height="15.30" fill="rgb(204,0,0)"/>
<rect x="993.61" y="1357.00" width="18.62" height="15.30" fill="rgb(178,0,0)"/>
<rect x="1011.64" y="1357.00" width="18.62" height="15.30" fill="rgb(0,204,0)"/>
<rect x="1029.66" y="1357.00" width="18.62" height="15.30" fill="rgb(0,153,0)"/>
<rect x="1047.68" y="1357.00" width="18.02" height="15.30" fill="rgb(0,230,0)"/>
<rect x="687.25" y="1371.70" width="18.62" height="15.30" fill="rgb(0,76,0)"/>
<rect x="705.27" y="1371.70" width="18.62" height="15.30" fill="rgb(0,76,0)"/>
<rect x="723.29" y="1371.70" width="18.62" height="15.30" fill="rgb(0,51,0)"/>
<rect x="741.31" y="1371.70" width="18.62" height="15.30" fill="rgb(0,204,0)"/>
<rect x="759.34" y="1371.70" width="18.62" height="15.30" fill="rgb(0,204,0)"/>
<rect x="777.36" y="1371.70" width="18.62" height="15.30" fill="rgb(0,178,0)"/>
<rect x="795.38" y="1371.70" width="18.62" height="15.30" fill="rgb(0,0,0)"/>
<rect x="813.40" y="1371.70" width="18.62" height="15.30" fill="rgb(51,0,0)"/>
<rect x="831.42" y="1371.70" width="18.62" height="15.30" fill="rgb(26,0,0)"/>
<rect x="849.44" y="1371.70" width="18.62" height="15.30" fill="rgb(0,204,0)"/>
<rect x="867.46" y="1371.70" width="18.62" height="15.30" fill="rgb(0,230,0)"/>
<rect x="885.49" y="1371.70" width="18.62" height="15.30" fill="rgb(0,204,0)"/>
<rect x="903.51" y="1371.70" width="18.62" height="15.30" fill="rgb(0,255,0)"/>
<rect x="921.53" y="1371.70" width="18.62" height="15.30" fill="rgb(0,255,0)"/>
<rect x="939.55" y="1371.70" width="18.62" height="15.30" fill="rgb(0,230,0)"/>
<rect x="957.57" y="1371.70" width="18.62" height="15.30" fill="rgb(230,0,0)"/>
<rect x="975.59" y="1371.70" width="18.62" height="15.30" fill="rgb(204,0,0)"/>
<rect x="993.61" y="1371.70" width="18.62" height="15.30" fill="rgb(255,0,0)"/>
<rect x="1011.64" y="1371.70" width="18.62" height="15.30" fill="rgb(0,76,0)"/>
<rect x="1029.66" y="1371.70" width="18.62" height="15.30" fill="rgb(0,102,0)"/>
<rect x="1047.68" y="1371.70" width="18.02" height="15.30" fill="rgb(0,153,0)"/>
<rect x="687.25" y="1386.40" width="18.62" height="15.30" fill="rgb(0,102,0)"/>
<rect x="705.27" y="1386.40" width="18.62" height="15.30" fill="rgb(0,51,0)"/>
<rect x="723.29" y="1386.40" width="18.62" height="15.30" fill="rgb(0,51,0)"/>
<rect x="741.31" y="1386.40" width="18.62" height="15.30" fill="rgb(0,255,0)"/>
<rect x="759.34" y="1386.40" width="18.62" height="15.30" fill="rgb(0,255,0)"/>
<rect x="777.36" y="1386.40" width="18.62" height="15.30" fill="rgb(0,230,0)"/>
<rect x="795.38" y="1386.40" width="18.62" height="15.30" fill="rgb(26,0,0)"/>
<rect x="813.40" y="1386.40" width="18.62" height="15.30" fill="rgb(0,0,0)"/>
<rect x="831.42" y="1386.40" width="18.62" height="15.30" fill="rgb(0,0,0)"/>
<rect x="849.44" y="1386.40" width="18.62" height="15.30" fill="rgb(0,230,0)"/>
<rect x="867.46" y="1386.40" width="18.62" height="15.30" fill="rgb(0,230,0)"/>
<rect x="885.49" y="1386.40" width="18.62" height="15.30" fill="rgb(0,204,0)"/>
<rect x="903.51" y="1386.40" width="18.62" height="15.30" fill="rgb(0,128,0)"/>
<rect x="921.53" y="1386.40" width="18.62" height="15.30" fill="rgb(0,178,0)"/>
<rect x="939.55" y="1386.40" width="18.62" height="15.30" fill="rgb(0,128,0)"/>
<rect x="957.57" y="1386.40" width="18.62" height="15.30" fill="rgb(230,0,0)"/>
<rect x="975.59" y="1386.40" width="18.62" height="15.30" fill="rgb(178,0,0)"/>
<rect x="993.61" y="1386.40" width="18.62" height="15.30" fill="rgb(255,0,0)"/>
<rect x="1011.64" y="1386.40" width="18.62" height="15.30" fill="rgb(128,0,0)"/>
<rect x="1029.66" y="1386.40" width="18.62" height="15.30" fill="rgb(178,0,0)"/>
<rect x="1047.68" y="1386.40" width="18.02" height="15.30" fill="rgb(76,0,0)"/>
<rect x="687.25" y="1401.10" width="18.62" height="15.30" fill="rgb(0,255,0)"/>
<rect x="705.27" y="1401.10" width="18.62" height="15.30" fill="rgb(0,255,0)"/>
<rect x="723.29" y="1401.10" width="18.62" height="15.30" fill="rgb(0,255,0)"/>
<rect x="741.31" y="1401.10" width="18.62" height="15.30" fill="rgb(0,255,0)"/>
<rect x="759.34" y="1401.10" width="18.62" height="15.30" fill="rgb(0,255,0)"/>
<rect x="777.36" y="1401.10" width="18.62" height="15.30" fill="rgb(0,255,0)"/>
<rect x="795.38" y="1401.10" width="18.62" height="15.30" fill="rgb(0,102,0)"/>
<rect x="813.40" y="1401.10" width="18.62" height="15.30" fill="rgb(0,102,0)"/>
<rect x="831.42" y="1401.10" width="18.62" height="15.30" fill="rgb(0,102,0)"/>
<rect x="849.44" y="1401.10" width="18.62" height="15.30" fill="rgb(0,178,0)"/>
<rect x="867.46" y="1401.10" width="18.62" height="15.30" fill="rgb(0,178,0)"/>
<rect x="885.49" y="1401.10" width="18.62" height="15.30" fill="rgb(0,153,0)"/>
<rect x="903.51" y="1401.10" width="18.62" height="15.30" fill="rgb(0,255,0)"/>
<rect x="921.53" y="1401.10" width="18.62" height="15.30" fill="rgb(0,255,0)"/>
<rect x="939.55" y="1401.10" width="18.62" height="15.30" fill="rgb(0,255,0)"/>
<rect x="957.57" y="1401.10" width="18.62" height="15.30" fill="rgb(204,0,0)"/>
<rect x="975.59" y="1401.10" width="18.62" height="15.30" fill="rgb(230,0,0)"/>
<rect x="993.61" y="1401.10" width="18.62" height="15.30" fill="rgb(255,0,0)"/>
<rect x="1011.64" y="1401.10" width="18.62" height="15.30" fill="rgb(0,76,0)"/>
<rect x="1029.66" y="1401.10" width="18.62" height="15.30" fill="rgb(0,26,0)"/>
<rect x="1047.68" y="1401.10" width="18.02" height="15.30" fill="rgb(0,0,0)"/>
<rect x="687.25" y="1415.80" width="18.62" height="15.30" fill="rgb(0,230,0)"/>
<rect x="705.27" y="1415.80" width="18.62" height="15.30" fill="rgb(0,230,0)"/>
<rect x="723.29" y="1415.80" width="18.62" height="15.30" fill="rgb(0,204,0)"/>
<rect x="741.31" y="1415.80" width="18.62" height="15.30" fill="rgb(0,230,0)"/>
<rect x="759.34" y="1415.80" width="18.62" height="15.30" fill="rgb(0,255,0)"/>
<rect x="777.36" y="1415.80" width="18.62" height="15.30" fill="rgb(0,230,0)"/>
<rect x="795.38" y="1415.80" width="18.62" height="15.30" fill="rgb(0,26,0)"/>
<rect x="813.40" y="1415.80" width="18.62" height="15.30" fill="rgb(26,0,0)"/>
<rect x="831.42" y="1415.80" width="18.62" height="15.30" fill="rgb(0,26,0)"/>
<rect x="849.44" y="1415.80" width="18.62" height="15.30" fill="rgb(0,178,0)"/>
<rect x="867.46" y="1415.80" width="18.62" height="15.30" fill="rgb(0,153,0)"/>
<rect x="885.49" y="1415.80" width="18.62" height="15.30" fill="rgb(0,204,0)"/>
<rect x="903.51" y="1415.80" width="18.62" height="15.30" fill="rgb(0,255,0)"/>
<rect x="921.53" y="1415.80" width="18.62" height="15.30" fill="rgb(0,255,0)"/>
<rect x="939.55" y="1415.80" width="18.62" height="15.30" fill="rgb(0,255,0)"/>
<rect x="957.57" y="1415.80" width="18.62" height="15.30" fill="rgb(204,0,0)"/>
<rect x="975.59" y="1415.80" width="18.62" height="15.30" fill="rgb(230,0,0)"/>
<rect x="993.61" y="1415.80" width="18.62" height="15.30" fill="rgb(255,0,0)"/>
<rect x="1011.64" y="1415.80" width="18.62" height="15.30" fill="rgb(0,76,0)"/>
<rect x="1029.66" y="1415.80" width="18.62" height="15.30" fill="rgb(0,0,0)"/>
<rect x="1047.68" y="1415.80" width="18.02" height="15.30" fill="rgb(0,76,0)"/>
<rect x="687.25" y="1430.50" width="18.62" height="15.30" fill="rgb(0,255,0)"/>
<rect x="705.27" y="1430.50" width="18.62" height="15.30" fill="rgb(0,255,0)"/>
<rect x="723.29" y="1430.50" width="18.62" height="15.30" fill="rgb(0,255,0)"/>
<rect x="741.31" y="1430.50" width="18.62" height="15.30" fill="rgb(0,255,0)"/>
<rect x="759.34" y="1430.50" width="18.62" height="15.30" fill="rgb(0,255,0)"/>
<rect x="777.36" y="1430.50" width="18.62" height="15.30" fill="rgb(0,255,0)"/>
<rect x="795.38" y="1430.50" width="18.62" height="15.30" fill="rgb(0,204,0)"/>
<rect x="813.40" y="1430.50" width="18.62" height="15.30" fill="rgb(0,204,0)"/>
<rect x="831.42" y="1430.50" width="18.62" height="15.30" fill="rgb(0,204,0)"/>
<rect x="849.44" y="1430.50" width="18.62" height="15.30" fill="rgb(0,230,0)"/>
<rect x="867.46" y="1430.50" width="18.62" height="15.30" fill="rgb(0,230,0)"/>
<rect x="885.49" y="1430.50" width="18.62" height="15.30" fill="rgb(0,230,0)"/>
<rect x="903.51" y="1430.50" width="18.62" height="15.30" fill="rgb(0,153,0)"/>
<rect x="921.53" y="1430.50" width="18.62" height="15.30" fill="rgb(0,153,0)"/>
<rect x="939.55" y="1430.50" width="18.62" height="15.30" fill="rgb(0,153,0)"/>
<rect x="957.57" y="1430.50" width="18.62" height="15.30" fill="rgb(255,0,0)"/>
<rect x="975.59" y="1430.50" width="18.62" height="15.30" fill="rgb(230,0,0)"/>
<rect x="993.61" y="1430.50" width="18.62" height="15.30" fill="rgb(255,0,0)"/>
<rect x="1011.64" y="1430.50" width="18.62" height="15.30" fill="rgb(0,76,0)"/>
<rect x="1029.66" y="1430.50" width="18.62" height="15.30" fill="rgb(0,0,0)"/>
<rect x="1047.68" y="1430.50" width="18.02" height="15.30" fill="rgb(0,0,0)"/>
<rect x="687.25" y="1445.20" width="18.62" height="15.30" fill="rgb(0,255,0)"/>
<rect x="705.27" y="1445.20" width="18.62" height="15.30" fill="rgb(0,230,0)"/>
<rect x="723.29" y="1445.20" width="18.62" height="15.30" fill="rgb(0,230,0)"/>
<rect x="741.31" y="1445.20" width="18.62" height="15.30" fill="rgb(0,255,0)"/>
<rect x="759.34" y="1445.20" width="18.62" height="15.30" fill="rgb(0,255,0)"/>
<rect x="777.36" y="1445.20" width="18.62" height="15.30" fill="rgb(0,255,0)"/>
<rect x="795.38" y="1445.20" width="18.62" height="15.30" fill="rgb(0,153,0)"/>
<rect x="813.40" y="1445.20" width="18.62" height="15.30" fill="rgb(0,153,0)"/>
<rect x="831.42" y="1445.20" width="18.62" height="15.30" fill="rgb(0,128,0)"/>
<rect x="849.44" y="1445.20" width="18.62" height="15.30" fill="rgb(0,204,0)"/>
<rect x="867.46" y="1445.20" width="18.62" height="15.30" fill="rgb(0,204,0)"/>
<rect x="885.49" y="1445.20" width="18.62" height="15.30" fill="rgb(0,204,0)"/>
<rect x="903.51" y="1445.20" width="18.62" height="15.30" fill="rgb(0,178,0)"/>
<rect x="921.53" y="1445.20" width="18.62" height="15.30" fill="rgb(0,178,0)"/>
<rect x="939.55" y="1445.20" width="18.62" height="15.30" fill="rgb(0,178,0)"/>
<rect x="957.57" y="1445.20" width="18.62" height="15.30" fill="rgb(255,0,0)"/>
<rect x="975.59" y="1445.20" width="18.62" height="15.30" fill="rgb(204,0,0)"/>
<rect x="993.61" y="1445.20" width="18.62" height="15.30" fill="rgb(255,0,0)"/>
<rect x="1011.64" y="1445.20" width="18.62" height="15.30" fill="rgb(51,0,0)"/>
<rect x="1029.66" y="1445.20" width="18.62" height="15.30" fill="rgb(51,0,0)"/>
<rect x="1047.68" y="1445.20" width="18.02" height="15.30" fill="rgb(51,0,0)"/>
<rect x="687.25" y="1459.90" width="18.62" height="15.30" fill="rgb(0,255,0)"/>
<rect x="705.27" y="1459.90" width="18.62" height="15.30" fill="rgb(0,230,0)"/>
<rect x="723.29" y="1459.90" width="18.62" height="15.30" fill="rgb(0,230,0)"/>
<rect x="741.31" y="1459.90" width="18.62" height="15.30" fill="rgb(0,255,0)"/>
<rect x="759.34" y="1459.90" width="18.62" height="15.30" fill="rgb(0,255,0)"/>
<rect x="777.36" y="1459.90" width="18.62" height="15.30" fill="rgb(0,255,0)"/>
<rect x="795.38" y="1459.90" width="18.62" height="15.30" fill="rgb(0,128,0)"/>
<rect x="813.40" y="1459.90" width="18.62" height="15.30" fill="rgb(0,128,0)"/>
<rect x="831.42" y="1459.90" width="18.62" height="15.30" fill="rgb(0,128,0)"/>
<rect x="849.44" y="1459.90" width="18.62" height="15.30" fill="rgb(0,204,0)"/>
<rect x="867.46" y="1459.90" width="18.62" height="15.30" fill="rgb(0,178,0)"/>
<rect x="885.49" y="1459.90" width="18.62" height="15.30" fill="rgb(0,178,0)"/>
<rect x="903.51" y="1459.90" width="18.62" height="15.30" fill="rgb(0,178,0)"/>
<rect x="921.53" y="1459.90" width="18.62" height="15.30" fill="rgb(0,178,0)"/>
<rect x="939.55" y="1459.90" width="18.62" height="15.30" fill="rgb(0,178,0)"/>
<rect x="957.57" y="1459.90" width="18.62" height="15.30" fill="rgb(128,0,0)"/>
<rect x="975.59" y="1459.90" width="18.62" height="15.30" fill="rgb(255,0,0)"/>
<rect x="993.61" y="1459.90" width="18.62" height="15.30" fill="rgb(204,0,0)"/>
<rect x="1011.64" y="1459.90" width="18.62" height="15.30" fill="rgb(0,0,0)"/>
<rect x="1029.66" y="1459.90" width="18.62" height="15.30" fill="rgb(51,0,0)"/>
<rect x="1047.68" y="1459.90" width="18.02" height="15.30" fill="rgb(51,0,0)"/>
<rect x="687.25" y="1474.60" width="18.62" height="15.30" fill="rgb(0,255,0)"/>
<rect x="705.27" y="1474.60" width="18.62" height="15.30" fill="rgb(0,255,0)"/>
<rect x="723.29" y="1474.60" width="18.62" height="15.30" fill="rgb(0,255,0)"/>
<rect x="741.31" y="1474.60" width="18.62" height="15.30" fill="rgb(0,255,0)"/>
<rect x="759.34" y="1474.60" width="18.62" height="15.30" fill="rgb(0,255,0)"/>
<rect x="777.36" y="1474.60" width="18.62" height="15.30" fill="rgb(0,255,0)"/>
<rect x="795.38" y="1474.60" width="18.62" height="15.30" fill="rgb(0,255,0)"/>
<rect x="813.40" y="1474.60" width="18.62" height="15.30" fill="rgb(0,255,0)"/>
<rect x="831.42" y="1474.60" width="18.62" height="15.30" fill="rgb(0,255,0)"/>
<rect x="849.44" y="1474.60" width="18.62" height="15.30" fill="rgb(0,255,0)"/>
<rect x="867.46" y="1474.60" width="18.62" height="15.30" fill="rgb(0,255,0)"/>
<rect x="885.49" y="1474.60" width="18.62" height="15.30" fill="rgb(0,255,0)"/>
<rect x="903.51" y="1474.60" width="18.62" height="15.30" fill="rgb(0,255,0)"/>
<rect x="921.53" y="1474.60" width="18.62" height="15.30" fill="rgb(0,255,0)"/>
<rect x="939.55" y="1474.60" width="18.62" height="15.30" fill="rgb(0,255,0)"/>
<rect x="957.57" y="1474.60" width="18.62" height="15.30" fill="rgb(230,0,0)"/>
<rect x="975.59" y="1474.60" width="18.62" height="15.30" fill="rgb(230,0,0)"/>
<rect x="993.61" y="1474.60" width="18.62" height="15.30" fill="rgb(255,0,0)"/>
<rect x="1011.64" y="1474.60" width="18.62" height="15.30" fill="rgb(0,204,0)"/>
<rect x="1029.66" y="1474.60" width="18.62" height="15.30" fill="rgb(0,204,0)"/>
<rect x="1047.68" y="1474.60" width="18.02" height="15.30" fill="rgb(0,204,0)"/>
<rect x="687.25" y="1489.30" width="18.62" height="15.30" fill="rgb(0,230,0)"/>
<rect x="705.27" y="1489.30" width="18.62" height="15.30" fill="rgb(0,230,0)"/>
<rect x="723.29" y="1489.30" width="18.62" height="15.30" fill="rgb(0,230,0)"/>
<rect x="741.31" y="1489.30" width="18.62" height="15.30" fill="rgb(0,230,0)"/>
<rect x="759.34" y="1489.30" width="18.62" height="15.30" fill="rgb(0,230,0)"/>
<rect x="777.36" y="1489.30" width="18.62" height="15.30" fill="rgb(0,230,0)"/>
<rect x="795.38" y="1489.30" width="18.62" height="15.30" fill="rgb(0,255,0)"/>
<rect x="813.40" y="1489.30" width="18.62" height="15.30" fill="rgb(0,255,0)"/>
<rect x="831.42" y="1489.30" width="18.62" height="15.30" fill="rgb(0,255,0)"/>
<rect x="849.44" y="1489.30" width="18.62" height="15.30" fill="rgb(0,255,0)"/>
<rect x="867.46" y="1489.30" width="18.62" height="15.30" fill="rgb(0,255,0)"/>
<rect x="885.49" y="1489.30" width="18.62" height="15.30" fill="rgb(0,255,0)"/>
<rect x="903.51" y="1489.30" width="18.62" height="15.30" fill="rgb(0,230,0)"/>
<rect x="921.53" y="1489.30" width="18.62" height="15.30" fill="rgb(0,230,0)"/>
<rect x="939.55" y="1489.30" width="18.62" height="15.30" fill="rgb(0,230,0)"/>
<rect x="957.57" y="1489.30" width="18.62" height="15.30" fill="rgb(255,0,0)"/>
<rect x="975.59" y="1489.30" width="18.62" height="15.30" fill="rgb(230,0,0)"/>
<rect x="993.61" y="1489.30" width="18.62" height="15.30" fill="rgb(230,0,0)"/>
<rect x="1011.64" y="1489.30" width="18.62" height="15.30" fill="rgb(0,153,0)"/>
<rect x="1029.66" y="1489.30" width="18.62" height="15.30" fill="rgb(0,102,0)"/>
<rect x="1047.68" y="1489.30" width="18.02" height="15.30" fill="rgb(0,128,0)"/>
<rect x="687.25" y="1504.00" width="18.62" height="15.30" fill="rgb(0,255,0)"/>
<rect x="705.27" y="1504.00" width="18.62" height="15.30" fill="rgb(0,255,0)"/>
<rect x="723.29" y="1504.00" width="18.62" height="15.30" fill="rgb(0,255,0)"/>
<rect x="741.31" y="1504.00" width="18.62" height="15.30" fill="rgb(0,255,0)"/>
<rect x="759.34" y="1504.00" width="18.62" height="15.30" fill="rgb(0,255,0)"/>
<rect x="777.36" y="1504.00" width="18.62" height="15.30" fill="rgb(0,255,0)"/>
<rect x="795.38" y="1504.00" width="18.62" height="15.30" fill="rgb(0,204,0)"/>
<rect x="813.40" y="1504.00" width="18.62" height="15.30" fill="rgb(0,204,0)"/>
<rect x="831.42" y="1504.00" width="18.62" height="15.30" fill="rgb(0,204,0)"/>
<rect x="849.44" y="1504.00" width="18.62" height="15.30" fill="rgb(0,230,0)"/>
<rect x="867.46" y="1504.00" width="18.62" height="15.30" fill="rgb(0,230,0)"/>
<rect x="885.49" y="1504.00" width="18.62" height="15.30" fill="rgb(0,230,0)"/>
<rect x="903.51" y="1504.00" width="18.62" height="15.30" fill="rgb(0,76,0)"/>
<rect x="921.53" y="1504.00" width="18.62" height="15.30" fill="rgb(0,76,0)"/>
<rect x="939.55" y="1504.00" width="18.62" height="15.30" fill="rgb(0,76,0)"/>
<rect x="957.57" y="1504.00" width="18.62" height="15.30" fill="rgb(178,0,0)"/>
<rect x="975.59" y="1504.00" width="18.62" height="15.30" fill="rgb(204,0,0)"/>
<rect x="993.61" y="1504.00" width="18.62" height="15.30" fill="rgb(255,0,0)"/>
<rect x="1011.64" y="1504.00" width="18.62" height="15.30" fill="rgb(0,128,0)"/>
<rect x="1029.66" y="1504.00" width="18.62" height="15.30" fill="rgb(0,102,0)"/>
<rect x="1047.68" y="1504.00" width="18.02" height="15.30" fill="rgb(0,128,0)"/>
<rect x="687.25" y="1518.70" width="18.62" height="14.70" fill="rgb(0,255,0)"/>
<rect x="705.27" y="1518.70" width="18.62" height="14.70" fill="rgb(0,255,0)"/>
<rect x="723.29" y="1518.70" width="18.62" height="14.70" fill="rgb(0,255,0)"/>
<rect x="741.31" y="1518.70" width="18.62" height="14.70" fill="rgb(0,255,0)"/>
<rect x="759.34" y="1518.70" width="18.62" height="14.70" fill="rgb(0,255,0)"/>
<rect x="777.36" y="1518.70" width="18.62" height="14.70" fill="rgb(0,255,0)"/>
<rect x="795.38" y="1518.70" width="18.62" height="14.70" fill="rgb(0,153,0)"/>
<rect x="813.40" y="1518.70" width="18.62" height="14.70" fill="rgb(0,178,0)"/>
<rect x="831.42" y="1518.70" width="18.62" height="14.70" fill="rgb(0,153,0)"/>
<rect x="849.44" y="1518.70" width="18.62" height="14.70" fill="rgb(0,204,0)"/>
<rect x="867.46" y="1518.70" width="18.62" height="14.70" fill="rgb(0,204,0)"/>
<rect x="885.49" y="1518.70" width="18.62" height="14.70" fill="rgb(0,204,0)"/>
<rect x="903.51" y="1518.70" width="18.62" height="14.70" fill="rgb(0,153,0)"/>
<rect x="921.53" y="1518.70" width="18.62" height="14.70" fill="rgb(0,153,0)"/>
<rect x="939.55" y="1518.70" width="18.62" height="14.70" fill="rgb(0,153,0)"/>
<rect x="957.57" y="1518.70" width="18.62" height="14.70" fill="rgb(230,0,0)"/>
<rect x="975.59" y="1518.70" width="18.62" height="14.70" fill="rgb(204,0,0)"/>
<rect x="993.61" y="1518.70" width="18.62" height="14.70" fill="rgb(255,0,0)"/>
<rect x="1011.64" y="1518.70" width="18.62" height="14.70" fill="rgb(0,128,0)"/>
<rect x="1029.66" y="1518.70" width="18.62" height="14.70" fill="rgb(0,128,0)"/>
<rect x="1047.68" y="1518.70" width="18.02" height="14.70" fill="rgb(0,128,0)"/></g>
<line x1="1070.8" y1="225.5" x2="1070.8" y2="1533.8" stroke="#d8ecd8" stroke-width="1"/>
<g stroke="#555" stroke-width="1.5" fill="none" stroke-linecap="square"><line x1="589.40" y1="248.25" x2="589.40" y2="262.95"/><line x1="589.40" y1="248.25" x2="606.30" y2="248.25"/><line x1="589.40" y1="262.95" x2="606.30" y2="262.95"/><line x1="488.40" y1="233.55" x2="488.40" y2="255.60"/><line x1="488.40" y1="233.55" x2="606.30" y2="233.55"/><line x1="488.40" y1="255.60" x2="589.40" y2="255.60"/><line x1="535.60" y1="292.35" x2="535.60" y2="307.05"/><line x1="535.60" y1="292.35" x2="606.30" y2="292.35"/><line x1="535.60" y1="307.05" x2="606.30" y2="307.05"/><line x1="444.00" y1="277.65" x2="444.00" y2="299.70"/><line x1="444.00" y1="277.65" x2="606.30" y2="277.65"/><line x1="444.00" y1="299.70" x2="535.60" y2="299.70"/><line x1="301.40" y1="244.57" x2="301.40" y2="288.68"/><line x1="301.40" y1="244.57" x2="488.40" y2="244.57"/><line x1="301.40" y1="288.68" x2="444.00" y2="288.68"/><line x1="512.20" y1="336.45" x2="512.20" y2="351.15"/><line x1="512.20" y1="336.45" x2="606.30" y2="336.45"/><line x1="512.20" y1="351.15" x2="606.30" y2="351.15"/><line x1="334.80" y1="321.75" x2="334.80" y2="343.80"/><line x1="334.80" y1="321.75" x2="606.30" y2="321.75"/><line x1="334.80" y1="343.80" x2="512.20" y2="343.80"/><line x1="571.40" y1="380.55" x2="571.40" y2="395.25"/><line x1="571.40" y1="380.55" x2="606.30" y2="380.55"/><line x1="571.40" y1="395.25" x2="606.30" y2="395.25"/><line x1="582.30" y1="424.65" x2="582.30" y2="439.35"/><line x1="582.30" y1="424.65" x2="606.30" y2="424.65"/><line x1="582.30" y1="439.35" x2="606.30" y2="439.35"/><line x1="552.40" y1="409.95" x2="552.40" y2="432.00"/><line x1="552.40" y1="409.95" x2="606.30" y2="409.95"/><line x1="552.40" y1="432.00" x2="582.30" y2="432.00"/><line x1="498.00" y1="387.90" x2="498.00" y2="420.98"/><line x1="498.00" y1="387.90" x2="571.40" y2="387.90"/><line x1="498.00" y1="420.98" x2="552.40" y2="420.98"/><line x1="440.20" y1="365.85" x2="440.20" y2="404.44"/><line x1="440.20" y1="365.85" x2="606.30" y2="365.85"/><line x1="440.20" y1="404.44" x2="498.00" y2="404.44"/><line x1="605.00" y1="483.45" x2="605.00" y2="498.15"/><line x1="605.00" y1="483.45" x2="606.30" y2="483.45"/><line x1="605.00" y1="498.15" x2="606.30" y2="498.15"/><line x1="574.60" y1="468.75" x2="574.60" y2="490.80"/><line x1="574.60" y1="468.75" x2="606.30" y2="468.75"/><line x1="574.60" y1="490.80" x2="605.00" y2="490.80"/><line x1="454.00" y1="454.05" x2="454.00" y2="479.78"/><line x1="454.00" y1="454.05" x2="606.30" y2="454.05"/><line x1="454.00" y1="479.78" x2="574.60" y2="479.78"/><line x1="308.20" y1="385.14" x2="308.20" y2="466.91"/><line x1="308.20" y1="385.14" x2="440.20" y2="385.14"/><line x1="308.20" y1="466.91" x2="454.00" y2="466.91"/><line x1="582.30" y1="527.55" x2="582.30" y2="542.25"/><line x1="582.30" y1="527.55" x2="606.30" y2="527.55"/><line x1="582.30" y1="542.25" x2="606.30" y2="542.25"/><line x1="602.30" y1="571.65" x2="602.30" y2="586.35"/><line x1="602.30" y1="571.65" x2="606.30" y2="571.65"/><line x1="602.30" y1="586.35" x2="606.30" y2="586.35"/><line x1="592.30" y1="556.95" x2="592.30" y2="579.00"/><line x1="592.30" y1="556.95" x2="606.30" y2="556.95"/><line x1="592.30" y1="579.00" x2="602.30" y2="579.00"/><line x1="596.90" y1="615.75" x2="596.90" y2="630.45"/><line x1="596.90" y1="615.75" x2="606.30" y2="615.75"/><line x1="596.90" y1="630.45" x2="606.30" y2="630.45"/><line x1="585.30" y1="601.05" x2="585.30" y2="623.10"/><line x1="585.30" y1="601.05" x2="606.30" y2="601.05"/><line x1="585.30" y1="623.10" x2="596.90" y2="623.10"/><line x1="565.80" y1="567.98" x2="565.80" y2="612.08"/><line x1="565.80" y1="567.98" x2="592.30" y2="567.98"/><line x1="565.80" y1="612.08" x2="585.30" y2="612.08"/><line x1="539.50" y1="534.90" x2="539.50" y2="590.03"/><line x1="539.50" y1="534.90" x2="582.30" y2="534.90"/><line x1="539.50" y1="590.03" x2="565.80" y2="590.03"/><line x1="577.00" y1="659.85" x2="577.00" y2="674.55"/><line x1="577.00" y1="659.85" x2="606.30" y2="659.85"/><line x1="577.00" y1="674.55" x2="606.30" y2="674.55"/><line x1="539.90" y1="645.15" x2="539.90" y2="667.20"/><line x1="539.90" y1="645.15" x2="606.30" y2="645.15"/><line x1="539.90" y1="667.20" x2="577.00" y2="667.20"/><line x1="488.30" y1="562.46" x2="488.30" y2="656.18"/><line x1="488.30" y1="562.46" x2="539.50" y2="562.46"/><line x1="488.30" y1="656.18" x2="539.90" y2="656.18"/><line x1="553.40" y1="689.25" x2="553.40" y2="703.95"/><line x1="553.40" y1="689.25" x2="606.30" y2="689.25"/><line x1="553.40" y1="703.95" x2="606.30" y2="703.95"/><line x1="570.40" y1="718.65" x2="570.40" y2="733.35"/><line x1="570.40" y1="718.65" x2="606.30" y2="718.65"/><line x1="570.40" y1="733.35" x2="606.30" y2="733.35"/><line x1="600.30" y1="762.75" x2="600.30" y2="777.45"/><line x1="600.30" y1="762.75" x2="606.30" y2="762.75"/><line x1="600.30" y1="777.45" x2="606.30" y2="777.45"/><line x1="580.30" y1="748.05" x2="580.30" y2="770.10"/><line x1="580.30" y1="748.05" x2="606.30" y2="748.05"/><line x1="580.30" y1="770.10" x2="600.30" y2="770.10"/><line x1="602.30" y1="806.85" x2="602.30" y2="821.55"/><line x1="602.30" y1="806.85" x2="606.30" y2="806.85"/><line x1="602.30" y1="821.55" x2="606.30" y2="821.55"/><line x1="600.60" y1="836.25" x2="600.60" y2="850.95"/><line x1="600.60" y1="836.25" x2="606.30" y2="836.25"/><line x1="600.60" y1="850.95" x2="606.30" y2="850.95"/><line x1="593.50" y1="814.20" x2="593.50" y2="843.60"/><line x1="593.50" y1="814.20" x2="602.30" y2="814.20"/><line x1="593.50" y1="843.60" x2="600.60" y2="843.60"/><line x1="580.30" y1="792.15" x2="580.30" y2="828.90"/><line x1="580.30" y1="792.15" x2="606.30" y2="792.15"/><line x1="580.30" y1="828.90" x2="593.50" y2="828.90"/><line x1="593.30" y1="880.35" x2="593.30" y2="895.05"/><line x1="593.30" y1="880.35" x2="606.30" y2="880.35"/><line x1="593.30" y1="895.05" x2="606.30" y2="895.05"/><line x1="579.80" y1="865.65" x2="579.80" y2="887.70"/><line x1="579.80" y1="865.65" x2="606.30" y2="865.65"/><line x1="579.80" y1="887.70" x2="593.30" y2="887.70"/><line x1="559.40" y1="810.53" x2="559.40" y2="876.68"/><line x1="559.40" y1="810.53" x2="580.30" y2="810.53"/><line x1="559.40" y1="876.68" x2="579.80" y2="876.68"/><line x1="527.10" y1="759.08" x2="527.10" y2="843.60"/><line x1="527.10" y1="759.08" x2="580.30" y2="759.08"/><line x1="527.10" y1="843.60" x2="559.40" y2="843.60"/><line x1="488.70" y1="726.00" x2="488.70" y2="801.34"/><line x1="488.70" y1="726.00" x2="570.40" y2="726.00"/><line x1="488.70" y1="801.34" x2="527.10" y2="801.34"/><line x1="447.00" y1="696.60" x2="447.00" y2="763.67"/><line x1="447.00" y1="696.60" x2="553.40" y2="696.60"/><line x1="447.00" y1="763.67" x2="488.70" y2="763.67"/><line x1="396.00" y1="609.32" x2="396.00" y2="730.13"/><line x1="396.00" y1="609.32" x2="488.30" y2="609.32"/><line x1="396.00" y1="730.13" x2="447.00" y2="730.13"/><line x1="329.80" y1="512.85" x2="329.80" y2="669.73"/><line x1="329.80" y1="512.85" x2="606.30" y2="512.85"/><line x1="329.80" y1="669.73" x2="396.00" y2="669.73"/><line x1="594.90" y1="939.15" x2="594.90" y2="953.85"/><line x1="594.90" y1="939.15" x2="606.30" y2="939.15"/><line x1="594.90" y1="953.85" x2="606.30" y2="953.85"/><line x1="569.00" y1="924.45" x2="569.00" y2="946.50"/><line x1="569.00" y1="924.45" x2="606.30" y2="924.45"/><line x1="569.00" y1="946.50" x2="594.90" y2="946.50"/><line x1="487.10" y1="909.75" x2="487.10" y2="935.48"/><line x1="487.10" y1="909.75" x2="606.30" y2="909.75"/><line x1="487.10" y1="935.48" x2="569.00" y2="935.48"/><line x1="596.90" y1="1012.65" x2="596.90" y2="1027.35"/><line x1="596.90" y1="1012.65" x2="606.30" y2="1012.65"/><line x1="596.90" y1="1027.35" x2="606.30" y2="1027.35"/><line x1="592.40" y1="1042.05" x2="592.40" y2="1130.30"/><line x1="592.40" y1="1042.05" x2="606.30" y2="1042.05"/><line x1="592.40" y1="1130.30" x2="605.20" y2="1130.30"/><line x1="577.10" y1="1020.00" x2="577.10" y2="1086.17"/><line x1="577.10" y1="1020.00" x2="596.90" y2="1020.00"/><line x1="577.10" y1="1086.17" x2="592.40" y2="1086.17"/><line x1="550.90" y1="997.95" x2="550.90" y2="1053.09"/><line x1="550.90" y1="997.95" x2="606.30" y2="997.95"/><line x1="550.90" y1="1053.09" x2="577.10" y2="1053.09"/><line x1="510.60" y1="983.25" x2="510.60" y2="1025.52"/><line x1="510.60" y1="983.25" x2="606.30" y2="983.25"/><line x1="510.60" y1="1025.52" x2="550.90" y2="1025.52"/><line x1="586.70" y1="1365.45" x2="586.70" y2="1380.15"/><line x1="586.70" y1="1365.45" x2="606.30" y2="1365.45"/><line x1="586.70" y1="1380.15" x2="606.30" y2="1380.15"/><line x1="599.00" y1="1409.55" x2="599.00" y2="1424.25"/><line x1="599.00" y1="1409.55" x2="606.30" y2="1409.55"/><line x1="599.00" y1="1424.25" x2="606.30" y2="1424.25"/><line x1="604.50" y1="1453.65" x2="604.50" y2="1468.35"/><line x1="604.50" y1="1453.65" x2="606.30" y2="1453.65"/><line x1="604.50" y1="1468.35" x2="606.30" y2="1468.35"/><line x1="600.70" y1="1438.95" x2="600.70" y2="1461.00"/><line x1="600.70" y1="1438.95" x2="606.30" y2="1438.95"/><line x1="600.70" y1="1461.00" x2="604.50" y2="1461.00"/><line x1="604.70" y1="1483.05" x2="604.70" y2="1497.75"/><line x1="604.70" y1="1483.05" x2="606.30" y2="1483.05"/><line x1="604.70" y1="1497.75" x2="606.30" y2="1497.75"/><line x1="603.50" y1="1512.45" x2="603.50" y2="1527.15"/><line x1="603.50" y1="1512.45" x2="606.30" y2="1512.45"/><line x1="603.50" y1="1527.15" x2="606.30" y2="1527.15"/><line x1="599.20" y1="1490.40" x2="599.20" y2="1519.80"/><line x1="599.20" y1="1490.40" x2="604.70" y2="1490.40"/><line x1="599.20" y1="1519.80" x2="603.50" y2="1519.80"/><line x1="592.40" y1="1449.97" x2="592.40" y2="1505.10"/><line x1="592.40" y1="1449.97" x2="600.70" y2="1449.97"/><line x1="592.40" y1="1505.10" x2="599.20" y2="1505.10"/><line x1="582.60" y1="1416.90" x2="582.60" y2="1477.54"/><line x1="582.60" y1="1416.90" x2="599.00" y2="1416.90"/><line x1="582.60" y1="1477.54" x2="592.40" y2="1477.54"/><line x1="569.00" y1="1394.85" x2="569.00" y2="1447.22"/><line x1="569.00" y1="1394.85" x2="606.30" y2="1394.85"/><line x1="569.00" y1="1447.22" x2="582.60" y2="1447.22"/><line x1="543.70" y1="1372.80" x2="543.70" y2="1421.03"/><line x1="543.70" y1="1372.80" x2="586.70" y2="1372.80"/><line x1="543.70" y1="1421.03" x2="569.00" y2="1421.03"/><line x1="499.60" y1="1350.75" x2="499.60" y2="1396.92"/><line x1="499.60" y1="1350.75" x2="606.30" y2="1350.75"/><line x1="499.60" y1="1396.92" x2="543.70" y2="1396.92"/><line x1="447.10" y1="1004.38" x2="447.10" y2="1373.83"/><line x1="447.10" y1="1004.38" x2="510.60" y2="1004.38"/><line x1="447.10" y1="1373.83" x2="499.60" y2="1373.83"/><line x1="388.10" y1="968.55" x2="388.10" y2="1189.11"/><line x1="388.10" y1="968.55" x2="606.30" y2="968.55"/><line x1="388.10" y1="1189.11" x2="447.10" y2="1189.11"/><line x1="308.60" y1="922.61" x2="308.60" y2="1078.83"/><line x1="308.60" y1="922.61" x2="487.10" y2="922.61"/><line x1="308.60" y1="1078.83" x2="388.10" y2="1078.83"/><line x1="221.00" y1="591.29" x2="221.00" y2="1000.72"/><line x1="221.00" y1="591.29" x2="329.80" y2="591.29"/><line x1="221.00" y1="1000.72" x2="308.60" y2="1000.72"/><line x1="128.80" y1="426.03" x2="128.80" y2="796.00"/><line x1="128.80" y1="426.03" x2="308.20" y2="426.03"/><line x1="128.80" y1="796.00" x2="221.00" y2="796.00"/><line x1="605.20" y1="1056.75" x2="605.20" y2="1336.05"/><line x1="34.70" y1="266.62" x2="34.70" y2="611.02"/><line x1="34.70" y1="266.62" x2="301.40" y2="266.62"/><line x1="34.70" y1="332.78" x2="334.80" y2="332.78"/><line x1="34.70" y1="611.02" x2="128.80" y2="611.02"/></g>
<g fill="#222"><ellipse cx="605.70" cy="233.15" rx="1.6" ry="1.2"/><ellipse cx="605.70" cy="247.85" rx="1.6" ry="1.2"/><ellipse cx="605.70" cy="262.55" rx="1.6" ry="1.2"/><ellipse cx="605.70" cy="277.25" rx="1.6" ry="1.2"/><ellipse cx="605.70" cy="291.95" rx="1.6" ry="1.2"/><ellipse cx="605.70" cy="306.65" rx="1.6" ry="1.2"/><ellipse cx="605.70" cy="321.35" rx="1.6" ry="1.2"/><ellipse cx="605.70" cy="336.05" rx="1.6" ry="1.2"/><ellipse cx="605.70" cy="350.75" rx="1.6" ry="1.2"/><ellipse cx="605.70" cy="365.45" rx="1.6" ry="1.2"/><ellipse cx="605.70" cy="380.15" rx="1.6" ry="1.2"/><ellipse cx="605.70" cy="394.85" rx="1.6" ry="1.2"/><ellipse cx="605.70" cy="409.55" rx="1.6" ry="1.2"/><ellipse cx="605.70" cy="424.25" rx="1.6" ry="1.2"/><ellipse cx="605.70" cy="438.95" rx="1.6" ry="1.2"/><ellipse cx="605.70" cy="453.65" rx="1.6" ry="1.2"/><ellipse cx="605.70" cy="468.35" rx="1.6" ry="1.2"/><ellipse cx="605.70" cy="483.05" rx="1.6" ry="1.2"/><ellipse cx="605.70" cy="497.75" rx="1.6" ry="1.2"/><ellipse cx="605.70" cy="512.45" rx="1.6" ry="1.2"/><ellipse cx="605.70" cy="527.15" rx="1.6" ry="1.2"/><ellipse cx="605.70" cy="541.85" rx="1.6" ry="1.2"/><ellipse cx="605.70" cy="556.55" rx="1.6" ry="1.2"/><ellipse cx="605.70" cy="571.25" rx="1.6" ry="1.2"/><ellipse cx="605.70" cy="585.95" rx="1.6" ry="1.2"/><ellipse cx="605.70" cy="600.65" rx="1.6" ry="1.2"/><ellipse cx="605.70" cy="615.35" rx="1.6" ry="1.2"/><ellipse cx="605.70" cy="630.05" rx="1.6" ry="1.2"/><ellipse cx="605.70" cy="644.75" rx="1.6" ry="1.2"/><ellipse cx="605.70" cy="659.45" rx="1.6" ry="1.2"/><ellipse cx="605.70" cy="674.15" rx="1.6" ry="1.2"/><ellipse cx="605.70" cy="688.85" rx="1.6" ry="1.2"/><ellipse cx="605.70" cy="703.55" rx="1.6" ry="1.2"/><ellipse cx="605.70" cy="718.25" rx="1.6" ry="1.2"/><ellipse cx="605.70" cy="732.95" rx="1.6" ry="1.2"/><ellipse cx="605.70" cy="747.65" rx="1.6" ry="1.2"/><ellipse cx="605.70" cy="762.35" rx="1.6" ry="1.2"/><ellipse cx="605.70" cy="777.05" rx="1.6" ry="1.2"/><ellipse cx="605.70" cy="791.75" rx="1.6" ry="1.2"/><ellipse cx="605.70" cy="806.45" rx="1.6" ry="1.2"/><ellipse cx="605.70" cy="821.15" rx="1.6" ry="1.2"/><ellipse cx="605.70" cy="835.85" rx="1.6" ry="1.2"/><ellipse cx="605.70" cy="850.55" rx="1.6" ry="1.2"/><ellipse cx="605.70" cy="865.25" rx="1.6" ry="1.2"/><ellipse cx="605.70" cy="879.95" rx="1.6" ry="1.2"/><ellipse cx="605.70" cy="894.65" rx="1.6" ry="1.2"/><ellipse cx="605.70" cy="909.35" rx="1.6" ry="1.2"/><ellipse cx="605.70" cy="924.05" rx="1.6" ry="1.2"/><ellipse cx="605.70" cy="938.75" rx="1.6" ry="1.2"/><ellipse cx="605.70" cy="953.45" rx="1.6" ry="1.2"/><ellipse cx="605.70" cy="968.15" rx="1.6" ry="1.2"/><ellipse cx="605.70" cy="982.85" rx="1.6" ry="1.2"/><ellipse cx="605.70" cy="997.55" rx="1.6" ry="1.2"/><ellipse cx="605.70" cy="1012.25" rx="1.6" ry="1.2"/><ellipse cx="605.70" cy="1026.95" rx="1.6" ry="1.2"/><ellipse cx="605.70" cy="1041.65" rx="1.6" ry="1.2"/><ellipse cx="605.70" cy="1056.35" rx="1.6" ry="1.2"/><ellipse cx="605.70" cy="1071.05" rx="1.6" ry="1.2"/><ellipse cx="605.70" cy="1085.75" rx="1.6" ry="1.2"/><ellipse cx="605.70" cy="1100.45" rx="1.6" ry="1.2"/><ellipse cx="605.70" cy="1115.15" rx="1.6" ry="1.2"/><ellipse cx="605.70" cy="1129.85" rx="1.6" ry="1.2"/><ellipse cx="605.70" cy="1144.55" rx="1.6" ry="1.2"/><ellipse cx="605.70" cy="1159.25" rx="1.6" ry="1.2"/><ellipse cx="605.70" cy="1173.95" rx="1.6" ry="1.2"/><ellipse cx="605.70" cy="1188.65" rx="1.6" ry="1.2"/><ellipse cx="605.70" cy="1203.35" rx="1.6" ry="1.2"/><ellipse cx="605.70" cy="1218.05" rx="1.6" ry="1.2"/><ellipse cx="605.70" cy="1232.75" rx="1.6" ry="1.2"/><ellipse cx="605.70" cy="1247.45" rx="1.6" ry="1.2"/><ellipse cx="605.70" cy="1262.15" rx="1.6" ry="1.2"/><ellipse cx="605.70" cy="1276.85" rx="1.6" ry="1.2"/><ellipse cx="605.70" cy="1291.55" rx="1.6" ry="1.2"/><ellipse cx="605.70" cy="1306.25" rx="1.6" ry="1.2"/><ellipse cx="605.70" cy="1320.95" rx="1.6" ry="1.2"/><ellipse cx="605.70" cy="1335.65" rx="1.6" ry="1.2"/><ellipse cx="605.70" cy="1350.35" rx="1.6" ry="1.2"/><ellipse cx="605.70" cy="1365.05" rx="1.6" ry="1.2"/><ellipse cx="605.70" cy="1379.75" rx="1.6" ry="1.2"/><ellipse cx="605.70" cy="1394.45" rx="1.6" ry="1.2"/><ellipse cx="605.70" cy="1409.15" rx="1.6" ry="1.2"/><ellipse cx="605.70" cy="1423.85" rx="1.6" ry="1.2"/><ellipse cx="605.70" cy="1438.55" rx="1.6" ry="1.2"/><ellipse cx="605.70" cy="1453.25" rx="1.6" ry="1.2"/><ellipse cx="605.70" cy="1467.95" rx="1.6" ry="1.2"/><ellipse cx="605.70" cy="1482.65" rx="1.6" ry="1.2"/><ellipse cx="605.70" cy="1497.35" rx="1.6" ry="1.2"/><ellipse cx="605.70" cy="1512.05" rx="1.6" ry="1.2"/><ellipse cx="605.70" cy="1526.75" rx="1.6" ry="1.2"/></g>
<g stroke="#555" stroke-width="1.5" fill="none" stroke-linecap="square"><line x1="696.26" y1="98.50" x2="732.30" y2="98.50"/><line x1="750.33" y1="98.50" x2="786.37" y2="98.50"/><line x1="804.39" y1="98.50" x2="840.43" y2="98.50"/><line x1="858.45" y1="98.50" x2="894.50" y2="98.50"/><line x1="912.52" y1="98.50" x2="948.56" y2="98.50"/><line x1="966.58" y1="98.50" x2="1002.62" y2="98.50"/><line x1="1020.65" y1="98.50" x2="1056.69" y2="98.50"/><line x1="710.10" y1="91.40" x2="764.10" y2="91.40"/><line x1="710.10" y1="91.40" x2="710.10" y2="98.50"/><line x1="764.10" y1="91.40" x2="764.10" y2="98.50"/><line x1="818.50" y1="90.10" x2="872.00" y2="90.10"/><line x1="818.50" y1="90.10" x2="818.50" y2="98.50"/><line x1="872.00" y1="90.10" x2="872.00" y2="98.50"/><line x1="737.80" y1="78.90" x2="845.60" y2="78.90"/><line x1="737.80" y1="78.90" x2="737.80" y2="91.40"/><line x1="845.60" y1="78.90" x2="845.60" y2="90.10"/><line x1="980.10" y1="86.70" x2="1034.30" y2="86.70"/><line x1="980.10" y1="86.70" x2="980.10" y2="98.50"/><line x1="1034.30" y1="86.70" x2="1034.30" y2="98.50"/><line x1="926.20" y1="68.60" x2="1008.30" y2="68.60"/><line x1="926.20" y1="68.60" x2="926.20" y2="98.50"/><line x1="1008.30" y1="68.60" x2="1008.30" y2="86.70"/><line x1="791.80" y1="42.70" x2="967.80" y2="42.70"/><line x1="791.80" y1="42.70" x2="791.80" y2="78.90"/><line x1="967.80" y1="42.70" x2="967.80" y2="68.60"/><line x1="1037.80" y1="97.20" x2="1050.10" y2="97.20"/></g>
<g fill="#222"><rect x="695.16" y="98.00" width="2.2" height="2.4"/><rect x="713.18" y="98.00" width="2.2" height="2.4"/><rect x="731.20" y="98.00" width="2.2" height="2.4"/><rect x="749.23" y="98.00" width="2.2" height="2.4"/><rect x="767.25" y="98.00" width="2.2" height="2.4"/><rect x="785.27" y="98.00" width="2.2" height="2.4"/><rect x="803.29" y="98.00" width="2.2" height="2.4"/><rect x="821.31" y="98.00" width="2.2" height="2.4"/><rect x="839.33" y="98.00" width="2.2" height="2.4"/><rect x="857.35" y="98.00" width="2.2" height="2.4"/><rect x="875.38" y="98.00" width="2.2" height="2.4"/><rect x="893.40" y="98.00" width="2.2" height="2.4"/><rect x="911.42" y="98.00" width="2.2" height="2.4"/><rect x="929.44" y="98.00" width="2.2" height="2.4"/><rect x="947.46" y="98.00" width="2.2" height="2.4"/><rect x="965.48" y="98.00" width="2.2" height="2.4"/><rect x="983.50" y="98.00" width="2.2" height="2.4"/><rect x="1001.52" y="98.00" width="2.2" height="2.4"/><rect x="1019.55" y="98.00" width="2.2" height="2.4"/><rect x="1037.57" y="98.00" width="2.2" height="2.4"/><rect x="1055.59" y="98.00" width="2.2" height="2.4"/></g>
<g font-family="Liberation Sans" font-weight="bold" font-size="10.8px" fill="#111" stroke="#111" stroke-width="0.25"><text transform="translate(634.57,236.95) scale(1.3295,1)">BGLAP</text><text transform="translate(616.34,251.65) scale(1.4083,1)">COL10A1</text><text transform="translate(640.30,266.35) scale(1.4056,1)">ITGA2</text><text transform="translate(646.64,281.05) scale(1.3903,1)">FGF2</text><text transform="translate(640.31,295.75) scale(1.3982,1)">ITGB1</text><text transform="translate(635.23,310.45) scale(1.3530,1)">VEGFA</text><text transform="translate(640.23,325.15) scale(1.4053,1)">ITGA3</text><text transform="translate(646.43,339.85) scale(1.3895,1)">FGF1</text><text transform="translate(631.37,354.55) scale(1.3850,1)">GAPDH</text><text transform="translate(646.68,369.25) scale(1.3806,1)">CSF1</text><text transform="translate(635.97,383.95) scale(1.3798,1)">FGFR1</text><text transform="translate(625.43,398.65) scale(1.3788,1)">TGFBR2</text><text transform="translate(652.44,413.35) scale(1.4469,1)">B2M</text><text transform="translate(644.51,428.05) scale(1.3630,1)">CTSK</text><text transform="translate(627.40,442.75) scale(1.4501,1)">TWIST1</text><text transform="translate(635.70,457.45) scale(1.3875,1)">TGFB1</text><text transform="translate(638.89,472.15) scale(1.4733,1)">MMP8</text><text transform="translate(656.75,486.85) scale(1.3838,1)">SP7</text><text transform="translate(635.83,501.55) scale(1.3879,1)">TGFB3</text><text transform="translate(644.94,516.25) scale(1.3384,1)">ACTB</text><text transform="translate(646.63,530.95) scale(1.3554,1)">ALPL</text><text transform="translate(631.35,545.65) scale(1.4135,1)">VCAM1</text><text transform="translate(633.86,560.35) scale(1.4625,1)">CDH11</text><text transform="translate(641.92,575.05) scale(1.4199,1)">BMP4</text><text transform="translate(632.95,589.75) scale(1.4222,1)">RUNX2</text><text transform="translate(636.17,604.45) scale(1.3804,1)">FGFR2</text><text transform="translate(641.98,619.15) scale(1.4334,1)">BMP6</text><text transform="translate(651.54,633.85) scale(1.3735,1)">NOG</text><text transform="translate(631.38,648.55) scale(1.4169,1)">SMAD3</text><text transform="translate(639.24,663.25) scale(1.4673,1)">MMP2</text><text transform="translate(644.99,677.95) scale(1.3876,1)">SOX9</text><text transform="translate(650.83,692.65) scale(1.4260,1)">IGF2</text><text transform="translate(625.23,707.35) scale(1.3784,1)">TGFBR1</text><text transform="translate(634.11,722.05) scale(1.3837,1)">ACVR1</text><text transform="translate(644.77,736.75) scale(1.3318,1)">EGFR</text><text transform="translate(621.47,751.45) scale(1.3956,1)">BMPR1B</text><text transform="translate(631.44,766.15) scale(1.4171,1)">SMAD2</text><text transform="translate(635.90,780.85) scale(1.3881,1)">TGFB2</text><text transform="translate(631.24,795.55) scale(1.4164,1)">SMAD1</text><text transform="translate(620.37,810.25) scale(1.4132,1)">BMPR1A</text><text transform="translate(632.01,824.95) scale(1.4021,1)">BMPR2</text><text transform="translate(630.90,839.65) scale(1.4173,1)">SMAD4</text><text transform="translate(631.24,854.35) scale(1.4164,1)">SMAD5</text><text transform="translate(639.47,869.05) scale(1.4222,1)">IGF1R</text><text transform="translate(655.44,883.75) scale(1.4377,1)">FN1</text><text transform="translate(652.36,898.45) scale(1.4193,1)">VDR</text><text transform="translate(632.68,913.15) scale(1.4233,1)">ANXA5</text><text transform="translate(640.10,927.85) scale(1.4048,1)">ITGA1</text><text transform="translate(640.01,942.55) scale(1.3839,1)">COMP</text><text transform="translate(637.03,957.25) scale(1.4219,1)">ICAM1</text><text transform="translate(609.08,971.95) scale(1.4019,1)">SERPINH1</text><text transform="translate(636.71,986.65) scale(1.3886,1)">RPLP0</text><text transform="translate(656.08,1001.35) scale(1.2979,1)">EGF</text><text transform="translate(642.47,1016.05) scale(1.4196,1)">BMP2</text><text transform="translate(617.33,1030.75) scale(1.4595,1)">TNFSF11</text><text transform="translate(651.23,1045.45) scale(1.3413,1)">FLT1</text><text transform="translate(642.05,1060.15) scale(1.3782,1)">CHRD</text><text transform="translate(642.21,1074.85) scale(1.3829,1)">AHSG</text><text transform="translate(642.40,1089.55) scale(1.4193,1)">BMP3</text><text transform="translate(642.26,1104.25) scale(1.4187,1)">BMP5</text><text transform="translate(642.40,1118.95) scale(1.4220,1)">BMP7</text><text transform="translate(635.15,1133.65) scale(1.3124,1)">CALCR</text><text transform="translate(644.95,1148.35) scale(1.4497,1)">CD36</text><text transform="translate(625.80,1163.05) scale(1.3842,1)">COL2A1</text><text transform="translate(646.88,1177.75) scale(1.3814,1)">CSF2</text><text transform="translate(646.81,1192.45) scale(1.3811,1)">CSF3</text><text transform="translate(645.66,1207.15) scale(1.4176,1)">DLX5</text><text transform="translate(634.40,1221.85) scale(1.4558,1)">GDF10</text><text transform="translate(651.08,1236.55) scale(1.4053,1)">GLI1</text><text transform="translate(658.00,1251.25) scale(1.4771,1)">IHH</text><text transform="translate(636.28,1265.95) scale(1.4121,1)">ITGAM</text><text transform="translate(629.22,1280.65) scale(1.5006,1)">MMP10</text><text transform="translate(638.96,1295.35) scale(1.4736,1)">MMP9</text><text transform="translate(643.78,1310.05) scale(1.3878,1)">PHEX</text><text transform="translate(646.69,1324.75) scale(1.3801,1)">SPP1</text><text transform="translate(655.48,1339.45) scale(1.4018,1)">TNF</text><text transform="translate(635.69,1354.15) scale(1.3878,1)">HPRT1</text><text transform="translate(634.60,1368.85) scale(1.3953,1)">NFKB1</text><text transform="translate(634.75,1383.55) scale(1.3520,1)">VEGFB</text><text transform="translate(642.26,1398.25) scale(1.4187,1)">BMP1</text><text transform="translate(616.34,1412.95) scale(1.4083,1)">COL15A1</text><text transform="translate(634.08,1427.65) scale(1.3625,1)">PDGFA</text><text transform="translate(625.80,1442.35) scale(1.3842,1)">COL1A1</text><text transform="translate(652.99,1457.05) scale(1.3496,1)">BGN</text><text transform="translate(625.80,1471.75) scale(1.3842,1)">COL5A1</text><text transform="translate(616.34,1486.45) scale(1.4083,1)">COL14A1</text><text transform="translate(650.62,1501.15) scale(1.4248,1)">IGF1</text><text transform="translate(626.00,1515.85) scale(1.3847,1)">COL1A2</text><text transform="translate(625.80,1530.55) scale(1.3842,1)">COL3A1</text></g>
<g font-family="Liberation Sans" font-weight="bold" font-size="14.4px" fill="#111" stroke="#111" stroke-width="0.45"><text transform="translate(686.85,101.99) rotate(90) scale(0.9322,1)">Positive Control2.2</text><text transform="translate(704.87,114.20) rotate(90) scale(0.9231,1)">Positive Control2</text><text transform="translate(722.89,101.82) rotate(90) scale(0.9319,1)">Positive Control2.1</text><text transform="translate(740.91,146.88) rotate(90) scale(0.9307,1)">Biodentine2</text><text transform="translate(758.94,134.50) rotate(90) scale(0.9412,1)">Biodentine2.1</text><text transform="translate(776.96,134.67) rotate(90) scale(0.9416,1)">Biodentine2.2</text><text transform="translate(794.98,114.03) rotate(90) scale(0.9229,1)">Positive Control1</text><text transform="translate(813.00,101.82) rotate(90) scale(0.9319,1)">Positive Control1.1</text><text transform="translate(831.02,101.99) rotate(90) scale(0.9322,1)">Positive Control1.2</text><text transform="translate(849.04,146.71) rotate(90) scale(0.9303,1)">Biodentine1</text><text transform="translate(867.06,134.50) rotate(90) scale(0.9412,1)">Biodentine1.1</text><text transform="translate(885.09,134.67) rotate(90) scale(0.9416,1)">Biodentine1.2</text><text transform="translate(903.11,103.57) rotate(90) scale(0.9425,1)">Negative Control.3</text><text transform="translate(921.13,103.17) rotate(90) scale(0.9424,1)">Negative Control.4</text><text transform="translate(939.15,103.45) rotate(90) scale(0.9423,1)">Negative Control.5</text><text transform="translate(957.17,179.73) rotate(90) scale(0.9390,1)">Day1.1</text><text transform="translate(975.19,191.96) rotate(90) scale(0.9116,1)">Day1</text><text transform="translate(993.21,179.90) rotate(90) scale(0.9398,1)">Day1.2</text><text transform="translate(1011.24,103.45) rotate(90) scale(0.9423,1)">Negative Control.1</text><text transform="translate(1029.26,115.83) rotate(90) scale(0.9379,1)">Negative Control</text><text transform="translate(1047.28,103.62) rotate(90) scale(0.9426,1)">Negative Control.2</text></g>
<defs><linearGradient id="cb" x1="0" x2="1" y1="0" y2="0">
<stop offset="0" stop-color="#00ff00"/><stop offset="0.5" stop-color="#000"/><stop offset="1" stop-color="#ff0000"/></linearGradient></defs>
<rect x="195.4" y="1555.2" width="709.2" height="15.4" fill="url(#cb)" stroke="#222" stroke-width="1"/>
<g stroke="#333" stroke-width="1"><line x1="195.4" y1="1570" x2="195.4" y2="1574.5"/><line x1="549.9" y1="1570" x2="549.9" y2="1575"/><line x1="904.4" y1="1570" x2="904.4" y2="1575"/></g>
<g font-family="Liberation Sans" font-weight="bold" fill="#111" stroke="#111" stroke-width="0.25"><text font-size="10.3px" transform="translate(432.66,1551.10) scale(1.5862,1)">Magnitude of gene expression</text><text font-size="10.8px" transform="translate(180.57,1587.00) scale(1.5528,1)">min</text><text font-size="10.8px" transform="translate(536.20,1587.00) scale(1.5604,1)">avg</text><text font-size="10.8px" transform="translate(887.35,1587.00) scale(1.5505,1)">max</text></g>
</svg>
</body></html>
